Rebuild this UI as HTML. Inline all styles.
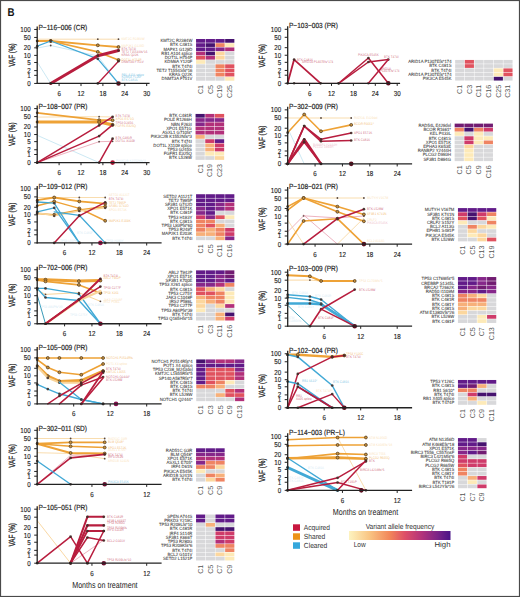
<!DOCTYPE html><html><head><meta charset="utf-8"><style>html,body{margin:0;padding:0;background:#fff;width:520px;height:597px;overflow:hidden}</style></head><body><svg width="520" height="597" viewBox="0 0 520 597" style="display:block;font-family:'Liberation Sans', sans-serif" text-rendering="geometricPrecision">
<rect x="0" y="0" width="520" height="597" fill="#fff"/>
<text x="7.60" y="16.30" font-size="11.3" fill="#111" text-anchor="start" textLength="7.02" lengthAdjust="spacingAndGlyphs" font-weight="bold">B</text>
<text x="38.50" y="29.95" font-size="7.4" fill="#222" text-anchor="start" stroke="#222" stroke-width="0.18" textLength="48.75" lengthAdjust="spacingAndGlyphs">P−116−006 (CR)</text>
<text transform="translate(14.50,55.05) rotate(-90)" font-size="9" fill="#222" stroke="#222" stroke-width="0.25" text-anchor="middle" textLength="23.5" lengthAdjust="spacingAndGlyphs">VAF (%)</text>
<polyline points="37.20,39.20 50.70,39.20 97.80,39.20 118.50,39.20" fill="none" stroke="#f8d49a" stroke-width="0.8" stroke-linejoin="round" stroke-linecap="round"/>
<circle cx="97.80" cy="39.20" r="0.9" fill="#3b2a24" fill-opacity="0.85"/>
<circle cx="118.50" cy="39.20" r="0.9" fill="#3b2a24" fill-opacity="0.85"/>
<polyline points="37.20,48.00 50.70,45.50 97.80,56.00 118.50,83.45" fill="none" stroke="#bfe2f0" stroke-width="0.8" stroke-linejoin="round" stroke-linecap="round"/>
<circle cx="37.20" cy="48.00" r="0.9" fill="#3b2a24" fill-opacity="0.85"/>
<circle cx="50.70" cy="45.50" r="0.9" fill="#3b2a24" fill-opacity="0.85"/>
<circle cx="97.80" cy="56.00" r="0.9" fill="#3b2a24" fill-opacity="0.85"/>
<circle cx="118.50" cy="83.45" r="0.9" fill="#3b2a24" fill-opacity="0.85"/>
<polyline points="37.20,62.00 50.70,83.45" fill="none" stroke="#bfe2f0" stroke-width="0.8" stroke-linejoin="round" stroke-linecap="round"/>
<polyline points="37.20,41.00 50.70,41.00 97.80,45.30 118.50,47.00" fill="none" stroke="#eea236" stroke-width="1.8" stroke-linejoin="round" stroke-linecap="round"/>
<circle cx="37.20" cy="41.00" r="1.35" fill="#3b2a24" fill-opacity="0.85"/>
<circle cx="50.70" cy="41.00" r="1.4500000000000002" fill="#c8923a" stroke="#4a3520" stroke-width="0.8" stroke-opacity="0.9"/>
<circle cx="97.80" cy="45.30" r="1.4500000000000002" fill="#c8923a" stroke="#4a3520" stroke-width="0.8" stroke-opacity="0.9"/>
<circle cx="118.50" cy="47.00" r="1.4500000000000002" fill="#c8923a" stroke="#4a3520" stroke-width="0.8" stroke-opacity="0.9"/>
<polyline points="37.20,41.00 50.70,41.00 97.80,51.90 118.50,60.00" fill="none" stroke="#eea236" stroke-width="1.6" stroke-linejoin="round" stroke-linecap="round"/>
<circle cx="37.20" cy="41.00" r="1.35" fill="#3b2a24" fill-opacity="0.85"/>
<circle cx="50.70" cy="41.00" r="1.4500000000000002" fill="#c8923a" stroke="#4a3520" stroke-width="0.8" stroke-opacity="0.9"/>
<circle cx="97.80" cy="51.90" r="1.4500000000000002" fill="#c8923a" stroke="#4a3520" stroke-width="0.8" stroke-opacity="0.9"/>
<circle cx="118.50" cy="60.00" r="1.4500000000000002" fill="#c8923a" stroke="#4a3520" stroke-width="0.8" stroke-opacity="0.9"/>
<polyline points="37.20,46.20 50.70,41.00 97.80,58.80 118.50,83.45" fill="none" stroke="#42a9d6" stroke-width="1.3" stroke-linejoin="round" stroke-linecap="round"/>
<circle cx="37.20" cy="46.20" r="1.35" fill="#3b2a24" fill-opacity="0.85"/>
<circle cx="50.70" cy="41.00" r="1.35" fill="#3b2a24" fill-opacity="0.85"/>
<circle cx="97.80" cy="58.80" r="1.35" fill="#3b2a24" fill-opacity="0.85"/>
<circle cx="118.50" cy="83.45" r="1.35" fill="#3b2a24" fill-opacity="0.85"/>
<polyline points="50.70,83.45 97.80,55.70 118.50,50.50" fill="none" stroke="#b81d3e" stroke-width="3.0" stroke-linejoin="round" stroke-linecap="round"/>
<circle cx="50.70" cy="83.45" r="1.35" fill="#3b2a24" fill-opacity="0.85"/>
<circle cx="97.80" cy="55.70" r="1.35" fill="#3b2a24" fill-opacity="0.85"/>
<circle cx="118.50" cy="50.50" r="1.35" fill="#3b2a24" fill-opacity="0.85"/>
<polyline points="97.80,83.45 118.50,61.20" fill="none" stroke="#b81d3e" stroke-width="1.3" stroke-linejoin="round" stroke-linecap="round"/>
<circle cx="97.80" cy="83.45" r="1.35" fill="#3b2a24" fill-opacity="0.85"/>
<circle cx="118.50" cy="61.20" r="1.35" fill="#3b2a24" fill-opacity="0.85"/>
<circle cx="118.50" cy="83.45" r="2.3" fill="#5a1020"/>
<text x="121.50" y="40.20" font-size="3.6" fill="#f8d49a" text-anchor="start" textLength="23.13" lengthAdjust="spacingAndGlyphs" fill-opacity="0.72">KMT2C R2384W</text>
<text x="121.50" y="46.60" font-size="3.6" fill="#f8d49a" text-anchor="start" textLength="22.62" lengthAdjust="spacingAndGlyphs" fill-opacity="0.72">MAP2K1 G129D</text>
<text x="121.50" y="49.60" font-size="3.6" fill="#b81d3e" text-anchor="start" textLength="14.57" lengthAdjust="spacingAndGlyphs" fill-opacity="0.72">BTK T474I</text>
<text x="121.50" y="52.60" font-size="3.6" fill="#b81d3e" text-anchor="start" textLength="25.97" lengthAdjust="spacingAndGlyphs" fill-opacity="0.72">TET2 T1554Sfs*16</text>
<text x="121.50" y="55.60" font-size="3.6" fill="#b81d3e" text-anchor="start" textLength="17.01" lengthAdjust="spacingAndGlyphs" fill-opacity="0.72">KRAS Q22K</text>
<text x="121.50" y="60.80" font-size="3.6" fill="#eea236" text-anchor="start" textLength="19.96" lengthAdjust="spacingAndGlyphs" fill-opacity="0.72">DOT1L H754P</text>
<text x="121.50" y="63.40" font-size="3.6" fill="#b81d3e" text-anchor="start" textLength="22.28" lengthAdjust="spacingAndGlyphs" fill-opacity="0.72">DNMT3A F751V</text>
<text x="121.50" y="75.60" font-size="3.6" fill="#42a9d6" text-anchor="start" textLength="22.45" lengthAdjust="spacingAndGlyphs" fill-opacity="0.72">RB1 A104 splice</text>
<text x="121.50" y="78.40" font-size="3.6" fill="#42a9d6" text-anchor="start" textLength="20.18" lengthAdjust="spacingAndGlyphs" fill-opacity="0.72">KDM6A Y120F</text>
<text x="121.50" y="81.40" font-size="3.6" fill="#42a9d6" text-anchor="start" textLength="16.16" lengthAdjust="spacingAndGlyphs" fill-opacity="0.72">BTK C481S</text>
<line x1="37.20" y1="26.45" x2="37.20" y2="84.05" stroke="#222" stroke-width="1.3"/>
<line x1="36.60" y1="83.45" x2="149.60" y2="83.45" stroke="#222" stroke-width="1.3"/>
<line x1="34.20" y1="29.45" x2="37.20" y2="29.45" stroke="#222" stroke-width="1"/>
<text x="30.60" y="31.95" font-size="7.2" fill="#222" text-anchor="end" stroke="#222" stroke-width="0.14" textLength="10.33" lengthAdjust="spacingAndGlyphs">100</text>
<line x1="34.20" y1="37.45" x2="37.20" y2="37.45" stroke="#222" stroke-width="1"/>
<text x="30.60" y="39.95" font-size="7.2" fill="#222" text-anchor="end" stroke="#222" stroke-width="0.14" textLength="6.89" lengthAdjust="spacingAndGlyphs">50</text>
<line x1="34.20" y1="47.83" x2="37.20" y2="47.83" stroke="#222" stroke-width="1"/>
<text x="30.60" y="50.33" font-size="7.2" fill="#222" text-anchor="end" stroke="#222" stroke-width="0.14" textLength="6.89" lengthAdjust="spacingAndGlyphs">20</text>
<line x1="34.20" y1="55.39" x2="37.20" y2="55.39" stroke="#222" stroke-width="1"/>
<text x="30.60" y="57.89" font-size="7.2" fill="#222" text-anchor="end" stroke="#222" stroke-width="0.14" textLength="6.89" lengthAdjust="spacingAndGlyphs">10</text>
<line x1="34.20" y1="62.49" x2="37.20" y2="62.49" stroke="#222" stroke-width="1"/>
<text x="30.60" y="64.99" font-size="7.2" fill="#222" text-anchor="end" stroke="#222" stroke-width="0.14" textLength="3.44" lengthAdjust="spacingAndGlyphs">5</text>
<line x1="34.20" y1="70.60" x2="37.20" y2="70.60" stroke="#222" stroke-width="1"/>
<text x="30.60" y="73.10" font-size="7.2" fill="#222" text-anchor="end" stroke="#222" stroke-width="0.14" textLength="3.44" lengthAdjust="spacingAndGlyphs">2</text>
<line x1="34.20" y1="75.34" x2="37.20" y2="75.34" stroke="#222" stroke-width="1"/>
<text x="30.60" y="77.84" font-size="7.2" fill="#222" text-anchor="end" stroke="#222" stroke-width="0.14" textLength="3.44" lengthAdjust="spacingAndGlyphs">1</text>
<line x1="34.20" y1="83.45" x2="37.20" y2="83.45" stroke="#222" stroke-width="1"/>
<text x="30.60" y="85.95" font-size="7.2" fill="#222" text-anchor="end" stroke="#222" stroke-width="0.14" textLength="3.44" lengthAdjust="spacingAndGlyphs">0</text>
<line x1="59.10" y1="83.45" x2="59.10" y2="86.05" stroke="#222" stroke-width="1"/>
<text x="59.10" y="95.85" font-size="7.2" fill="#222" text-anchor="middle" stroke="#222" stroke-width="0.14" textLength="3.44" lengthAdjust="spacingAndGlyphs">6</text>
<line x1="81.00" y1="83.45" x2="81.00" y2="86.05" stroke="#222" stroke-width="1"/>
<text x="81.00" y="95.85" font-size="7.2" fill="#222" text-anchor="middle" stroke="#222" stroke-width="0.14" textLength="6.89" lengthAdjust="spacingAndGlyphs">12</text>
<line x1="102.90" y1="83.45" x2="102.90" y2="86.05" stroke="#222" stroke-width="1"/>
<text x="102.90" y="95.85" font-size="7.2" fill="#222" text-anchor="middle" stroke="#222" stroke-width="0.14" textLength="6.89" lengthAdjust="spacingAndGlyphs">18</text>
<line x1="124.80" y1="83.45" x2="124.80" y2="86.05" stroke="#222" stroke-width="1"/>
<text x="124.80" y="95.85" font-size="7.2" fill="#222" text-anchor="middle" stroke="#222" stroke-width="0.14" textLength="6.89" lengthAdjust="spacingAndGlyphs">24</text>
<line x1="146.70" y1="83.45" x2="146.70" y2="86.05" stroke="#222" stroke-width="1"/>
<text x="146.70" y="95.85" font-size="7.2" fill="#222" text-anchor="middle" stroke="#222" stroke-width="0.14" textLength="6.89" lengthAdjust="spacingAndGlyphs">30</text>
<rect x="196.05" y="39.00" width="9.20" height="3.72" fill="#621b89"/>
<rect x="205.75" y="39.00" width="9.20" height="3.72" fill="#621b89"/>
<rect x="215.45" y="39.00" width="9.20" height="3.72" fill="#621b89"/>
<rect x="225.15" y="39.00" width="9.20" height="3.72" fill="#46136f"/>
<text x="192.40" y="42.27" font-size="4.7" fill="#333" text-anchor="end" stroke="#333" stroke-width="0.06" textLength="31.97" lengthAdjust="spacingAndGlyphs">KMT2C R2384W</text>
<rect x="196.05" y="43.22" width="9.20" height="3.72" fill="#621b89"/>
<rect x="205.75" y="43.22" width="9.20" height="3.72" fill="#46136f"/>
<rect x="215.45" y="43.22" width="9.20" height="3.72" fill="#ef8462"/>
<rect x="225.15" y="43.22" width="9.20" height="3.72" fill="#fdeab8"/>
<text x="192.40" y="46.49" font-size="4.7" fill="#333" text-anchor="end" stroke="#333" stroke-width="0.06" textLength="22.34" lengthAdjust="spacingAndGlyphs">BTK C481S</text>
<rect x="196.05" y="47.44" width="9.20" height="3.72" fill="#621b89"/>
<rect x="205.75" y="47.44" width="9.20" height="3.72" fill="#621b89"/>
<rect x="215.45" y="47.44" width="9.20" height="3.72" fill="#86278a"/>
<rect x="225.15" y="47.44" width="9.20" height="3.72" fill="#b2307a"/>
<text x="192.40" y="50.71" font-size="4.7" fill="#333" text-anchor="end" stroke="#333" stroke-width="0.06" textLength="28.92" lengthAdjust="spacingAndGlyphs">MAPK1 G129D</text>
<rect x="196.05" y="51.66" width="9.20" height="3.72" fill="#b2307a"/>
<rect x="205.75" y="51.66" width="9.20" height="3.72" fill="#46136f"/>
<rect x="215.45" y="51.66" width="9.20" height="3.72" fill="#fcd79e"/>
<rect x="225.15" y="51.66" width="9.20" height="3.72" fill="#d8d8da"/>
<text x="192.40" y="54.93" font-size="4.7" fill="#333" text-anchor="end" stroke="#333" stroke-width="0.06" textLength="31.04" lengthAdjust="spacingAndGlyphs">RB1 A104 splice</text>
<rect x="196.05" y="55.88" width="9.20" height="3.72" fill="#e0525f"/>
<rect x="205.75" y="55.88" width="9.20" height="3.72" fill="#b2307a"/>
<rect x="215.45" y="55.88" width="9.20" height="3.72" fill="#fcd79e"/>
<rect x="225.15" y="55.88" width="9.20" height="3.72" fill="#d8d8da"/>
<text x="192.40" y="59.15" font-size="4.7" fill="#333" text-anchor="end" stroke="#333" stroke-width="0.06" textLength="27.58" lengthAdjust="spacingAndGlyphs">DOT1L H754P</text>
<rect x="196.05" y="60.10" width="9.20" height="3.72" fill="#fdeab8"/>
<rect x="205.75" y="60.10" width="9.20" height="3.72" fill="#d8d8da"/>
<rect x="215.45" y="60.10" width="9.20" height="3.72" fill="#d8d8da"/>
<rect x="225.15" y="60.10" width="9.20" height="3.72" fill="#d8d8da"/>
<text x="192.40" y="63.37" font-size="4.7" fill="#333" text-anchor="end" stroke="#333" stroke-width="0.06" textLength="27.90" lengthAdjust="spacingAndGlyphs">KDM6A Y120F</text>
<rect x="196.05" y="64.32" width="9.20" height="3.72" fill="#d8d8da"/>
<rect x="205.75" y="64.32" width="9.20" height="3.72" fill="#d8d8da"/>
<rect x="215.45" y="64.32" width="9.20" height="3.72" fill="#ef8462"/>
<rect x="225.15" y="64.32" width="9.20" height="3.72" fill="#e0525f"/>
<text x="192.40" y="67.59" font-size="4.7" fill="#333" text-anchor="end" stroke="#333" stroke-width="0.06" textLength="20.14" lengthAdjust="spacingAndGlyphs">BTK T474I</text>
<rect x="196.05" y="68.54" width="9.20" height="3.72" fill="#d8d8da"/>
<rect x="205.75" y="68.54" width="9.20" height="3.72" fill="#d8d8da"/>
<rect x="215.45" y="68.54" width="9.20" height="3.72" fill="#ef8462"/>
<rect x="225.15" y="68.54" width="9.20" height="3.72" fill="#e0525f"/>
<text x="192.40" y="71.81" font-size="4.7" fill="#333" text-anchor="end" stroke="#333" stroke-width="0.06" textLength="35.89" lengthAdjust="spacingAndGlyphs">TET2 T1554Sfs*16</text>
<rect x="196.05" y="72.76" width="9.20" height="3.72" fill="#d8d8da"/>
<rect x="205.75" y="72.76" width="9.20" height="3.72" fill="#d8d8da"/>
<rect x="215.45" y="72.76" width="9.20" height="3.72" fill="#ef8462"/>
<rect x="225.15" y="72.76" width="9.20" height="3.72" fill="#e0525f"/>
<text x="192.40" y="76.03" font-size="4.7" fill="#333" text-anchor="end" stroke="#333" stroke-width="0.06" textLength="23.51" lengthAdjust="spacingAndGlyphs">KRAS Q22K</text>
<rect x="196.05" y="76.98" width="9.20" height="3.72" fill="#d8d8da"/>
<rect x="205.75" y="76.98" width="9.20" height="3.72" fill="#d8d8da"/>
<rect x="215.45" y="76.98" width="9.20" height="3.72" fill="#d8d8da"/>
<rect x="225.15" y="76.98" width="9.20" height="3.72" fill="#fdeab8"/>
<text x="192.40" y="80.25" font-size="4.7" fill="#333" text-anchor="end" stroke="#333" stroke-width="0.06" textLength="30.79" lengthAdjust="spacingAndGlyphs">DNMT3A F751V</text>
<text transform="translate(203.05,84.95) rotate(-90)" font-size="7.1" fill="#555" text-anchor="end">C1</text>
<text transform="translate(212.75,84.95) rotate(-90)" font-size="7.1" fill="#555" text-anchor="end">C5</text>
<text transform="translate(222.45,84.95) rotate(-90)" font-size="7.1" fill="#555" text-anchor="end">C19</text>
<text transform="translate(232.15,84.95) rotate(-90)" font-size="7.1" fill="#555" text-anchor="end">C25</text>
<text x="38.50" y="109.10" font-size="7.4" fill="#222" text-anchor="start" stroke="#222" stroke-width="0.18" textLength="48.87" lengthAdjust="spacingAndGlyphs">P−108−007 (PR)</text>
<text transform="translate(14.50,134.20) rotate(-90)" font-size="9" fill="#222" stroke="#222" stroke-width="0.25" text-anchor="middle" textLength="23.5" lengthAdjust="spacingAndGlyphs">VAF (%)</text>
<polyline points="37.20,117.10 99.10,116.70 112.60,117.00" fill="none" stroke="#f8d49a" stroke-width="0.8" stroke-linejoin="round" stroke-linecap="round"/>
<circle cx="99.10" cy="116.70" r="0.9" fill="#3b2a24" fill-opacity="0.85"/>
<circle cx="112.60" cy="117.00" r="0.9" fill="#3b2a24" fill-opacity="0.85"/>
<polyline points="37.20,135.30 99.10,162.60" fill="none" stroke="#bfe2f0" stroke-width="0.8" stroke-linejoin="round" stroke-linecap="round"/>
<polyline points="37.20,162.60 99.10,141.70 112.60,141.30" fill="none" stroke="#e8a0b0" stroke-width="0.8" stroke-linejoin="round" stroke-linecap="round"/>
<circle cx="37.20" cy="162.60" r="0.9" fill="#3b2a24" fill-opacity="0.85"/>
<circle cx="99.10" cy="141.70" r="0.9" fill="#3b2a24" fill-opacity="0.85"/>
<circle cx="112.60" cy="141.30" r="0.9" fill="#3b2a24" fill-opacity="0.85"/>
<polyline points="37.20,112.80 99.10,120.20 112.60,120.20" fill="none" stroke="#eea236" stroke-width="1.8" stroke-linejoin="round" stroke-linecap="round"/>
<circle cx="37.20" cy="112.80" r="1.35" fill="#3b2a24" fill-opacity="0.85"/>
<circle cx="99.10" cy="120.20" r="1.4500000000000002" fill="#c8923a" stroke="#4a3520" stroke-width="0.8" stroke-opacity="0.9"/>
<circle cx="112.60" cy="120.20" r="1.4500000000000002" fill="#c8923a" stroke="#4a3520" stroke-width="0.8" stroke-opacity="0.9"/>
<polyline points="37.20,122.00 99.10,122.00 112.60,124.90" fill="none" stroke="#eea236" stroke-width="3.2" stroke-linejoin="round" stroke-linecap="round"/>
<circle cx="37.20" cy="122.00" r="1.35" fill="#3b2a24" fill-opacity="0.85"/>
<circle cx="99.10" cy="122.00" r="1.4500000000000002" fill="#c8923a" stroke="#4a3520" stroke-width="0.8" stroke-opacity="0.9"/>
<circle cx="112.60" cy="124.90" r="1.4500000000000002" fill="#c8923a" stroke="#4a3520" stroke-width="0.8" stroke-opacity="0.9"/>
<polyline points="37.20,162.60 99.10,125.40 112.60,116.80" fill="none" stroke="#b81d3e" stroke-width="1.5" stroke-linejoin="round" stroke-linecap="round"/>
<circle cx="37.20" cy="162.60" r="1.35" fill="#3b2a24" fill-opacity="0.85"/>
<circle cx="99.10" cy="125.40" r="1.35" fill="#3b2a24" fill-opacity="0.85"/>
<circle cx="112.60" cy="116.80" r="1.35" fill="#3b2a24" fill-opacity="0.85"/>
<polyline points="37.20,162.60 99.10,136.10 112.60,124.90" fill="none" stroke="#b81d3e" stroke-width="1.5" stroke-linejoin="round" stroke-linecap="round"/>
<circle cx="37.20" cy="162.60" r="1.35" fill="#3b2a24" fill-opacity="0.85"/>
<circle cx="99.10" cy="136.10" r="1.35" fill="#3b2a24" fill-opacity="0.85"/>
<circle cx="112.60" cy="124.90" r="1.35" fill="#3b2a24" fill-opacity="0.85"/>
<polyline points="99.10,162.60 112.60,138.70" fill="none" stroke="#b81d3e" stroke-width="1.5" stroke-linejoin="round" stroke-linecap="round"/>
<circle cx="99.10" cy="162.60" r="1.35" fill="#3b2a24" fill-opacity="0.85"/>
<circle cx="112.60" cy="138.70" r="1.35" fill="#3b2a24" fill-opacity="0.85"/>
<circle cx="112.60" cy="162.60" r="2.3" fill="#b01030"/>
<text x="115.60" y="117.30" font-size="3.6" fill="#b81d3e" text-anchor="start" textLength="14.57" lengthAdjust="spacingAndGlyphs" fill-opacity="0.72">BTK T474I</text>
<text x="115.60" y="120.00" font-size="3.6" fill="#eea236" text-anchor="start" textLength="18.54" lengthAdjust="spacingAndGlyphs" fill-opacity="0.72">XPO1 E571G</text>
<text x="115.60" y="124.20" font-size="3.6" fill="#b81d3e" text-anchor="start" textLength="17.69" lengthAdjust="spacingAndGlyphs" fill-opacity="0.72">TP53 G245S</text>
<text x="115.60" y="126.60" font-size="3.6" fill="#eea236" text-anchor="start" textLength="20.41" lengthAdjust="spacingAndGlyphs" fill-opacity="0.72">FGFR1 E325Q</text>
<text x="115.60" y="139.30" font-size="3.6" fill="#b81d3e" text-anchor="start" textLength="16.33" lengthAdjust="spacingAndGlyphs" fill-opacity="0.72">BTK C481R</text>
<text x="115.60" y="141.70" font-size="3.6" fill="#b81d3e" text-anchor="start" textLength="19.22" lengthAdjust="spacingAndGlyphs" fill-opacity="0.72">DOT1L X1109</text>
<text x="116.00" y="161.80" font-size="3.6" fill="#bfe2f0" text-anchor="start" textLength="29.77" lengthAdjust="spacingAndGlyphs" fill-opacity="0.72">PIK3C2B K1552Nfs*3</text>
<line x1="37.20" y1="105.60" x2="37.20" y2="163.20" stroke="#222" stroke-width="1.3"/>
<line x1="36.60" y1="162.60" x2="149.60" y2="162.60" stroke="#222" stroke-width="1.3"/>
<line x1="34.20" y1="108.60" x2="37.20" y2="108.60" stroke="#222" stroke-width="1"/>
<text x="30.60" y="111.10" font-size="7.2" fill="#222" text-anchor="end" stroke="#222" stroke-width="0.14" textLength="10.33" lengthAdjust="spacingAndGlyphs">100</text>
<line x1="34.20" y1="116.60" x2="37.20" y2="116.60" stroke="#222" stroke-width="1"/>
<text x="30.60" y="119.10" font-size="7.2" fill="#222" text-anchor="end" stroke="#222" stroke-width="0.14" textLength="6.89" lengthAdjust="spacingAndGlyphs">50</text>
<line x1="34.20" y1="126.98" x2="37.20" y2="126.98" stroke="#222" stroke-width="1"/>
<text x="30.60" y="129.48" font-size="7.2" fill="#222" text-anchor="end" stroke="#222" stroke-width="0.14" textLength="6.89" lengthAdjust="spacingAndGlyphs">20</text>
<line x1="34.20" y1="134.54" x2="37.20" y2="134.54" stroke="#222" stroke-width="1"/>
<text x="30.60" y="137.04" font-size="7.2" fill="#222" text-anchor="end" stroke="#222" stroke-width="0.14" textLength="6.89" lengthAdjust="spacingAndGlyphs">10</text>
<line x1="34.20" y1="141.64" x2="37.20" y2="141.64" stroke="#222" stroke-width="1"/>
<text x="30.60" y="144.14" font-size="7.2" fill="#222" text-anchor="end" stroke="#222" stroke-width="0.14" textLength="3.44" lengthAdjust="spacingAndGlyphs">5</text>
<line x1="34.20" y1="149.75" x2="37.20" y2="149.75" stroke="#222" stroke-width="1"/>
<text x="30.60" y="152.25" font-size="7.2" fill="#222" text-anchor="end" stroke="#222" stroke-width="0.14" textLength="3.44" lengthAdjust="spacingAndGlyphs">2</text>
<line x1="34.20" y1="154.49" x2="37.20" y2="154.49" stroke="#222" stroke-width="1"/>
<text x="30.60" y="156.99" font-size="7.2" fill="#222" text-anchor="end" stroke="#222" stroke-width="0.14" textLength="3.44" lengthAdjust="spacingAndGlyphs">1</text>
<line x1="34.20" y1="162.60" x2="37.20" y2="162.60" stroke="#222" stroke-width="1"/>
<text x="30.60" y="165.10" font-size="7.2" fill="#222" text-anchor="end" stroke="#222" stroke-width="0.14" textLength="3.44" lengthAdjust="spacingAndGlyphs">0</text>
<line x1="59.10" y1="162.60" x2="59.10" y2="165.20" stroke="#222" stroke-width="1"/>
<text x="59.10" y="175.00" font-size="7.2" fill="#222" text-anchor="middle" stroke="#222" stroke-width="0.14" textLength="3.44" lengthAdjust="spacingAndGlyphs">6</text>
<line x1="81.00" y1="162.60" x2="81.00" y2="165.20" stroke="#222" stroke-width="1"/>
<text x="81.00" y="175.00" font-size="7.2" fill="#222" text-anchor="middle" stroke="#222" stroke-width="0.14" textLength="6.89" lengthAdjust="spacingAndGlyphs">12</text>
<line x1="102.90" y1="162.60" x2="102.90" y2="165.20" stroke="#222" stroke-width="1"/>
<text x="102.90" y="175.00" font-size="7.2" fill="#222" text-anchor="middle" stroke="#222" stroke-width="0.14" textLength="6.89" lengthAdjust="spacingAndGlyphs">18</text>
<line x1="124.80" y1="162.60" x2="124.80" y2="165.20" stroke="#222" stroke-width="1"/>
<text x="124.80" y="175.00" font-size="7.2" fill="#222" text-anchor="middle" stroke="#222" stroke-width="0.14" textLength="6.89" lengthAdjust="spacingAndGlyphs">24</text>
<line x1="146.70" y1="162.60" x2="146.70" y2="165.20" stroke="#222" stroke-width="1"/>
<text x="146.70" y="175.00" font-size="7.2" fill="#222" text-anchor="middle" stroke="#222" stroke-width="0.14" textLength="6.89" lengthAdjust="spacingAndGlyphs">30</text>
<rect x="195.55" y="113.93" width="9.20" height="3.72" fill="#46136f"/>
<rect x="205.25" y="113.93" width="9.20" height="3.72" fill="#b2307a"/>
<rect x="214.95" y="113.93" width="9.20" height="3.72" fill="#e0525f"/>
<text x="191.90" y="117.20" font-size="4.7" fill="#333" text-anchor="end" stroke="#333" stroke-width="0.06" textLength="22.57" lengthAdjust="spacingAndGlyphs">BTK C481R</text>
<rect x="195.55" y="118.15" width="9.20" height="3.72" fill="#86278a"/>
<rect x="205.25" y="118.15" width="9.20" height="3.72" fill="#86278a"/>
<rect x="214.95" y="118.15" width="9.20" height="3.72" fill="#86278a"/>
<text x="191.90" y="121.42" font-size="4.7" fill="#333" text-anchor="end" stroke="#333" stroke-width="0.06" textLength="27.98" lengthAdjust="spacingAndGlyphs">POLE R1266H</text>
<rect x="195.55" y="122.37" width="9.20" height="3.72" fill="#86278a"/>
<rect x="205.25" y="122.37" width="9.20" height="3.72" fill="#b2307a"/>
<rect x="214.95" y="122.37" width="9.20" height="3.72" fill="#b2307a"/>
<text x="191.90" y="125.64" font-size="4.7" fill="#333" text-anchor="end" stroke="#333" stroke-width="0.06" textLength="20.92" lengthAdjust="spacingAndGlyphs">NBN F263I</text>
<rect x="195.55" y="126.59" width="9.20" height="3.72" fill="#b2307a"/>
<rect x="205.25" y="126.59" width="9.20" height="3.72" fill="#b2307a"/>
<rect x="214.95" y="126.59" width="9.20" height="3.72" fill="#b2307a"/>
<text x="191.90" y="129.86" font-size="4.7" fill="#333" text-anchor="end" stroke="#333" stroke-width="0.06" textLength="25.63" lengthAdjust="spacingAndGlyphs">XPO1 E571G</text>
<rect x="195.55" y="130.81" width="9.20" height="3.72" fill="#b2307a"/>
<rect x="205.25" y="130.81" width="9.20" height="3.72" fill="#b2307a"/>
<rect x="214.95" y="130.81" width="9.20" height="3.72" fill="#b2307a"/>
<text x="191.90" y="134.08" font-size="4.7" fill="#333" text-anchor="end" stroke="#333" stroke-width="0.06" textLength="29.63" lengthAdjust="spacingAndGlyphs">ASXL1 G710fs*</text>
<rect x="195.55" y="135.03" width="9.20" height="3.72" fill="#f7b07a"/>
<rect x="205.25" y="135.03" width="9.20" height="3.72" fill="#d8d8da"/>
<rect x="214.95" y="135.03" width="9.20" height="3.72" fill="#d8d8da"/>
<text x="191.90" y="138.30" font-size="4.7" fill="#333" text-anchor="end" stroke="#333" stroke-width="0.06" textLength="41.15" lengthAdjust="spacingAndGlyphs">PIK3C2B K1552Nfs*3</text>
<rect x="195.55" y="139.25" width="9.20" height="3.72" fill="#d8d8da"/>
<rect x="205.25" y="139.25" width="9.20" height="3.72" fill="#cf3b6a"/>
<rect x="214.95" y="139.25" width="9.20" height="3.72" fill="#621b89"/>
<text x="191.90" y="142.52" font-size="4.7" fill="#333" text-anchor="end" stroke="#333" stroke-width="0.06" textLength="20.14" lengthAdjust="spacingAndGlyphs">BTK T474I</text>
<rect x="195.55" y="143.47" width="9.20" height="3.72" fill="#d8d8da"/>
<rect x="205.25" y="143.47" width="9.20" height="3.72" fill="#f7b07a"/>
<rect x="214.95" y="143.47" width="9.20" height="3.72" fill="#cf3b6a"/>
<text x="191.90" y="146.74" font-size="4.7" fill="#333" text-anchor="end" stroke="#333" stroke-width="0.06" textLength="38.56" lengthAdjust="spacingAndGlyphs">DOT1L X1109 splice</text>
<rect x="195.55" y="147.69" width="9.20" height="3.72" fill="#d8d8da"/>
<rect x="205.25" y="147.69" width="9.20" height="3.72" fill="#f7b07a"/>
<rect x="214.95" y="147.69" width="9.20" height="3.72" fill="#cf3b6a"/>
<text x="191.90" y="150.96" font-size="4.7" fill="#333" text-anchor="end" stroke="#333" stroke-width="0.06" textLength="24.45" lengthAdjust="spacingAndGlyphs">TP53 G245S</text>
<rect x="195.55" y="151.91" width="9.20" height="3.72" fill="#d8d8da"/>
<rect x="205.25" y="151.91" width="9.20" height="3.72" fill="#fdeab8"/>
<rect x="214.95" y="151.91" width="9.20" height="3.72" fill="#fdeab8"/>
<text x="191.90" y="155.18" font-size="4.7" fill="#333" text-anchor="end" stroke="#333" stroke-width="0.06" textLength="28.21" lengthAdjust="spacingAndGlyphs">FGFR1 E325Q</text>
<rect x="195.55" y="156.13" width="9.20" height="3.72" fill="#d8d8da"/>
<rect x="205.25" y="156.13" width="9.20" height="3.72" fill="#d8d8da"/>
<rect x="214.95" y="156.13" width="9.20" height="3.72" fill="#fcd79e"/>
<text x="191.90" y="159.40" font-size="4.7" fill="#333" text-anchor="end" stroke="#333" stroke-width="0.06" textLength="22.80" lengthAdjust="spacingAndGlyphs">BTK L528W</text>
<text transform="translate(202.55,164.10) rotate(-90)" font-size="7.1" fill="#555" text-anchor="end">C1</text>
<text transform="translate(212.25,164.10) rotate(-90)" font-size="7.1" fill="#555" text-anchor="end">C19</text>
<text transform="translate(221.95,164.10) rotate(-90)" font-size="7.1" fill="#555" text-anchor="end">C23</text>
<text x="38.50" y="189.40" font-size="7.4" fill="#222" text-anchor="start" stroke="#222" stroke-width="0.18" textLength="48.87" lengthAdjust="spacingAndGlyphs">P−109−012 (PR)</text>
<text transform="translate(14.50,214.50) rotate(-90)" font-size="9" fill="#222" stroke="#222" stroke-width="0.25" text-anchor="middle" textLength="23.5" lengthAdjust="spacingAndGlyphs">VAF (%)</text>
<polyline points="37.20,197.50 54.20,197.50 79.30,197.50 105.20,197.50" fill="none" stroke="#f8d49a" stroke-width="0.8" stroke-linejoin="round" stroke-linecap="round"/>
<circle cx="79.30" cy="197.50" r="0.9" fill="#3b2a24" fill-opacity="0.85"/>
<circle cx="105.20" cy="197.50" r="0.9" fill="#3b2a24" fill-opacity="0.85"/>
<polyline points="37.20,200.20 54.20,197.50 79.30,201.40 105.20,203.70" fill="none" stroke="#eea236" stroke-width="1.8" stroke-linejoin="round" stroke-linecap="round"/>
<circle cx="37.20" cy="200.20" r="1.35" fill="#3b2a24" fill-opacity="0.85"/>
<circle cx="54.20" cy="197.50" r="1.4500000000000002" fill="#c8923a" stroke="#4a3520" stroke-width="0.8" stroke-opacity="0.9"/>
<circle cx="79.30" cy="201.40" r="1.4500000000000002" fill="#c8923a" stroke="#4a3520" stroke-width="0.8" stroke-opacity="0.9"/>
<circle cx="105.20" cy="203.70" r="1.4500000000000002" fill="#c8923a" stroke="#4a3520" stroke-width="0.8" stroke-opacity="0.9"/>
<polyline points="37.20,205.80 54.20,201.40 79.30,208.40 105.20,220.80" fill="none" stroke="#eea236" stroke-width="1.5" stroke-linejoin="round" stroke-linecap="round"/>
<circle cx="37.20" cy="205.80" r="1.35" fill="#3b2a24" fill-opacity="0.85"/>
<circle cx="54.20" cy="201.40" r="1.4500000000000002" fill="#c8923a" stroke="#4a3520" stroke-width="0.8" stroke-opacity="0.9"/>
<circle cx="79.30" cy="208.40" r="1.4500000000000002" fill="#c8923a" stroke="#4a3520" stroke-width="0.8" stroke-opacity="0.9"/>
<circle cx="105.20" cy="220.80" r="1.4500000000000002" fill="#c8923a" stroke="#4a3520" stroke-width="0.8" stroke-opacity="0.9"/>
<polyline points="37.20,213.50 54.20,214.80 79.30,210.10 105.20,206.60" fill="none" stroke="#eea236" stroke-width="1.5" stroke-linejoin="round" stroke-linecap="round"/>
<circle cx="37.20" cy="213.50" r="1.35" fill="#3b2a24" fill-opacity="0.85"/>
<circle cx="54.20" cy="214.80" r="1.4500000000000002" fill="#c8923a" stroke="#4a3520" stroke-width="0.8" stroke-opacity="0.9"/>
<circle cx="79.30" cy="210.10" r="1.4500000000000002" fill="#c8923a" stroke="#4a3520" stroke-width="0.8" stroke-opacity="0.9"/>
<circle cx="105.20" cy="206.60" r="1.4500000000000002" fill="#c8923a" stroke="#4a3520" stroke-width="0.8" stroke-opacity="0.9"/>
<polyline points="37.20,212.70 54.20,215.80 79.30,211.00 105.20,207.80" fill="none" stroke="#f8d49a" stroke-width="1.5" stroke-linejoin="round" stroke-linecap="round"/>
<circle cx="37.20" cy="212.70" r="1.35" fill="#3b2a24" fill-opacity="0.85"/>
<circle cx="54.20" cy="215.80" r="1.35" fill="#3b2a24" fill-opacity="0.85"/>
<circle cx="79.30" cy="211.00" r="1.35" fill="#3b2a24" fill-opacity="0.85"/>
<circle cx="105.20" cy="207.80" r="1.35" fill="#3b2a24" fill-opacity="0.85"/>
<polyline points="37.20,202.00 54.20,203.20 79.30,242.90" fill="none" stroke="#42a9d6" stroke-width="1.3" stroke-linejoin="round" stroke-linecap="round"/>
<circle cx="37.20" cy="202.00" r="1.35" fill="#3b2a24" fill-opacity="0.85"/>
<circle cx="54.20" cy="203.20" r="1.35" fill="#3b2a24" fill-opacity="0.85"/>
<circle cx="79.30" cy="242.90" r="1.35" fill="#3b2a24" fill-opacity="0.85"/>
<polyline points="37.20,211.80 54.20,207.80 79.30,242.90" fill="none" stroke="#42a9d6" stroke-width="1.3" stroke-linejoin="round" stroke-linecap="round"/>
<circle cx="37.20" cy="211.80" r="1.35" fill="#3b2a24" fill-opacity="0.85"/>
<circle cx="54.20" cy="207.80" r="1.35" fill="#3b2a24" fill-opacity="0.85"/>
<circle cx="79.30" cy="242.90" r="1.35" fill="#3b2a24" fill-opacity="0.85"/>
<polyline points="54.20,211.80 79.30,215.30 105.20,242.90" fill="none" stroke="#42a9d6" stroke-width="1.3" stroke-linejoin="round" stroke-linecap="round"/>
<circle cx="79.30" cy="215.30" r="1.35" fill="#3b2a24" fill-opacity="0.85"/>
<circle cx="105.20" cy="242.90" r="1.35" fill="#3b2a24" fill-opacity="0.85"/>
<polyline points="54.20,242.90 79.30,215.80 105.20,202.30" fill="none" stroke="#b81d3e" stroke-width="1.5" stroke-linejoin="round" stroke-linecap="round"/>
<circle cx="54.20" cy="242.90" r="1.35" fill="#3b2a24" fill-opacity="0.85"/>
<circle cx="79.30" cy="215.80" r="1.35" fill="#3b2a24" fill-opacity="0.85"/>
<circle cx="105.20" cy="202.30" r="1.35" fill="#3b2a24" fill-opacity="0.85"/>
<circle cx="100.40" cy="242.90" r="2.3" fill="#a0104a"/>
<text x="108.70" y="195.60" font-size="3.6" fill="#f8d49a" text-anchor="start" textLength="21.03" lengthAdjust="spacingAndGlyphs" fill-opacity="0.72">SETD2 A1121T</text>
<text x="108.70" y="200.00" font-size="3.6" fill="#b81d3e" text-anchor="start" textLength="14.57" lengthAdjust="spacingAndGlyphs" fill-opacity="0.72">BTK T474I</text>
<text x="108.70" y="203.80" font-size="3.6" fill="#eea236" text-anchor="start" textLength="17.29" lengthAdjust="spacingAndGlyphs" fill-opacity="0.72">TET2 T995P</text>
<text x="108.70" y="207.40" font-size="3.6" fill="#eea236" text-anchor="start" textLength="19.90" lengthAdjust="spacingAndGlyphs" fill-opacity="0.72">SF3B1 G742D</text>
<text x="108.70" y="211.20" font-size="3.6" fill="#f8d49a" text-anchor="start" textLength="18.20" lengthAdjust="spacingAndGlyphs" fill-opacity="0.72">XPO1 E571K</text>
<text x="108.70" y="221.60" font-size="3.6" fill="#eea236" text-anchor="start" textLength="22.11" lengthAdjust="spacingAndGlyphs" fill-opacity="0.72">MAP2K1 E203K</text>
<text x="77.00" y="234.40" font-size="3.6" fill="#bfe2f0" text-anchor="start" textLength="15.99" lengthAdjust="spacingAndGlyphs" fill-opacity="0.72">BTK C481F</text>
<text x="60.00" y="242.00" font-size="3.6" fill="#bfe2f0" text-anchor="start" textLength="17.69" lengthAdjust="spacingAndGlyphs" fill-opacity="0.72">TP53 L93Pfs</text>
<text x="106.00" y="242.00" font-size="3.6" fill="#bfe2f0" text-anchor="start" textLength="17.52" lengthAdjust="spacingAndGlyphs" fill-opacity="0.72">TP53 H193Y</text>
<line x1="37.20" y1="185.90" x2="37.20" y2="243.50" stroke="#222" stroke-width="1.3"/>
<line x1="36.60" y1="242.90" x2="161.60" y2="242.90" stroke="#222" stroke-width="1.3"/>
<line x1="34.20" y1="188.90" x2="37.20" y2="188.90" stroke="#222" stroke-width="1"/>
<text x="30.60" y="191.40" font-size="7.2" fill="#222" text-anchor="end" stroke="#222" stroke-width="0.14" textLength="10.33" lengthAdjust="spacingAndGlyphs">100</text>
<line x1="34.20" y1="196.90" x2="37.20" y2="196.90" stroke="#222" stroke-width="1"/>
<text x="30.60" y="199.40" font-size="7.2" fill="#222" text-anchor="end" stroke="#222" stroke-width="0.14" textLength="6.89" lengthAdjust="spacingAndGlyphs">50</text>
<line x1="34.20" y1="207.28" x2="37.20" y2="207.28" stroke="#222" stroke-width="1"/>
<text x="30.60" y="209.78" font-size="7.2" fill="#222" text-anchor="end" stroke="#222" stroke-width="0.14" textLength="6.89" lengthAdjust="spacingAndGlyphs">20</text>
<line x1="34.20" y1="214.84" x2="37.20" y2="214.84" stroke="#222" stroke-width="1"/>
<text x="30.60" y="217.34" font-size="7.2" fill="#222" text-anchor="end" stroke="#222" stroke-width="0.14" textLength="6.89" lengthAdjust="spacingAndGlyphs">10</text>
<line x1="34.20" y1="221.94" x2="37.20" y2="221.94" stroke="#222" stroke-width="1"/>
<text x="30.60" y="224.44" font-size="7.2" fill="#222" text-anchor="end" stroke="#222" stroke-width="0.14" textLength="3.44" lengthAdjust="spacingAndGlyphs">5</text>
<line x1="34.20" y1="230.05" x2="37.20" y2="230.05" stroke="#222" stroke-width="1"/>
<text x="30.60" y="232.55" font-size="7.2" fill="#222" text-anchor="end" stroke="#222" stroke-width="0.14" textLength="3.44" lengthAdjust="spacingAndGlyphs">2</text>
<line x1="34.20" y1="234.79" x2="37.20" y2="234.79" stroke="#222" stroke-width="1"/>
<text x="30.60" y="237.29" font-size="7.2" fill="#222" text-anchor="end" stroke="#222" stroke-width="0.14" textLength="3.44" lengthAdjust="spacingAndGlyphs">1</text>
<line x1="34.20" y1="242.90" x2="37.20" y2="242.90" stroke="#222" stroke-width="1"/>
<text x="30.60" y="245.40" font-size="7.2" fill="#222" text-anchor="end" stroke="#222" stroke-width="0.14" textLength="3.44" lengthAdjust="spacingAndGlyphs">0</text>
<line x1="64.58" y1="242.90" x2="64.58" y2="245.50" stroke="#222" stroke-width="1"/>
<text x="64.58" y="255.30" font-size="7.2" fill="#222" text-anchor="middle" stroke="#222" stroke-width="0.14" textLength="3.44" lengthAdjust="spacingAndGlyphs">6</text>
<line x1="91.95" y1="242.90" x2="91.95" y2="245.50" stroke="#222" stroke-width="1"/>
<text x="91.95" y="255.30" font-size="7.2" fill="#222" text-anchor="middle" stroke="#222" stroke-width="0.14" textLength="6.89" lengthAdjust="spacingAndGlyphs">12</text>
<line x1="119.33" y1="242.90" x2="119.33" y2="245.50" stroke="#222" stroke-width="1"/>
<text x="119.33" y="255.30" font-size="7.2" fill="#222" text-anchor="middle" stroke="#222" stroke-width="0.14" textLength="6.89" lengthAdjust="spacingAndGlyphs">18</text>
<line x1="146.70" y1="242.90" x2="146.70" y2="245.50" stroke="#222" stroke-width="1"/>
<text x="146.70" y="255.30" font-size="7.2" fill="#222" text-anchor="middle" stroke="#222" stroke-width="0.14" textLength="6.89" lengthAdjust="spacingAndGlyphs">24</text>
<rect x="196.05" y="194.23" width="9.20" height="3.72" fill="#621b89"/>
<rect x="205.75" y="194.23" width="9.20" height="3.72" fill="#621b89"/>
<rect x="215.45" y="194.23" width="9.20" height="3.72" fill="#621b89"/>
<rect x="225.15" y="194.23" width="9.20" height="3.72" fill="#621b89"/>
<text x="192.40" y="197.50" font-size="4.7" fill="#333" text-anchor="end" stroke="#333" stroke-width="0.06" textLength="29.08" lengthAdjust="spacingAndGlyphs">SETD2 A1121T</text>
<rect x="196.05" y="198.45" width="9.20" height="3.72" fill="#621b89"/>
<rect x="205.75" y="198.45" width="9.20" height="3.72" fill="#621b89"/>
<rect x="215.45" y="198.45" width="9.20" height="3.72" fill="#621b89"/>
<rect x="225.15" y="198.45" width="9.20" height="3.72" fill="#621b89"/>
<text x="192.40" y="201.72" font-size="4.7" fill="#333" text-anchor="end" stroke="#333" stroke-width="0.06" textLength="23.90" lengthAdjust="spacingAndGlyphs">TET2 T995P</text>
<rect x="196.05" y="202.67" width="9.20" height="3.72" fill="#621b89"/>
<rect x="205.75" y="202.67" width="9.20" height="3.72" fill="#621b89"/>
<rect x="215.45" y="202.67" width="9.20" height="3.72" fill="#86278a"/>
<rect x="225.15" y="202.67" width="9.20" height="3.72" fill="#b2307a"/>
<text x="192.40" y="205.94" font-size="4.7" fill="#333" text-anchor="end" stroke="#333" stroke-width="0.06" textLength="27.51" lengthAdjust="spacingAndGlyphs">SF3B1 G742D</text>
<rect x="196.05" y="206.89" width="9.20" height="3.72" fill="#86278a"/>
<rect x="205.75" y="206.89" width="9.20" height="3.72" fill="#621b89"/>
<rect x="215.45" y="206.89" width="9.20" height="3.72" fill="#86278a"/>
<rect x="225.15" y="206.89" width="9.20" height="3.72" fill="#b2307a"/>
<text x="192.40" y="210.16" font-size="4.7" fill="#333" text-anchor="end" stroke="#333" stroke-width="0.06" textLength="25.16" lengthAdjust="spacingAndGlyphs">XPO1 E571K</text>
<rect x="196.05" y="211.11" width="9.20" height="3.72" fill="#86278a"/>
<rect x="205.75" y="211.11" width="9.20" height="3.72" fill="#621b89"/>
<rect x="215.45" y="211.11" width="9.20" height="3.72" fill="#d8d8da"/>
<rect x="225.15" y="211.11" width="9.20" height="3.72" fill="#d8d8da"/>
<text x="192.40" y="214.38" font-size="4.7" fill="#333" text-anchor="end" stroke="#333" stroke-width="0.06" textLength="22.10" lengthAdjust="spacingAndGlyphs">BTK C481F</text>
<rect x="196.05" y="215.33" width="9.20" height="3.72" fill="#cf3b6a"/>
<rect x="205.75" y="215.33" width="9.20" height="3.72" fill="#86278a"/>
<rect x="215.45" y="215.33" width="9.20" height="3.72" fill="#e0525f"/>
<rect x="225.15" y="215.33" width="9.20" height="3.72" fill="#fdeab8"/>
<text x="192.40" y="218.60" font-size="4.7" fill="#333" text-anchor="end" stroke="#333" stroke-width="0.06" textLength="24.22" lengthAdjust="spacingAndGlyphs">TP53 H193Y</text>
<rect x="196.05" y="219.55" width="9.20" height="3.72" fill="#ef8462"/>
<rect x="205.75" y="219.55" width="9.20" height="3.72" fill="#ef8462"/>
<rect x="215.45" y="219.55" width="9.20" height="3.72" fill="#d8d8da"/>
<rect x="225.15" y="219.55" width="9.20" height="3.72" fill="#d8d8da"/>
<text x="192.40" y="222.82" font-size="4.7" fill="#333" text-anchor="end" stroke="#333" stroke-width="0.06" textLength="22.34" lengthAdjust="spacingAndGlyphs">BTK C481S</text>
<rect x="196.05" y="223.77" width="9.20" height="3.72" fill="#ef8462"/>
<rect x="205.75" y="223.77" width="9.20" height="3.72" fill="#e0525f"/>
<rect x="215.45" y="223.77" width="9.20" height="3.72" fill="#f7b07a"/>
<rect x="225.15" y="223.77" width="9.20" height="3.72" fill="#d8d8da"/>
<text x="192.40" y="227.04" font-size="4.7" fill="#333" text-anchor="end" stroke="#333" stroke-width="0.06" textLength="30.80" lengthAdjust="spacingAndGlyphs">TP53 L93Pfs*60</text>
<rect x="196.05" y="227.99" width="9.20" height="3.72" fill="#ef8462"/>
<rect x="205.75" y="227.99" width="9.20" height="3.72" fill="#f7b07a"/>
<rect x="215.45" y="227.99" width="9.20" height="3.72" fill="#ef8462"/>
<rect x="225.15" y="227.99" width="9.20" height="3.72" fill="#cf3b6a"/>
<text x="192.40" y="231.26" font-size="4.7" fill="#333" text-anchor="end" stroke="#333" stroke-width="0.06" textLength="23.98" lengthAdjust="spacingAndGlyphs">TP53 R249T</text>
<rect x="196.05" y="232.21" width="9.20" height="3.72" fill="#f7b07a"/>
<rect x="205.75" y="232.21" width="9.20" height="3.72" fill="#f7b07a"/>
<rect x="215.45" y="232.21" width="9.20" height="3.72" fill="#ef8462"/>
<rect x="225.15" y="232.21" width="9.20" height="3.72" fill="#cf3b6a"/>
<text x="192.40" y="235.48" font-size="4.7" fill="#333" text-anchor="end" stroke="#333" stroke-width="0.06" textLength="30.57" lengthAdjust="spacingAndGlyphs">MAP2K1 E203K</text>
<rect x="196.05" y="236.43" width="9.20" height="3.72" fill="#d8d8da"/>
<rect x="205.75" y="236.43" width="9.20" height="3.72" fill="#d8d8da"/>
<rect x="215.45" y="236.43" width="9.20" height="3.72" fill="#f7b07a"/>
<rect x="225.15" y="236.43" width="9.20" height="3.72" fill="#86278a"/>
<text x="192.40" y="239.70" font-size="4.7" fill="#333" text-anchor="end" stroke="#333" stroke-width="0.06" textLength="20.14" lengthAdjust="spacingAndGlyphs">BTK T474I</text>
<text transform="translate(203.05,244.40) rotate(-90)" font-size="7.1" fill="#555" text-anchor="end">C1</text>
<text transform="translate(212.75,244.40) rotate(-90)" font-size="7.1" fill="#555" text-anchor="end">C5</text>
<text transform="translate(222.45,244.40) rotate(-90)" font-size="7.1" fill="#555" text-anchor="end">C11</text>
<text transform="translate(232.15,244.40) rotate(-90)" font-size="7.1" fill="#555" text-anchor="end">C16</text>
<text x="38.50" y="270.25" font-size="7.4" fill="#222" text-anchor="start" stroke="#222" stroke-width="0.18" textLength="48.87" lengthAdjust="spacingAndGlyphs">P−702−006 (PR)</text>
<text transform="translate(14.50,295.35) rotate(-90)" font-size="9" fill="#222" stroke="#222" stroke-width="0.25" text-anchor="middle" textLength="23.5" lengthAdjust="spacingAndGlyphs">VAF (%)</text>
<polyline points="37.20,290.00 45.50,294.40 78.90,292.70 100.40,301.30" fill="none" stroke="#f8d49a" stroke-width="1.0" stroke-linejoin="round" stroke-linecap="round"/>
<circle cx="37.20" cy="290.00" r="0.9" fill="#3b2a24" fill-opacity="0.85"/>
<circle cx="45.50" cy="294.40" r="0.9" fill="#3b2a24" fill-opacity="0.85"/>
<circle cx="78.90" cy="292.70" r="0.9" fill="#3b2a24" fill-opacity="0.85"/>
<circle cx="100.40" cy="301.30" r="0.9" fill="#3b2a24" fill-opacity="0.85"/>
<polyline points="37.20,279.70 45.50,279.70 78.90,281.10 100.40,280.60" fill="none" stroke="#eea236" stroke-width="3.0" stroke-linejoin="round" stroke-linecap="round"/>
<circle cx="37.20" cy="279.70" r="1.35" fill="#3b2a24" fill-opacity="0.85"/>
<circle cx="45.50" cy="279.70" r="1.4500000000000002" fill="#c8923a" stroke="#4a3520" stroke-width="0.8" stroke-opacity="0.9"/>
<circle cx="78.90" cy="281.10" r="1.4500000000000002" fill="#c8923a" stroke="#4a3520" stroke-width="0.8" stroke-opacity="0.9"/>
<circle cx="100.40" cy="280.60" r="1.4500000000000002" fill="#c8923a" stroke="#4a3520" stroke-width="0.8" stroke-opacity="0.9"/>
<polyline points="37.20,279.70 45.50,281.40 78.90,284.90 100.40,293.00" fill="none" stroke="#eea236" stroke-width="1.6" stroke-linejoin="round" stroke-linecap="round"/>
<circle cx="37.20" cy="279.70" r="1.35" fill="#3b2a24" fill-opacity="0.85"/>
<circle cx="45.50" cy="281.40" r="1.4500000000000002" fill="#c8923a" stroke="#4a3520" stroke-width="0.8" stroke-opacity="0.9"/>
<circle cx="78.90" cy="284.90" r="1.4500000000000002" fill="#c8923a" stroke="#4a3520" stroke-width="0.8" stroke-opacity="0.9"/>
<circle cx="100.40" cy="293.00" r="1.4500000000000002" fill="#c8923a" stroke="#4a3520" stroke-width="0.8" stroke-opacity="0.9"/>
<polyline points="37.20,288.40 45.50,288.40 78.90,293.90 100.40,323.75" fill="none" stroke="#42a9d6" stroke-width="1.4" stroke-linejoin="round" stroke-linecap="round"/>
<circle cx="37.20" cy="288.40" r="1.35" fill="#3b2a24" fill-opacity="0.85"/>
<circle cx="45.50" cy="288.40" r="1.35" fill="#3b2a24" fill-opacity="0.85"/>
<circle cx="78.90" cy="293.90" r="1.35" fill="#3b2a24" fill-opacity="0.85"/>
<circle cx="100.40" cy="323.75" r="1.35" fill="#3b2a24" fill-opacity="0.85"/>
<polyline points="37.20,288.40 45.50,297.50 78.90,300.50 100.40,323.75" fill="none" stroke="#42a9d6" stroke-width="1.4" stroke-linejoin="round" stroke-linecap="round"/>
<circle cx="37.20" cy="288.40" r="1.35" fill="#3b2a24" fill-opacity="0.85"/>
<circle cx="45.50" cy="297.50" r="1.35" fill="#3b2a24" fill-opacity="0.85"/>
<circle cx="78.90" cy="300.50" r="1.35" fill="#3b2a24" fill-opacity="0.85"/>
<circle cx="100.40" cy="323.75" r="1.35" fill="#3b2a24" fill-opacity="0.85"/>
<polyline points="37.20,295.00 45.50,323.75" fill="none" stroke="#3a9ab8" stroke-width="1.0" stroke-linejoin="round" stroke-linecap="round"/>
<polyline points="45.50,323.75 78.90,300.50 100.40,291.00" fill="none" stroke="#f8d49a" stroke-width="2.2" stroke-linejoin="round" stroke-linecap="round"/>
<polyline points="45.50,323.75 78.90,299.60 100.40,286.60" fill="none" stroke="#b81d3e" stroke-width="1.6" stroke-linejoin="round" stroke-linecap="round"/>
<circle cx="45.50" cy="323.75" r="1.35" fill="#3b2a24" fill-opacity="0.85"/>
<circle cx="78.90" cy="299.60" r="1.35" fill="#3b2a24" fill-opacity="0.85"/>
<circle cx="100.40" cy="286.60" r="1.35" fill="#3b2a24" fill-opacity="0.85"/>
<polyline points="45.50,323.75 78.90,299.60 100.40,278.80" fill="none" stroke="#b81d3e" stroke-width="2.0" stroke-linejoin="round" stroke-linecap="round"/>
<circle cx="45.50" cy="323.75" r="1.35" fill="#3b2a24" fill-opacity="0.85"/>
<circle cx="78.90" cy="299.60" r="1.35" fill="#3b2a24" fill-opacity="0.85"/>
<circle cx="100.40" cy="278.80" r="1.35" fill="#3b2a24" fill-opacity="0.85"/>
<circle cx="100.40" cy="323.75" r="2.3" fill="#7a1030"/>
<text x="103.50" y="276.80" font-size="3.6" fill="#b81d3e" text-anchor="start" textLength="14.57" lengthAdjust="spacingAndGlyphs" fill-opacity="0.72">BTK T474I</text>
<text x="103.50" y="279.20" font-size="3.6" fill="#eea236" text-anchor="start" textLength="17.30" lengthAdjust="spacingAndGlyphs" fill-opacity="0.72">ABL2 T942P</text>
<text x="103.50" y="288.50" font-size="3.6" fill="#b81d3e" text-anchor="start" textLength="17.35" lengthAdjust="spacingAndGlyphs" fill-opacity="0.72">TP53 C277F</text>
<text x="103.50" y="294.00" font-size="3.6" fill="#eea236" text-anchor="start" textLength="15.31" lengthAdjust="spacingAndGlyphs" fill-opacity="0.72">TP53 X261</text>
<text x="103.50" y="300.60" font-size="3.6" fill="#f8d49a" text-anchor="start" textLength="19.05" lengthAdjust="spacingAndGlyphs" fill-opacity="0.72">JAK3 C1048F</text>
<text x="103.50" y="303.00" font-size="3.6" fill="#f8d49a" text-anchor="start" textLength="16.50" lengthAdjust="spacingAndGlyphs" fill-opacity="0.72">IRS2 P586L</text>
<text x="40.00" y="308.40" font-size="3.6" fill="#bfe2f0" text-anchor="start" textLength="22.45" lengthAdjust="spacingAndGlyphs" fill-opacity="0.72">TP53 A84Pfs*39</text>
<text x="70.00" y="316.40" font-size="3.6" fill="#bfe2f0" text-anchor="start" textLength="17.52" lengthAdjust="spacingAndGlyphs" fill-opacity="0.72">TP53 C275Y</text>
<text x="88.00" y="306.00" font-size="3.6" fill="#bfe2f0" text-anchor="start" textLength="16.16" lengthAdjust="spacingAndGlyphs" fill-opacity="0.72">BTK C481S</text>
<line x1="37.20" y1="266.75" x2="37.20" y2="324.35" stroke="#222" stroke-width="1.3"/>
<line x1="36.60" y1="323.75" x2="161.60" y2="323.75" stroke="#222" stroke-width="1.3"/>
<line x1="34.20" y1="269.75" x2="37.20" y2="269.75" stroke="#222" stroke-width="1"/>
<text x="30.60" y="272.25" font-size="7.2" fill="#222" text-anchor="end" stroke="#222" stroke-width="0.14" textLength="10.33" lengthAdjust="spacingAndGlyphs">100</text>
<line x1="34.20" y1="277.75" x2="37.20" y2="277.75" stroke="#222" stroke-width="1"/>
<text x="30.60" y="280.25" font-size="7.2" fill="#222" text-anchor="end" stroke="#222" stroke-width="0.14" textLength="6.89" lengthAdjust="spacingAndGlyphs">50</text>
<line x1="34.20" y1="288.13" x2="37.20" y2="288.13" stroke="#222" stroke-width="1"/>
<text x="30.60" y="290.63" font-size="7.2" fill="#222" text-anchor="end" stroke="#222" stroke-width="0.14" textLength="6.89" lengthAdjust="spacingAndGlyphs">20</text>
<line x1="34.20" y1="295.69" x2="37.20" y2="295.69" stroke="#222" stroke-width="1"/>
<text x="30.60" y="298.19" font-size="7.2" fill="#222" text-anchor="end" stroke="#222" stroke-width="0.14" textLength="6.89" lengthAdjust="spacingAndGlyphs">10</text>
<line x1="34.20" y1="302.79" x2="37.20" y2="302.79" stroke="#222" stroke-width="1"/>
<text x="30.60" y="305.29" font-size="7.2" fill="#222" text-anchor="end" stroke="#222" stroke-width="0.14" textLength="3.44" lengthAdjust="spacingAndGlyphs">5</text>
<line x1="34.20" y1="310.90" x2="37.20" y2="310.90" stroke="#222" stroke-width="1"/>
<text x="30.60" y="313.40" font-size="7.2" fill="#222" text-anchor="end" stroke="#222" stroke-width="0.14" textLength="3.44" lengthAdjust="spacingAndGlyphs">2</text>
<line x1="34.20" y1="315.64" x2="37.20" y2="315.64" stroke="#222" stroke-width="1"/>
<text x="30.60" y="318.14" font-size="7.2" fill="#222" text-anchor="end" stroke="#222" stroke-width="0.14" textLength="3.44" lengthAdjust="spacingAndGlyphs">1</text>
<line x1="34.20" y1="323.75" x2="37.20" y2="323.75" stroke="#222" stroke-width="1"/>
<text x="30.60" y="326.25" font-size="7.2" fill="#222" text-anchor="end" stroke="#222" stroke-width="0.14" textLength="3.44" lengthAdjust="spacingAndGlyphs">0</text>
<line x1="64.58" y1="323.75" x2="64.58" y2="326.35" stroke="#222" stroke-width="1"/>
<text x="64.58" y="336.15" font-size="7.2" fill="#222" text-anchor="middle" stroke="#222" stroke-width="0.14" textLength="3.44" lengthAdjust="spacingAndGlyphs">6</text>
<line x1="91.95" y1="323.75" x2="91.95" y2="326.35" stroke="#222" stroke-width="1"/>
<text x="91.95" y="336.15" font-size="7.2" fill="#222" text-anchor="middle" stroke="#222" stroke-width="0.14" textLength="6.89" lengthAdjust="spacingAndGlyphs">12</text>
<line x1="119.33" y1="323.75" x2="119.33" y2="326.35" stroke="#222" stroke-width="1"/>
<text x="119.33" y="336.15" font-size="7.2" fill="#222" text-anchor="middle" stroke="#222" stroke-width="0.14" textLength="6.89" lengthAdjust="spacingAndGlyphs">18</text>
<line x1="146.70" y1="323.75" x2="146.70" y2="326.35" stroke="#222" stroke-width="1"/>
<text x="146.70" y="336.15" font-size="7.2" fill="#222" text-anchor="middle" stroke="#222" stroke-width="0.14" textLength="6.89" lengthAdjust="spacingAndGlyphs">24</text>
<rect x="196.05" y="270.36" width="9.20" height="3.72" fill="#621b89"/>
<rect x="205.75" y="270.36" width="9.20" height="3.72" fill="#621b89"/>
<rect x="215.45" y="270.36" width="9.20" height="3.72" fill="#621b89"/>
<rect x="225.15" y="270.36" width="9.20" height="3.72" fill="#721c72"/>
<text x="192.40" y="273.63" font-size="4.7" fill="#333" text-anchor="end" stroke="#333" stroke-width="0.06" textLength="23.91" lengthAdjust="spacingAndGlyphs">ABL2 T942P</text>
<rect x="196.05" y="274.58" width="9.20" height="3.72" fill="#621b89"/>
<rect x="205.75" y="274.58" width="9.20" height="3.72" fill="#621b89"/>
<rect x="215.45" y="274.58" width="9.20" height="3.72" fill="#86278a"/>
<rect x="225.15" y="274.58" width="9.20" height="3.72" fill="#721c72"/>
<text x="192.40" y="277.85" font-size="4.7" fill="#333" text-anchor="end" stroke="#333" stroke-width="0.06" textLength="25.16" lengthAdjust="spacingAndGlyphs">XPO1 E571K</text>
<rect x="196.05" y="278.80" width="9.20" height="3.72" fill="#621b89"/>
<rect x="205.75" y="278.80" width="9.20" height="3.72" fill="#621b89"/>
<rect x="215.45" y="278.80" width="9.20" height="3.72" fill="#86278a"/>
<rect x="225.15" y="278.80" width="9.20" height="3.72" fill="#621b89"/>
<text x="192.40" y="282.07" font-size="4.7" fill="#333" text-anchor="end" stroke="#333" stroke-width="0.06" textLength="26.81" lengthAdjust="spacingAndGlyphs">SF3B1 K700E</text>
<rect x="196.05" y="283.02" width="9.20" height="3.72" fill="#86278a"/>
<rect x="205.75" y="283.02" width="9.20" height="3.72" fill="#86278a"/>
<rect x="215.45" y="283.02" width="9.20" height="3.72" fill="#b2307a"/>
<rect x="225.15" y="283.02" width="9.20" height="3.72" fill="#ef8462"/>
<text x="192.40" y="286.29" font-size="4.7" fill="#333" text-anchor="end" stroke="#333" stroke-width="0.06" textLength="33.15" lengthAdjust="spacingAndGlyphs">TP53 X261 splice</text>
<rect x="196.05" y="287.24" width="9.20" height="3.72" fill="#e0525f"/>
<rect x="205.75" y="287.24" width="9.20" height="3.72" fill="#f7b07a"/>
<rect x="215.45" y="287.24" width="9.20" height="3.72" fill="#fcd79e"/>
<rect x="225.15" y="287.24" width="9.20" height="3.72" fill="#d8d8da"/>
<text x="192.40" y="290.51" font-size="4.7" fill="#333" text-anchor="end" stroke="#333" stroke-width="0.06" textLength="22.34" lengthAdjust="spacingAndGlyphs">BTK C481S</text>
<rect x="196.05" y="291.46" width="9.20" height="3.72" fill="#e0525f"/>
<rect x="205.75" y="291.46" width="9.20" height="3.72" fill="#e0525f"/>
<rect x="215.45" y="291.46" width="9.20" height="3.72" fill="#ef8462"/>
<rect x="225.15" y="291.46" width="9.20" height="3.72" fill="#fdeab8"/>
<text x="192.40" y="294.73" font-size="4.7" fill="#333" text-anchor="end" stroke="#333" stroke-width="0.06" textLength="24.22" lengthAdjust="spacingAndGlyphs">TP53 C275Y</text>
<rect x="196.05" y="295.68" width="9.20" height="3.72" fill="#f7b07a"/>
<rect x="205.75" y="295.68" width="9.20" height="3.72" fill="#ef8462"/>
<rect x="215.45" y="295.68" width="9.20" height="3.72" fill="#ef8462"/>
<rect x="225.15" y="295.68" width="9.20" height="3.72" fill="#fdeab8"/>
<text x="192.40" y="298.95" font-size="4.7" fill="#333" text-anchor="end" stroke="#333" stroke-width="0.06" textLength="26.33" lengthAdjust="spacingAndGlyphs">JAK3 C1048F</text>
<rect x="196.05" y="299.90" width="9.20" height="3.72" fill="#fcd79e"/>
<rect x="205.75" y="299.90" width="9.20" height="3.72" fill="#f7b07a"/>
<rect x="215.45" y="299.90" width="9.20" height="3.72" fill="#ef8462"/>
<rect x="225.15" y="299.90" width="9.20" height="3.72" fill="#fdeab8"/>
<text x="192.40" y="303.17" font-size="4.7" fill="#333" text-anchor="end" stroke="#333" stroke-width="0.06" textLength="22.81" lengthAdjust="spacingAndGlyphs">IRS2 P586L</text>
<rect x="196.05" y="304.12" width="9.20" height="3.72" fill="#fcd79e"/>
<rect x="205.75" y="304.12" width="9.20" height="3.72" fill="#d8d8da"/>
<rect x="215.45" y="304.12" width="9.20" height="3.72" fill="#fcd79e"/>
<rect x="225.15" y="304.12" width="9.20" height="3.72" fill="#b2307a"/>
<text x="192.40" y="307.39" font-size="4.7" fill="#333" text-anchor="end" stroke="#333" stroke-width="0.06" textLength="23.98" lengthAdjust="spacingAndGlyphs">TP53 C277F</text>
<rect x="196.05" y="308.34" width="9.20" height="3.72" fill="#fdeab8"/>
<rect x="205.75" y="308.34" width="9.20" height="3.72" fill="#d8d8da"/>
<rect x="215.45" y="308.34" width="9.20" height="3.72" fill="#d8d8da"/>
<rect x="225.15" y="308.34" width="9.20" height="3.72" fill="#d8d8da"/>
<text x="192.40" y="311.61" font-size="4.7" fill="#333" text-anchor="end" stroke="#333" stroke-width="0.06" textLength="31.04" lengthAdjust="spacingAndGlyphs">TP53 A84Pfs*39</text>
<rect x="196.05" y="312.56" width="9.20" height="3.72" fill="#d8d8da"/>
<rect x="205.75" y="312.56" width="9.20" height="3.72" fill="#d8d8da"/>
<rect x="215.45" y="312.56" width="9.20" height="3.72" fill="#f7b07a"/>
<rect x="225.15" y="312.56" width="9.20" height="3.72" fill="#46136f"/>
<text x="192.40" y="315.83" font-size="4.7" fill="#333" text-anchor="end" stroke="#333" stroke-width="0.06" textLength="20.14" lengthAdjust="spacingAndGlyphs">BTK T474I</text>
<rect x="196.05" y="316.78" width="9.20" height="3.72" fill="#d8d8da"/>
<rect x="205.75" y="316.78" width="9.20" height="3.72" fill="#d8d8da"/>
<rect x="215.45" y="316.78" width="9.20" height="3.72" fill="#f7b07a"/>
<rect x="225.15" y="316.78" width="9.20" height="3.72" fill="#cf3b6a"/>
<text x="192.40" y="320.05" font-size="4.7" fill="#333" text-anchor="end" stroke="#333" stroke-width="0.06" textLength="34.33" lengthAdjust="spacingAndGlyphs">TP53 Q165Hfs*15</text>
<text transform="translate(203.05,324.75) rotate(-90)" font-size="7.1" fill="#555" text-anchor="end">C1</text>
<text transform="translate(212.75,324.75) rotate(-90)" font-size="7.1" fill="#555" text-anchor="end">C3</text>
<text transform="translate(222.45,324.75) rotate(-90)" font-size="7.1" fill="#555" text-anchor="end">C11</text>
<text transform="translate(232.15,324.75) rotate(-90)" font-size="7.1" fill="#555" text-anchor="end">C16</text>
<text x="38.50" y="350.40" font-size="7.4" fill="#222" text-anchor="start" stroke="#222" stroke-width="0.18" textLength="48.87" lengthAdjust="spacingAndGlyphs">P−105−009 (PR)</text>
<text transform="translate(14.50,375.50) rotate(-90)" font-size="9" fill="#222" stroke="#222" stroke-width="0.25" text-anchor="middle" textLength="23.5" lengthAdjust="spacingAndGlyphs">VAF (%)</text>
<polyline points="37.20,358.00 47.80,358.00 59.40,358.00 81.30,358.00 103.10,358.00" fill="none" stroke="#eea236" stroke-width="1.6" stroke-linejoin="round" stroke-linecap="round"/>
<circle cx="37.20" cy="358.00" r="1.35" fill="#3b2a24" fill-opacity="0.85"/>
<circle cx="47.80" cy="358.00" r="1.4500000000000002" fill="#c8923a" stroke="#4a3520" stroke-width="0.8" stroke-opacity="0.9"/>
<circle cx="59.40" cy="358.00" r="1.4500000000000002" fill="#c8923a" stroke="#4a3520" stroke-width="0.8" stroke-opacity="0.9"/>
<circle cx="81.30" cy="358.00" r="1.4500000000000002" fill="#c8923a" stroke="#4a3520" stroke-width="0.8" stroke-opacity="0.9"/>
<circle cx="103.10" cy="358.00" r="1.4500000000000002" fill="#c8923a" stroke="#4a3520" stroke-width="0.8" stroke-opacity="0.9"/>
<polyline points="37.20,359.70 47.80,367.50 59.40,372.30 81.30,374.80 103.10,364.00" fill="none" stroke="#eea236" stroke-width="1.6" stroke-linejoin="round" stroke-linecap="round"/>
<circle cx="37.20" cy="359.70" r="1.35" fill="#3b2a24" fill-opacity="0.85"/>
<circle cx="47.80" cy="367.50" r="1.4500000000000002" fill="#c8923a" stroke="#4a3520" stroke-width="0.8" stroke-opacity="0.9"/>
<circle cx="59.40" cy="372.30" r="1.4500000000000002" fill="#c8923a" stroke="#4a3520" stroke-width="0.8" stroke-opacity="0.9"/>
<circle cx="81.30" cy="374.80" r="1.4500000000000002" fill="#c8923a" stroke="#4a3520" stroke-width="0.8" stroke-opacity="0.9"/>
<circle cx="103.10" cy="364.00" r="1.4500000000000002" fill="#c8923a" stroke="#4a3520" stroke-width="0.8" stroke-opacity="0.9"/>
<polyline points="37.20,365.80 47.80,376.10 59.40,381.30 81.30,380.50 103.10,371.00" fill="none" stroke="#eea236" stroke-width="2.8" stroke-linejoin="round" stroke-linecap="round"/>
<circle cx="37.20" cy="365.80" r="1.35" fill="#3b2a24" fill-opacity="0.85"/>
<circle cx="47.80" cy="376.10" r="1.4500000000000002" fill="#c8923a" stroke="#4a3520" stroke-width="0.8" stroke-opacity="0.9"/>
<circle cx="59.40" cy="381.30" r="1.4500000000000002" fill="#c8923a" stroke="#4a3520" stroke-width="0.8" stroke-opacity="0.9"/>
<circle cx="81.30" cy="380.50" r="1.4500000000000002" fill="#c8923a" stroke="#4a3520" stroke-width="0.8" stroke-opacity="0.9"/>
<circle cx="103.10" cy="371.00" r="1.4500000000000002" fill="#c8923a" stroke="#4a3520" stroke-width="0.8" stroke-opacity="0.9"/>
<polyline points="37.20,366.50 47.80,377.90 59.40,382.70 81.30,382.70 103.10,372.70" fill="none" stroke="#f8d49a" stroke-width="2.0" stroke-linejoin="round" stroke-linecap="round"/>
<circle cx="37.20" cy="366.50" r="1.35" fill="#3b2a24" fill-opacity="0.85"/>
<circle cx="47.80" cy="377.90" r="1.35" fill="#3b2a24" fill-opacity="0.85"/>
<circle cx="59.40" cy="382.70" r="1.35" fill="#3b2a24" fill-opacity="0.85"/>
<circle cx="81.30" cy="382.70" r="1.35" fill="#3b2a24" fill-opacity="0.85"/>
<circle cx="103.10" cy="372.70" r="1.35" fill="#3b2a24" fill-opacity="0.85"/>
<polyline points="37.20,384.40 47.80,389.10 59.40,393.80 81.30,399.50 103.10,403.90" fill="none" stroke="#42a9d6" stroke-width="1.4" stroke-linejoin="round" stroke-linecap="round"/>
<circle cx="37.20" cy="384.40" r="1.35" fill="#3b2a24" fill-opacity="0.85"/>
<circle cx="47.80" cy="389.10" r="1.35" fill="#3b2a24" fill-opacity="0.85"/>
<circle cx="59.40" cy="393.80" r="1.35" fill="#3b2a24" fill-opacity="0.85"/>
<circle cx="81.30" cy="399.50" r="1.35" fill="#3b2a24" fill-opacity="0.85"/>
<circle cx="103.10" cy="403.90" r="1.35" fill="#3b2a24" fill-opacity="0.85"/>
<polyline points="59.40,382.20 81.30,399.50 103.10,403.90" fill="none" stroke="#42a9d6" stroke-width="1.4" stroke-linejoin="round" stroke-linecap="round"/>
<circle cx="81.30" cy="399.50" r="1.35" fill="#3b2a24" fill-opacity="0.85"/>
<circle cx="103.10" cy="403.90" r="1.35" fill="#3b2a24" fill-opacity="0.85"/>
<polyline points="47.80,403.90 59.40,396.00 81.30,383.40 103.10,371.30" fill="none" stroke="#b81d3e" stroke-width="1.5" stroke-linejoin="round" stroke-linecap="round"/>
<circle cx="59.40" cy="396.00" r="1.35" fill="#3b2a24" fill-opacity="0.85"/>
<circle cx="81.30" cy="383.40" r="1.35" fill="#3b2a24" fill-opacity="0.85"/>
<circle cx="103.10" cy="371.30" r="1.35" fill="#3b2a24" fill-opacity="0.85"/>
<polyline points="59.40,403.90 81.30,385.10 103.10,377.00" fill="none" stroke="#b81d3e" stroke-width="1.5" stroke-linejoin="round" stroke-linecap="round"/>
<circle cx="81.30" cy="385.10" r="1.35" fill="#3b2a24" fill-opacity="0.85"/>
<circle cx="103.10" cy="377.00" r="1.35" fill="#3b2a24" fill-opacity="0.85"/>
<polyline points="81.30,403.90 103.10,371.80" fill="none" stroke="#b81d3e" stroke-width="1.8" stroke-linejoin="round" stroke-linecap="round"/>
<circle cx="81.30" cy="403.90" r="1.35" fill="#3b2a24" fill-opacity="0.85"/>
<circle cx="103.10" cy="371.80" r="1.35" fill="#3b2a24" fill-opacity="0.85"/>
<polyline points="81.30,403.90 103.10,377.90" fill="none" stroke="#b81d3e" stroke-width="1.5" stroke-linejoin="round" stroke-linecap="round"/>
<circle cx="116.00" cy="403.90" r="2.3" fill="#8a1050"/>
<text x="106.00" y="359.00" font-size="3.6" fill="#eea236" text-anchor="start" textLength="26.87" lengthAdjust="spacingAndGlyphs" fill-opacity="0.72">NOTCH1 P2514Rfs</text>
<text x="106.00" y="365.00" font-size="3.6" fill="#f8d49a" text-anchor="start" textLength="21.26" lengthAdjust="spacingAndGlyphs" fill-opacity="0.72">POT1 X4 splice</text>
<text x="106.00" y="370.00" font-size="3.6" fill="#b81d3e" text-anchor="start" textLength="14.57" lengthAdjust="spacingAndGlyphs" fill-opacity="0.72">BTK T474I</text>
<text x="106.00" y="373.00" font-size="3.6" fill="#eea236" text-anchor="start" textLength="19.73" lengthAdjust="spacingAndGlyphs" fill-opacity="0.72">KMT2C L1655</text>
<text x="106.00" y="378.00" font-size="3.6" fill="#b81d3e" text-anchor="start" textLength="23.81" lengthAdjust="spacingAndGlyphs" fill-opacity="0.72">NOTCH1 Q2444*</text>
<text x="106.00" y="381.00" font-size="3.6" fill="#b81d3e" text-anchor="start" textLength="16.50" lengthAdjust="spacingAndGlyphs" fill-opacity="0.72">BTK L528W</text>
<line x1="37.20" y1="346.90" x2="37.20" y2="404.50" stroke="#222" stroke-width="1.3"/>
<line x1="36.60" y1="403.90" x2="161.60" y2="403.90" stroke="#222" stroke-width="1.3"/>
<line x1="34.20" y1="349.90" x2="37.20" y2="349.90" stroke="#222" stroke-width="1"/>
<text x="30.60" y="352.40" font-size="7.2" fill="#222" text-anchor="end" stroke="#222" stroke-width="0.14" textLength="10.33" lengthAdjust="spacingAndGlyphs">100</text>
<line x1="34.20" y1="357.90" x2="37.20" y2="357.90" stroke="#222" stroke-width="1"/>
<text x="30.60" y="360.40" font-size="7.2" fill="#222" text-anchor="end" stroke="#222" stroke-width="0.14" textLength="6.89" lengthAdjust="spacingAndGlyphs">50</text>
<line x1="34.20" y1="368.28" x2="37.20" y2="368.28" stroke="#222" stroke-width="1"/>
<text x="30.60" y="370.78" font-size="7.2" fill="#222" text-anchor="end" stroke="#222" stroke-width="0.14" textLength="6.89" lengthAdjust="spacingAndGlyphs">20</text>
<line x1="34.20" y1="375.84" x2="37.20" y2="375.84" stroke="#222" stroke-width="1"/>
<text x="30.60" y="378.34" font-size="7.2" fill="#222" text-anchor="end" stroke="#222" stroke-width="0.14" textLength="6.89" lengthAdjust="spacingAndGlyphs">10</text>
<line x1="34.20" y1="382.94" x2="37.20" y2="382.94" stroke="#222" stroke-width="1"/>
<text x="30.60" y="385.44" font-size="7.2" fill="#222" text-anchor="end" stroke="#222" stroke-width="0.14" textLength="3.44" lengthAdjust="spacingAndGlyphs">5</text>
<line x1="34.20" y1="391.05" x2="37.20" y2="391.05" stroke="#222" stroke-width="1"/>
<text x="30.60" y="393.55" font-size="7.2" fill="#222" text-anchor="end" stroke="#222" stroke-width="0.14" textLength="3.44" lengthAdjust="spacingAndGlyphs">2</text>
<line x1="34.20" y1="395.79" x2="37.20" y2="395.79" stroke="#222" stroke-width="1"/>
<text x="30.60" y="398.29" font-size="7.2" fill="#222" text-anchor="end" stroke="#222" stroke-width="0.14" textLength="3.44" lengthAdjust="spacingAndGlyphs">1</text>
<line x1="34.20" y1="403.90" x2="37.20" y2="403.90" stroke="#222" stroke-width="1"/>
<text x="30.60" y="406.40" font-size="7.2" fill="#222" text-anchor="end" stroke="#222" stroke-width="0.14" textLength="3.44" lengthAdjust="spacingAndGlyphs">0</text>
<line x1="73.70" y1="403.90" x2="73.70" y2="406.50" stroke="#222" stroke-width="1"/>
<text x="73.70" y="416.30" font-size="7.2" fill="#222" text-anchor="middle" stroke="#222" stroke-width="0.14" textLength="3.44" lengthAdjust="spacingAndGlyphs">6</text>
<line x1="110.20" y1="403.90" x2="110.20" y2="406.50" stroke="#222" stroke-width="1"/>
<text x="110.20" y="416.30" font-size="7.2" fill="#222" text-anchor="middle" stroke="#222" stroke-width="0.14" textLength="6.89" lengthAdjust="spacingAndGlyphs">12</text>
<line x1="146.70" y1="403.90" x2="146.70" y2="406.50" stroke="#222" stroke-width="1"/>
<text x="146.70" y="416.30" font-size="7.2" fill="#222" text-anchor="middle" stroke="#222" stroke-width="0.14" textLength="6.89" lengthAdjust="spacingAndGlyphs">18</text>
<rect x="196.25" y="359.45" width="9.20" height="3.72" fill="#46136f"/>
<rect x="205.95" y="359.45" width="9.20" height="3.72" fill="#86278a"/>
<rect x="215.65" y="359.45" width="9.20" height="3.72" fill="#b2307a"/>
<rect x="225.35" y="359.45" width="9.20" height="3.72" fill="#b2307a"/>
<rect x="235.05" y="359.45" width="9.20" height="3.72" fill="#86278a"/>
<text x="192.60" y="362.72" font-size="4.7" fill="#333" text-anchor="end" stroke="#333" stroke-width="0.06" textLength="41.14" lengthAdjust="spacingAndGlyphs">NOTCH1 P2514Rfs*4</text>
<rect x="196.25" y="363.67" width="9.20" height="3.72" fill="#621b89"/>
<rect x="205.95" y="363.67" width="9.20" height="3.72" fill="#621b89"/>
<rect x="215.65" y="363.67" width="9.20" height="3.72" fill="#621b89"/>
<rect x="225.35" y="363.67" width="9.20" height="3.72" fill="#621b89"/>
<rect x="235.05" y="363.67" width="9.20" height="3.72" fill="#621b89"/>
<text x="192.60" y="366.94" font-size="4.7" fill="#333" text-anchor="end" stroke="#333" stroke-width="0.06" textLength="29.39" lengthAdjust="spacingAndGlyphs">POT1 X4 splice</text>
<rect x="196.25" y="367.89" width="9.20" height="3.72" fill="#621b89"/>
<rect x="205.95" y="367.89" width="9.20" height="3.72" fill="#e0525f"/>
<rect x="215.65" y="367.89" width="9.20" height="3.72" fill="#e0525f"/>
<rect x="225.35" y="367.89" width="9.20" height="3.72" fill="#e0525f"/>
<rect x="235.05" y="367.89" width="9.20" height="3.72" fill="#86278a"/>
<text x="192.60" y="371.16" font-size="4.7" fill="#333" text-anchor="end" stroke="#333" stroke-width="0.06" textLength="39.97" lengthAdjust="spacingAndGlyphs">TP53 C238_M243del</text>
<rect x="196.25" y="372.11" width="9.20" height="3.72" fill="#621b89"/>
<rect x="205.95" y="372.11" width="9.20" height="3.72" fill="#e0525f"/>
<rect x="215.65" y="372.11" width="9.20" height="3.72" fill="#e0525f"/>
<rect x="225.35" y="372.11" width="9.20" height="3.72" fill="#e0525f"/>
<rect x="235.05" y="372.11" width="9.20" height="3.72" fill="#b2307a"/>
<text x="192.60" y="375.38" font-size="4.7" fill="#333" text-anchor="end" stroke="#333" stroke-width="0.06" textLength="37.62" lengthAdjust="spacingAndGlyphs">KMT2C L1655Rfs*5</text>
<rect x="196.25" y="376.33" width="9.20" height="3.72" fill="#621b89"/>
<rect x="205.95" y="376.33" width="9.20" height="3.72" fill="#e0525f"/>
<rect x="215.65" y="376.33" width="9.20" height="3.72" fill="#e0525f"/>
<rect x="225.35" y="376.33" width="9.20" height="3.72" fill="#e0525f"/>
<rect x="235.05" y="376.33" width="9.20" height="3.72" fill="#b2307a"/>
<text x="192.60" y="379.60" font-size="4.7" fill="#333" text-anchor="end" stroke="#333" stroke-width="0.06" textLength="33.86" lengthAdjust="spacingAndGlyphs">SP140 A587Rfs*7</text>
<rect x="196.25" y="380.55" width="9.20" height="3.72" fill="#621b89"/>
<rect x="205.95" y="380.55" width="9.20" height="3.72" fill="#e0525f"/>
<rect x="215.65" y="380.55" width="9.20" height="3.72" fill="#ef8462"/>
<rect x="225.35" y="380.55" width="9.20" height="3.72" fill="#fdeab8"/>
<rect x="235.05" y="380.55" width="9.20" height="3.72" fill="#d8d8da"/>
<text x="192.60" y="383.82" font-size="4.7" fill="#333" text-anchor="end" stroke="#333" stroke-width="0.06" textLength="22.34" lengthAdjust="spacingAndGlyphs">BTK C481S</text>
<rect x="196.25" y="384.77" width="9.20" height="3.72" fill="#ef8462"/>
<rect x="205.95" y="384.77" width="9.20" height="3.72" fill="#ef8462"/>
<rect x="215.65" y="384.77" width="9.20" height="3.72" fill="#f7b07a"/>
<rect x="225.35" y="384.77" width="9.20" height="3.72" fill="#d8d8da"/>
<rect x="235.05" y="384.77" width="9.20" height="3.72" fill="#d8d8da"/>
<text x="192.60" y="388.04" font-size="4.7" fill="#333" text-anchor="end" stroke="#333" stroke-width="0.06" textLength="22.34" lengthAdjust="spacingAndGlyphs">BTK C481S</text>
<rect x="196.25" y="388.99" width="9.20" height="3.72" fill="#d8d8da"/>
<rect x="205.95" y="388.99" width="9.20" height="3.72" fill="#d8d8da"/>
<rect x="215.65" y="388.99" width="9.20" height="3.72" fill="#d8d8da"/>
<rect x="225.35" y="388.99" width="9.20" height="3.72" fill="#e0525f"/>
<rect x="235.05" y="388.99" width="9.20" height="3.72" fill="#b2307a"/>
<text x="192.60" y="392.26" font-size="4.7" fill="#333" text-anchor="end" stroke="#333" stroke-width="0.06" textLength="20.14" lengthAdjust="spacingAndGlyphs">BTK T474I</text>
<rect x="196.25" y="393.21" width="9.20" height="3.72" fill="#d8d8da"/>
<rect x="205.95" y="393.21" width="9.20" height="3.72" fill="#d8d8da"/>
<rect x="215.65" y="393.21" width="9.20" height="3.72" fill="#f7b07a"/>
<rect x="225.35" y="393.21" width="9.20" height="3.72" fill="#e0525f"/>
<rect x="235.05" y="393.21" width="9.20" height="3.72" fill="#e0525f"/>
<text x="192.60" y="396.48" font-size="4.7" fill="#333" text-anchor="end" stroke="#333" stroke-width="0.06" textLength="22.80" lengthAdjust="spacingAndGlyphs">BTK L528W</text>
<rect x="196.25" y="397.43" width="9.20" height="3.72" fill="#d8d8da"/>
<rect x="205.95" y="397.43" width="9.20" height="3.72" fill="#d8d8da"/>
<rect x="215.65" y="397.43" width="9.20" height="3.72" fill="#d8d8da"/>
<rect x="225.35" y="397.43" width="9.20" height="3.72" fill="#d8d8da"/>
<rect x="235.05" y="397.43" width="9.20" height="3.72" fill="#b2307a"/>
<text x="192.60" y="400.70" font-size="4.7" fill="#333" text-anchor="end" stroke="#333" stroke-width="0.06" textLength="32.91" lengthAdjust="spacingAndGlyphs">NOTCH1 Q2444*</text>
<text transform="translate(203.25,405.40) rotate(-90)" font-size="7.1" fill="#555" text-anchor="end">C1</text>
<text transform="translate(212.95,405.40) rotate(-90)" font-size="7.1" fill="#555" text-anchor="end">C3</text>
<text transform="translate(222.65,405.40) rotate(-90)" font-size="7.1" fill="#555" text-anchor="end">C5</text>
<text transform="translate(232.35,405.40) rotate(-90)" font-size="7.1" fill="#555" text-anchor="end">C9</text>
<text transform="translate(242.05,405.40) rotate(-90)" font-size="7.1" fill="#555" text-anchor="end">C13</text>
<text x="38.50" y="430.80" font-size="7.4" fill="#222" text-anchor="start" stroke="#222" stroke-width="0.18" textLength="48.39" lengthAdjust="spacingAndGlyphs">P−302−011 (SD)</text>
<text transform="translate(14.50,455.90) rotate(-90)" font-size="9" fill="#222" stroke="#222" stroke-width="0.25" text-anchor="middle" textLength="23.5" lengthAdjust="spacingAndGlyphs">VAF (%)</text>
<polyline points="37.20,438.50 70.60,438.50 104.70,438.50" fill="none" stroke="#f8d49a" stroke-width="0.8" stroke-linejoin="round" stroke-linecap="round"/>
<circle cx="70.60" cy="438.50" r="0.9" fill="#3b2a24" fill-opacity="0.85"/>
<circle cx="104.70" cy="438.50" r="0.9" fill="#3b2a24" fill-opacity="0.85"/>
<polyline points="37.20,452.70 70.60,453.50 104.70,458.70" fill="none" stroke="#f8d49a" stroke-width="0.8" stroke-linejoin="round" stroke-linecap="round"/>
<circle cx="70.60" cy="453.50" r="0.9" fill="#3b2a24" fill-opacity="0.85"/>
<circle cx="104.70" cy="458.70" r="0.9" fill="#3b2a24" fill-opacity="0.85"/>
<polyline points="37.20,484.30 70.60,455.30 104.70,454.40" fill="none" stroke="#e8a0b0" stroke-width="0.8" stroke-linejoin="round" stroke-linecap="round"/>
<polyline points="37.20,443.70 70.60,442.30 104.70,442.30" fill="none" stroke="#eea236" stroke-width="1.8" stroke-linejoin="round" stroke-linecap="round"/>
<circle cx="37.20" cy="443.70" r="1.35" fill="#3b2a24" fill-opacity="0.85"/>
<circle cx="70.60" cy="442.30" r="1.4500000000000002" fill="#c8923a" stroke="#4a3520" stroke-width="0.8" stroke-opacity="0.9"/>
<circle cx="104.70" cy="442.30" r="1.4500000000000002" fill="#c8923a" stroke="#4a3520" stroke-width="0.8" stroke-opacity="0.9"/>
<polyline points="37.20,443.70 70.60,446.30 104.70,447.50" fill="none" stroke="#eea236" stroke-width="1.6" stroke-linejoin="round" stroke-linecap="round"/>
<circle cx="37.20" cy="443.70" r="1.35" fill="#3b2a24" fill-opacity="0.85"/>
<circle cx="70.60" cy="446.30" r="1.4500000000000002" fill="#c8923a" stroke="#4a3520" stroke-width="0.8" stroke-opacity="0.9"/>
<circle cx="104.70" cy="447.50" r="1.4500000000000002" fill="#c8923a" stroke="#4a3520" stroke-width="0.8" stroke-opacity="0.9"/>
<polyline points="37.20,443.70 70.60,453.00 104.70,453.50" fill="none" stroke="#eea236" stroke-width="2.0" stroke-linejoin="round" stroke-linecap="round"/>
<circle cx="37.20" cy="443.70" r="1.35" fill="#3b2a24" fill-opacity="0.85"/>
<circle cx="70.60" cy="453.00" r="1.4500000000000002" fill="#c8923a" stroke="#4a3520" stroke-width="0.8" stroke-opacity="0.9"/>
<circle cx="104.70" cy="453.50" r="1.4500000000000002" fill="#c8923a" stroke="#4a3520" stroke-width="0.8" stroke-opacity="0.9"/>
<polyline points="37.20,484.30 70.60,457.90 104.70,454.40" fill="none" stroke="#b81d3e" stroke-width="1.6" stroke-linejoin="round" stroke-linecap="round"/>
<circle cx="37.20" cy="484.30" r="1.35" fill="#3b2a24" fill-opacity="0.85"/>
<circle cx="70.60" cy="457.90" r="1.35" fill="#3b2a24" fill-opacity="0.85"/>
<circle cx="104.70" cy="454.40" r="1.35" fill="#3b2a24" fill-opacity="0.85"/>
<polyline points="37.20,461.00 70.60,484.30" fill="none" stroke="#42a9d6" stroke-width="1.4" stroke-linejoin="round" stroke-linecap="round"/>
<circle cx="37.20" cy="461.00" r="1.35" fill="#3b2a24" fill-opacity="0.85"/>
<circle cx="70.60" cy="484.30" r="1.35" fill="#3b2a24" fill-opacity="0.85"/>
<circle cx="104.70" cy="484.30" r="2.3" fill="#6a1030"/>
<text x="108.00" y="439.60" font-size="3.6" fill="#f8d49a" text-anchor="start" textLength="19.22" lengthAdjust="spacingAndGlyphs" fill-opacity="0.72">RAD51C G3R</text>
<text x="108.00" y="443.40" font-size="3.6" fill="#eea236" text-anchor="start" textLength="15.82" lengthAdjust="spacingAndGlyphs" fill-opacity="0.72">BLM Q548*</text>
<text x="108.00" y="448.60" font-size="3.6" fill="#eea236" text-anchor="start" textLength="18.20" lengthAdjust="spacingAndGlyphs" fill-opacity="0.72">XPO1 E571K</text>
<text x="108.00" y="451.40" font-size="3.6" fill="#f8d49a" text-anchor="start" textLength="18.71" lengthAdjust="spacingAndGlyphs" fill-opacity="0.72">ASXL1 E705*</text>
<text x="108.00" y="455.50" font-size="3.6" fill="#b81d3e" text-anchor="start" textLength="14.57" lengthAdjust="spacingAndGlyphs" fill-opacity="0.72">BTK T474I</text>
<text x="108.00" y="458.00" font-size="3.6" fill="#b81d3e" text-anchor="start" textLength="15.30" lengthAdjust="spacingAndGlyphs" fill-opacity="0.72">IRF4 D61N</text>
<text x="108.00" y="461.60" font-size="3.6" fill="#f8d49a" text-anchor="start" textLength="21.26" lengthAdjust="spacingAndGlyphs" fill-opacity="0.72">ARID1B S241N</text>
<text x="108.00" y="483.00" font-size="3.6" fill="#42a9d6" text-anchor="start" textLength="20.75" lengthAdjust="spacingAndGlyphs" fill-opacity="0.72">PIK3CA E545K</text>
<line x1="37.20" y1="427.30" x2="37.20" y2="484.90" stroke="#222" stroke-width="1.3"/>
<line x1="36.60" y1="484.30" x2="161.60" y2="484.30" stroke="#222" stroke-width="1.3"/>
<line x1="34.20" y1="430.30" x2="37.20" y2="430.30" stroke="#222" stroke-width="1"/>
<text x="30.60" y="432.80" font-size="7.2" fill="#222" text-anchor="end" stroke="#222" stroke-width="0.14" textLength="10.33" lengthAdjust="spacingAndGlyphs">100</text>
<line x1="34.20" y1="438.30" x2="37.20" y2="438.30" stroke="#222" stroke-width="1"/>
<text x="30.60" y="440.80" font-size="7.2" fill="#222" text-anchor="end" stroke="#222" stroke-width="0.14" textLength="6.89" lengthAdjust="spacingAndGlyphs">50</text>
<line x1="34.20" y1="448.68" x2="37.20" y2="448.68" stroke="#222" stroke-width="1"/>
<text x="30.60" y="451.18" font-size="7.2" fill="#222" text-anchor="end" stroke="#222" stroke-width="0.14" textLength="6.89" lengthAdjust="spacingAndGlyphs">20</text>
<line x1="34.20" y1="456.24" x2="37.20" y2="456.24" stroke="#222" stroke-width="1"/>
<text x="30.60" y="458.74" font-size="7.2" fill="#222" text-anchor="end" stroke="#222" stroke-width="0.14" textLength="6.89" lengthAdjust="spacingAndGlyphs">10</text>
<line x1="34.20" y1="463.34" x2="37.20" y2="463.34" stroke="#222" stroke-width="1"/>
<text x="30.60" y="465.84" font-size="7.2" fill="#222" text-anchor="end" stroke="#222" stroke-width="0.14" textLength="3.44" lengthAdjust="spacingAndGlyphs">5</text>
<line x1="34.20" y1="471.45" x2="37.20" y2="471.45" stroke="#222" stroke-width="1"/>
<text x="30.60" y="473.95" font-size="7.2" fill="#222" text-anchor="end" stroke="#222" stroke-width="0.14" textLength="3.44" lengthAdjust="spacingAndGlyphs">2</text>
<line x1="34.20" y1="476.19" x2="37.20" y2="476.19" stroke="#222" stroke-width="1"/>
<text x="30.60" y="478.69" font-size="7.2" fill="#222" text-anchor="end" stroke="#222" stroke-width="0.14" textLength="3.44" lengthAdjust="spacingAndGlyphs">1</text>
<line x1="34.20" y1="484.30" x2="37.20" y2="484.30" stroke="#222" stroke-width="1"/>
<text x="30.60" y="486.80" font-size="7.2" fill="#222" text-anchor="end" stroke="#222" stroke-width="0.14" textLength="3.44" lengthAdjust="spacingAndGlyphs">0</text>
<line x1="91.95" y1="484.30" x2="91.95" y2="486.90" stroke="#222" stroke-width="1"/>
<text x="91.95" y="496.70" font-size="7.2" fill="#222" text-anchor="middle" stroke="#222" stroke-width="0.14" textLength="3.44" lengthAdjust="spacingAndGlyphs">6</text>
<line x1="146.70" y1="484.30" x2="146.70" y2="486.90" stroke="#222" stroke-width="1"/>
<text x="146.70" y="496.70" font-size="7.2" fill="#222" text-anchor="middle" stroke="#222" stroke-width="0.14" textLength="6.89" lengthAdjust="spacingAndGlyphs">12</text>
<rect x="196.05" y="448.29" width="9.20" height="3.72" fill="#621b89"/>
<rect x="205.75" y="448.29" width="9.20" height="3.72" fill="#621b89"/>
<rect x="215.45" y="448.29" width="9.20" height="3.72" fill="#621b89"/>
<text x="192.40" y="451.56" font-size="4.7" fill="#333" text-anchor="end" stroke="#333" stroke-width="0.06" textLength="26.56" lengthAdjust="spacingAndGlyphs">RAD51C G3R</text>
<rect x="196.05" y="452.51" width="9.20" height="3.72" fill="#86278a"/>
<rect x="205.75" y="452.51" width="9.20" height="3.72" fill="#86278a"/>
<rect x="215.45" y="452.51" width="9.20" height="3.72" fill="#86278a"/>
<text x="192.40" y="455.78" font-size="4.7" fill="#333" text-anchor="end" stroke="#333" stroke-width="0.06" textLength="21.87" lengthAdjust="spacingAndGlyphs">BLM Q548*</text>
<rect x="196.05" y="456.73" width="9.20" height="3.72" fill="#b2307a"/>
<rect x="205.75" y="456.73" width="9.20" height="3.72" fill="#b2307a"/>
<rect x="215.45" y="456.73" width="9.20" height="3.72" fill="#b2307a"/>
<text x="192.40" y="460.00" font-size="4.7" fill="#333" text-anchor="end" stroke="#333" stroke-width="0.06" textLength="25.16" lengthAdjust="spacingAndGlyphs">XPO1 E571K</text>
<rect x="196.05" y="460.95" width="9.20" height="3.72" fill="#86278a"/>
<rect x="205.75" y="460.95" width="9.20" height="3.72" fill="#ef8462"/>
<rect x="215.45" y="460.95" width="9.20" height="3.72" fill="#ef8462"/>
<text x="192.40" y="464.22" font-size="4.7" fill="#333" text-anchor="end" stroke="#333" stroke-width="0.06" textLength="25.87" lengthAdjust="spacingAndGlyphs">ASXL1 E705*</text>
<rect x="196.05" y="465.17" width="9.20" height="3.72" fill="#ef8462"/>
<rect x="205.75" y="465.17" width="9.20" height="3.72" fill="#ef8462"/>
<rect x="215.45" y="465.17" width="9.20" height="3.72" fill="#fcd79e"/>
<text x="192.40" y="468.44" font-size="4.7" fill="#333" text-anchor="end" stroke="#333" stroke-width="0.06" textLength="21.16" lengthAdjust="spacingAndGlyphs">IRF4 D61N</text>
<rect x="196.05" y="469.39" width="9.20" height="3.72" fill="#fdeab8"/>
<rect x="205.75" y="469.39" width="9.20" height="3.72" fill="#d8d8da"/>
<rect x="215.45" y="469.39" width="9.20" height="3.72" fill="#d8d8da"/>
<text x="192.40" y="472.66" font-size="4.7" fill="#333" text-anchor="end" stroke="#333" stroke-width="0.06" textLength="28.69" lengthAdjust="spacingAndGlyphs">PIK3CA E545K</text>
<rect x="196.05" y="473.61" width="9.20" height="3.72" fill="#d8d8da"/>
<rect x="205.75" y="473.61" width="9.20" height="3.72" fill="#ef8462"/>
<rect x="215.45" y="473.61" width="9.20" height="3.72" fill="#f7b07a"/>
<text x="192.40" y="476.88" font-size="4.7" fill="#333" text-anchor="end" stroke="#333" stroke-width="0.06" textLength="29.39" lengthAdjust="spacingAndGlyphs">ARID1B S241N</text>
<rect x="196.05" y="477.83" width="9.20" height="3.72" fill="#d8d8da"/>
<rect x="205.75" y="477.83" width="9.20" height="3.72" fill="#fcd79e"/>
<rect x="215.45" y="477.83" width="9.20" height="3.72" fill="#ef8462"/>
<text x="192.40" y="481.10" font-size="4.7" fill="#333" text-anchor="end" stroke="#333" stroke-width="0.06" textLength="20.14" lengthAdjust="spacingAndGlyphs">BTK T474I</text>
<text transform="translate(203.05,485.80) rotate(-90)" font-size="7.1" fill="#555" text-anchor="end">C1</text>
<text transform="translate(212.75,485.80) rotate(-90)" font-size="7.1" fill="#555" text-anchor="end">C5</text>
<text transform="translate(222.45,485.80) rotate(-90)" font-size="7.1" fill="#555" text-anchor="end">C9</text>
<text x="38.50" y="509.70" font-size="7.4" fill="#222" text-anchor="start" stroke="#222" stroke-width="0.18" textLength="48.87" lengthAdjust="spacingAndGlyphs">P−105−051 (PR)</text>
<text transform="translate(14.50,534.80) rotate(-90)" font-size="9" fill="#222" stroke="#222" stroke-width="0.25" text-anchor="middle" textLength="23.5" lengthAdjust="spacingAndGlyphs">VAF (%)</text>
<polyline points="37.20,520.60 70.60,563.20" fill="none" stroke="#f8d49a" stroke-width="0.9" stroke-linejoin="round" stroke-linecap="round"/>
<polyline points="70.60,563.20 103.80,540.00" fill="none" stroke="#e8a0b0" stroke-width="0.8" stroke-linejoin="round" stroke-linecap="round"/>
<polyline points="37.20,563.20 70.60,536.70 87.40,563.20" fill="none" stroke="#b81d3e" stroke-width="1.5" stroke-linejoin="round" stroke-linecap="round"/>
<circle cx="37.20" cy="563.20" r="1.35" fill="#3b2a24" fill-opacity="0.85"/>
<circle cx="70.60" cy="536.70" r="1.35" fill="#3b2a24" fill-opacity="0.85"/>
<circle cx="87.40" cy="563.20" r="1.35" fill="#3b2a24" fill-opacity="0.85"/>
<polyline points="70.60,563.20 87.40,516.80 103.80,516.80" fill="none" stroke="#b81d3e" stroke-width="2.0" stroke-linejoin="round" stroke-linecap="round"/>
<circle cx="70.60" cy="563.20" r="1.35" fill="#3b2a24" fill-opacity="0.85"/>
<circle cx="87.40" cy="516.80" r="1.35" fill="#3b2a24" fill-opacity="0.85"/>
<circle cx="103.80" cy="516.80" r="1.35" fill="#3b2a24" fill-opacity="0.85"/>
<polyline points="70.60,563.20 87.40,525.40 103.80,525.40" fill="none" stroke="#b81d3e" stroke-width="2.2" stroke-linejoin="round" stroke-linecap="round"/>
<circle cx="70.60" cy="563.20" r="1.35" fill="#3b2a24" fill-opacity="0.85"/>
<circle cx="87.40" cy="525.40" r="1.35" fill="#3b2a24" fill-opacity="0.85"/>
<circle cx="103.80" cy="525.40" r="1.35" fill="#3b2a24" fill-opacity="0.85"/>
<polyline points="70.60,563.20 87.40,531.00 103.80,531.00" fill="none" stroke="#b81d3e" stroke-width="1.8" stroke-linejoin="round" stroke-linecap="round"/>
<circle cx="70.60" cy="563.20" r="1.35" fill="#3b2a24" fill-opacity="0.85"/>
<circle cx="87.40" cy="531.00" r="1.35" fill="#3b2a24" fill-opacity="0.85"/>
<circle cx="103.80" cy="531.00" r="1.35" fill="#3b2a24" fill-opacity="0.85"/>
<polyline points="70.60,563.20 87.40,537.50 103.80,540.50" fill="none" stroke="#b81d3e" stroke-width="1.5" stroke-linejoin="round" stroke-linecap="round"/>
<circle cx="70.60" cy="563.20" r="1.35" fill="#3b2a24" fill-opacity="0.85"/>
<circle cx="87.40" cy="537.50" r="1.35" fill="#3b2a24" fill-opacity="0.85"/>
<circle cx="103.80" cy="540.50" r="1.35" fill="#3b2a24" fill-opacity="0.85"/>
<polyline points="87.40,563.20 103.80,531.00" fill="none" stroke="#b81d3e" stroke-width="1.5" stroke-linejoin="round" stroke-linecap="round"/>
<circle cx="87.40" cy="563.20" r="1.35" fill="#3b2a24" fill-opacity="0.85"/>
<circle cx="103.80" cy="531.00" r="1.35" fill="#3b2a24" fill-opacity="0.85"/>
<circle cx="103.80" cy="563.20" r="2.3" fill="#6a1030"/>
<text x="107.00" y="517.80" font-size="3.6" fill="#b81d3e" text-anchor="start" textLength="16.33" lengthAdjust="spacingAndGlyphs" fill-opacity="0.72">BTK C481R</text>
<text x="107.00" y="521.50" font-size="3.6" fill="#b81d3e" text-anchor="start" textLength="19.22" lengthAdjust="spacingAndGlyphs" fill-opacity="0.72">SF3B1 K666T</text>
<text x="107.00" y="524.20" font-size="3.6" fill="#b81d3e" text-anchor="start" textLength="17.86" lengthAdjust="spacingAndGlyphs" fill-opacity="0.72">TP53 R280G</text>
<text x="107.00" y="528.50" font-size="3.6" fill="#b81d3e" text-anchor="start" textLength="19.90" lengthAdjust="spacingAndGlyphs" fill-opacity="0.72">TP53 R209Kfs</text>
<text x="107.00" y="531.00" font-size="3.6" fill="#b81d3e" text-anchor="start" textLength="16.61" lengthAdjust="spacingAndGlyphs" fill-opacity="0.72">IRF4 S114R</text>
<text x="107.00" y="541.50" font-size="3.6" fill="#b81d3e" text-anchor="start" textLength="18.03" lengthAdjust="spacingAndGlyphs" fill-opacity="0.72">BCL2 G101V</text>
<text x="107.00" y="561.00" font-size="3.6" fill="#b81d3e" text-anchor="start" textLength="24.15" lengthAdjust="spacingAndGlyphs" fill-opacity="0.72">TP53 R209Lfs*10</text>
<line x1="37.20" y1="506.20" x2="37.20" y2="563.80" stroke="#222" stroke-width="1.3"/>
<line x1="36.60" y1="563.20" x2="161.60" y2="563.20" stroke="#222" stroke-width="1.3"/>
<line x1="34.20" y1="509.20" x2="37.20" y2="509.20" stroke="#222" stroke-width="1"/>
<text x="30.60" y="511.70" font-size="7.2" fill="#222" text-anchor="end" stroke="#222" stroke-width="0.14" textLength="10.33" lengthAdjust="spacingAndGlyphs">100</text>
<line x1="34.20" y1="517.20" x2="37.20" y2="517.20" stroke="#222" stroke-width="1"/>
<text x="30.60" y="519.70" font-size="7.2" fill="#222" text-anchor="end" stroke="#222" stroke-width="0.14" textLength="6.89" lengthAdjust="spacingAndGlyphs">50</text>
<line x1="34.20" y1="527.58" x2="37.20" y2="527.58" stroke="#222" stroke-width="1"/>
<text x="30.60" y="530.08" font-size="7.2" fill="#222" text-anchor="end" stroke="#222" stroke-width="0.14" textLength="6.89" lengthAdjust="spacingAndGlyphs">20</text>
<line x1="34.20" y1="535.14" x2="37.20" y2="535.14" stroke="#222" stroke-width="1"/>
<text x="30.60" y="537.64" font-size="7.2" fill="#222" text-anchor="end" stroke="#222" stroke-width="0.14" textLength="6.89" lengthAdjust="spacingAndGlyphs">10</text>
<line x1="34.20" y1="542.24" x2="37.20" y2="542.24" stroke="#222" stroke-width="1"/>
<text x="30.60" y="544.74" font-size="7.2" fill="#222" text-anchor="end" stroke="#222" stroke-width="0.14" textLength="3.44" lengthAdjust="spacingAndGlyphs">5</text>
<line x1="34.20" y1="550.35" x2="37.20" y2="550.35" stroke="#222" stroke-width="1"/>
<text x="30.60" y="552.85" font-size="7.2" fill="#222" text-anchor="end" stroke="#222" stroke-width="0.14" textLength="3.44" lengthAdjust="spacingAndGlyphs">2</text>
<line x1="34.20" y1="555.09" x2="37.20" y2="555.09" stroke="#222" stroke-width="1"/>
<text x="30.60" y="557.59" font-size="7.2" fill="#222" text-anchor="end" stroke="#222" stroke-width="0.14" textLength="3.44" lengthAdjust="spacingAndGlyphs">1</text>
<line x1="34.20" y1="563.20" x2="37.20" y2="563.20" stroke="#222" stroke-width="1"/>
<text x="30.60" y="565.70" font-size="7.2" fill="#222" text-anchor="end" stroke="#222" stroke-width="0.14" textLength="3.44" lengthAdjust="spacingAndGlyphs">0</text>
<line x1="91.95" y1="563.20" x2="91.95" y2="565.80" stroke="#222" stroke-width="1"/>
<text x="91.95" y="575.60" font-size="7.2" fill="#222" text-anchor="middle" stroke="#222" stroke-width="0.14" textLength="3.44" lengthAdjust="spacingAndGlyphs">6</text>
<line x1="146.70" y1="563.20" x2="146.70" y2="565.80" stroke="#222" stroke-width="1"/>
<text x="146.70" y="575.60" font-size="7.2" fill="#222" text-anchor="middle" stroke="#222" stroke-width="0.14" textLength="6.89" lengthAdjust="spacingAndGlyphs">12</text>
<rect x="196.05" y="514.53" width="9.20" height="3.72" fill="#621b89"/>
<rect x="205.75" y="514.53" width="9.20" height="3.72" fill="#d8d8da"/>
<rect x="215.45" y="514.53" width="9.20" height="3.72" fill="#621b89"/>
<rect x="225.15" y="514.53" width="9.20" height="3.72" fill="#621b89"/>
<text x="192.40" y="517.80" font-size="4.7" fill="#333" text-anchor="end" stroke="#333" stroke-width="0.06" textLength="25.16" lengthAdjust="spacingAndGlyphs">SPEN A744S</text>
<rect x="196.05" y="518.75" width="9.20" height="3.72" fill="#621b89"/>
<rect x="205.75" y="518.75" width="9.20" height="3.72" fill="#d8d8da"/>
<rect x="215.45" y="518.75" width="9.20" height="3.72" fill="#621b89"/>
<rect x="225.15" y="518.75" width="9.20" height="3.72" fill="#621b89"/>
<text x="192.40" y="522.02" font-size="4.7" fill="#333" text-anchor="end" stroke="#333" stroke-width="0.06" textLength="28.14" lengthAdjust="spacingAndGlyphs">PRKD3 Y219C</text>
<rect x="196.05" y="522.97" width="9.20" height="3.72" fill="#d8d8da"/>
<rect x="205.75" y="522.97" width="9.20" height="3.72" fill="#f7b07a"/>
<rect x="215.45" y="522.97" width="9.20" height="3.72" fill="#d8d8da"/>
<rect x="225.15" y="522.97" width="9.20" height="3.72" fill="#d8d8da"/>
<text x="192.40" y="526.24" font-size="4.7" fill="#333" text-anchor="end" stroke="#333" stroke-width="0.06" textLength="33.39" lengthAdjust="spacingAndGlyphs">TP53 R209Lfs*10</text>
<rect x="196.05" y="527.19" width="9.20" height="3.72" fill="#d8d8da"/>
<rect x="205.75" y="527.19" width="9.20" height="3.72" fill="#d8d8da"/>
<rect x="215.45" y="527.19" width="9.20" height="3.72" fill="#46136f"/>
<rect x="225.15" y="527.19" width="9.20" height="3.72" fill="#46136f"/>
<text x="192.40" y="530.46" font-size="4.7" fill="#333" text-anchor="end" stroke="#333" stroke-width="0.06" textLength="22.57" lengthAdjust="spacingAndGlyphs">BTK C481R</text>
<rect x="196.05" y="531.41" width="9.20" height="3.72" fill="#d8d8da"/>
<rect x="205.75" y="531.41" width="9.20" height="3.72" fill="#d8d8da"/>
<rect x="215.45" y="531.41" width="9.20" height="3.72" fill="#cf3b6a"/>
<rect x="225.15" y="531.41" width="9.20" height="3.72" fill="#cf3b6a"/>
<text x="192.40" y="534.68" font-size="4.7" fill="#333" text-anchor="end" stroke="#333" stroke-width="0.06" textLength="22.96" lengthAdjust="spacingAndGlyphs">IRF4 S114R</text>
<rect x="196.05" y="535.63" width="9.20" height="3.72" fill="#d8d8da"/>
<rect x="205.75" y="535.63" width="9.20" height="3.72" fill="#d8d8da"/>
<rect x="215.45" y="535.63" width="9.20" height="3.72" fill="#cf3b6a"/>
<rect x="225.15" y="535.63" width="9.20" height="3.72" fill="#cf3b6a"/>
<text x="192.40" y="538.90" font-size="4.7" fill="#333" text-anchor="end" stroke="#333" stroke-width="0.06" textLength="26.57" lengthAdjust="spacingAndGlyphs">SF3B1 K666T</text>
<rect x="196.05" y="539.85" width="9.20" height="3.72" fill="#d8d8da"/>
<rect x="205.75" y="539.85" width="9.20" height="3.72" fill="#d8d8da"/>
<rect x="215.45" y="539.85" width="9.20" height="3.72" fill="#b2307a"/>
<rect x="225.15" y="539.85" width="9.20" height="3.72" fill="#cf3b6a"/>
<text x="192.40" y="543.12" font-size="4.7" fill="#333" text-anchor="end" stroke="#333" stroke-width="0.06" textLength="24.69" lengthAdjust="spacingAndGlyphs">TP53 R280G</text>
<rect x="196.05" y="544.07" width="9.20" height="3.72" fill="#d8d8da"/>
<rect x="205.75" y="544.07" width="9.20" height="3.72" fill="#d8d8da"/>
<rect x="215.45" y="544.07" width="9.20" height="3.72" fill="#ef8462"/>
<rect x="225.15" y="544.07" width="9.20" height="3.72" fill="#ef8462"/>
<text x="192.40" y="547.34" font-size="4.7" fill="#333" text-anchor="end" stroke="#333" stroke-width="0.06" textLength="31.51" lengthAdjust="spacingAndGlyphs">TP53 R209Kfs*6</text>
<rect x="196.05" y="548.29" width="9.20" height="3.72" fill="#d8d8da"/>
<rect x="205.75" y="548.29" width="9.20" height="3.72" fill="#d8d8da"/>
<rect x="215.45" y="548.29" width="9.20" height="3.72" fill="#d8d8da"/>
<rect x="225.15" y="548.29" width="9.20" height="3.72" fill="#ef8462"/>
<text x="192.40" y="551.56" font-size="4.7" fill="#333" text-anchor="end" stroke="#333" stroke-width="0.06" textLength="20.14" lengthAdjust="spacingAndGlyphs">BTK T474I</text>
<rect x="196.05" y="552.51" width="9.20" height="3.72" fill="#d8d8da"/>
<rect x="205.75" y="552.51" width="9.20" height="3.72" fill="#d8d8da"/>
<rect x="215.45" y="552.51" width="9.20" height="3.72" fill="#fcd79e"/>
<rect x="225.15" y="552.51" width="9.20" height="3.72" fill="#fdeab8"/>
<text x="192.40" y="555.78" font-size="4.7" fill="#333" text-anchor="end" stroke="#333" stroke-width="0.06" textLength="24.92" lengthAdjust="spacingAndGlyphs">BCL2 G101V</text>
<rect x="196.05" y="556.73" width="9.20" height="3.72" fill="#d8d8da"/>
<rect x="205.75" y="556.73" width="9.20" height="3.72" fill="#d8d8da"/>
<rect x="215.45" y="556.73" width="9.20" height="3.72" fill="#d8d8da"/>
<rect x="225.15" y="556.73" width="9.20" height="3.72" fill="#fdeab8"/>
<text x="192.40" y="560.00" font-size="4.7" fill="#333" text-anchor="end" stroke="#333" stroke-width="0.06" textLength="29.39" lengthAdjust="spacingAndGlyphs">SETD2 L1521P</text>
<text transform="translate(203.05,564.70) rotate(-90)" font-size="7.1" fill="#555" text-anchor="end">C1</text>
<text transform="translate(212.75,564.70) rotate(-90)" font-size="7.1" fill="#555" text-anchor="end">C5</text>
<text transform="translate(222.45,564.70) rotate(-90)" font-size="7.1" fill="#555" text-anchor="end">C7</text>
<text transform="translate(232.15,564.70) rotate(-90)" font-size="7.1" fill="#555" text-anchor="end">C9</text>
<text x="289.00" y="28.30" font-size="7.4" fill="#222" text-anchor="start" stroke="#222" stroke-width="0.18" textLength="48.87" lengthAdjust="spacingAndGlyphs">P−103−003 (PR)</text>
<text transform="translate(265.00,55.80) rotate(-90)" font-size="9" fill="#222" stroke="#222" stroke-width="0.25" text-anchor="middle" textLength="23.5" lengthAdjust="spacingAndGlyphs">VAF (%)</text>
<polyline points="294.10,83.30 368.40,83.30" fill="none" stroke="#b81d3e" stroke-width="0.5" stroke-linejoin="round" stroke-linecap="round"/>
<circle cx="294.10" cy="83.30" r="1.2" fill="#3b2a24" fill-opacity="0.85"/>
<circle cx="368.40" cy="83.30" r="1.2" fill="#3b2a24" fill-opacity="0.85"/>
<polyline points="287.60,83.30 294.10,59.60 320.60,83.30" fill="none" stroke="#b81d3e" stroke-width="1.8" stroke-linejoin="round" stroke-linecap="round"/>
<circle cx="287.60" cy="83.30" r="1.35" fill="#3b2a24" fill-opacity="0.85"/>
<circle cx="294.10" cy="59.60" r="1.35" fill="#3b2a24" fill-opacity="0.85"/>
<circle cx="320.60" cy="83.30" r="1.35" fill="#3b2a24" fill-opacity="0.85"/>
<polyline points="338.70,83.30 368.40,58.00 388.30,83.30" fill="none" stroke="#b81d3e" stroke-width="1.5" stroke-linejoin="round" stroke-linecap="round"/>
<circle cx="338.70" cy="83.30" r="1.35" fill="#3b2a24" fill-opacity="0.85"/>
<circle cx="368.40" cy="58.00" r="1.35" fill="#3b2a24" fill-opacity="0.85"/>
<circle cx="388.30" cy="83.30" r="1.35" fill="#3b2a24" fill-opacity="0.85"/>
<polyline points="338.70,83.30 368.40,62.00 388.30,59.60" fill="none" stroke="#b81d3e" stroke-width="1.5" stroke-linejoin="round" stroke-linecap="round"/>
<circle cx="338.70" cy="83.30" r="1.35" fill="#3b2a24" fill-opacity="0.85"/>
<circle cx="368.40" cy="62.00" r="1.35" fill="#3b2a24" fill-opacity="0.85"/>
<circle cx="388.30" cy="59.60" r="1.35" fill="#3b2a24" fill-opacity="0.85"/>
<polyline points="368.40,83.30 388.30,59.60" fill="none" stroke="#b81d3e" stroke-width="1.5" stroke-linejoin="round" stroke-linecap="round"/>
<circle cx="388.30" cy="83.30" r="2.3" fill="#5a1020"/>
<text x="297.00" y="60.50" font-size="3.6" fill="#b81d3e" text-anchor="start" textLength="16.16" lengthAdjust="spacingAndGlyphs" fill-opacity="0.72">BTK C481S</text>
<text x="302.00" y="63.20" font-size="3.6" fill="#b81d3e" text-anchor="start" textLength="31.30" lengthAdjust="spacingAndGlyphs" fill-opacity="0.72">ARID1A P1307Efs*174</text>
<text x="358.00" y="55.50" font-size="3.6" fill="#b81d3e" text-anchor="start" textLength="20.75" lengthAdjust="spacingAndGlyphs" fill-opacity="0.72">PIK3CA E545K</text>
<text x="384.00" y="57.80" font-size="3.6" fill="#b81d3e" text-anchor="start" textLength="14.57" lengthAdjust="spacingAndGlyphs" fill-opacity="0.72">BTK T474I</text>
<text x="380.00" y="69.50" font-size="3.6" fill="#b81d3e" text-anchor="start" textLength="11.05" lengthAdjust="spacingAndGlyphs" fill-opacity="0.72">ARID1A</text>
<text x="380.00" y="72.00" font-size="3.6" fill="#b81d3e" text-anchor="start" textLength="19.56" lengthAdjust="spacingAndGlyphs" fill-opacity="0.72">P1307Efs*174</text>
<line x1="287.70" y1="26.30" x2="287.70" y2="83.90" stroke="#222" stroke-width="1.3"/>
<line x1="287.10" y1="83.30" x2="400.10" y2="83.30" stroke="#222" stroke-width="1.3"/>
<line x1="284.70" y1="29.30" x2="287.70" y2="29.30" stroke="#222" stroke-width="1"/>
<text x="281.10" y="31.80" font-size="7.2" fill="#222" text-anchor="end" stroke="#222" stroke-width="0.14" textLength="10.33" lengthAdjust="spacingAndGlyphs">100</text>
<line x1="284.70" y1="37.30" x2="287.70" y2="37.30" stroke="#222" stroke-width="1"/>
<text x="281.10" y="39.80" font-size="7.2" fill="#222" text-anchor="end" stroke="#222" stroke-width="0.14" textLength="6.89" lengthAdjust="spacingAndGlyphs">50</text>
<line x1="284.70" y1="47.68" x2="287.70" y2="47.68" stroke="#222" stroke-width="1"/>
<text x="281.10" y="50.18" font-size="7.2" fill="#222" text-anchor="end" stroke="#222" stroke-width="0.14" textLength="6.89" lengthAdjust="spacingAndGlyphs">20</text>
<line x1="284.70" y1="55.24" x2="287.70" y2="55.24" stroke="#222" stroke-width="1"/>
<text x="281.10" y="57.74" font-size="7.2" fill="#222" text-anchor="end" stroke="#222" stroke-width="0.14" textLength="6.89" lengthAdjust="spacingAndGlyphs">10</text>
<line x1="284.70" y1="62.34" x2="287.70" y2="62.34" stroke="#222" stroke-width="1"/>
<text x="281.10" y="64.84" font-size="7.2" fill="#222" text-anchor="end" stroke="#222" stroke-width="0.14" textLength="3.44" lengthAdjust="spacingAndGlyphs">5</text>
<line x1="284.70" y1="70.45" x2="287.70" y2="70.45" stroke="#222" stroke-width="1"/>
<text x="281.10" y="72.95" font-size="7.2" fill="#222" text-anchor="end" stroke="#222" stroke-width="0.14" textLength="3.44" lengthAdjust="spacingAndGlyphs">2</text>
<line x1="284.70" y1="75.19" x2="287.70" y2="75.19" stroke="#222" stroke-width="1"/>
<text x="281.10" y="77.69" font-size="7.2" fill="#222" text-anchor="end" stroke="#222" stroke-width="0.14" textLength="3.44" lengthAdjust="spacingAndGlyphs">1</text>
<line x1="284.70" y1="83.30" x2="287.70" y2="83.30" stroke="#222" stroke-width="1"/>
<text x="281.10" y="85.80" font-size="7.2" fill="#222" text-anchor="end" stroke="#222" stroke-width="0.14" textLength="3.44" lengthAdjust="spacingAndGlyphs">0</text>
<line x1="309.60" y1="83.30" x2="309.60" y2="85.90" stroke="#222" stroke-width="1"/>
<text x="309.60" y="95.70" font-size="7.2" fill="#222" text-anchor="middle" stroke="#222" stroke-width="0.14" textLength="3.44" lengthAdjust="spacingAndGlyphs">6</text>
<line x1="331.50" y1="83.30" x2="331.50" y2="85.90" stroke="#222" stroke-width="1"/>
<text x="331.50" y="95.70" font-size="7.2" fill="#222" text-anchor="middle" stroke="#222" stroke-width="0.14" textLength="6.89" lengthAdjust="spacingAndGlyphs">12</text>
<line x1="353.40" y1="83.30" x2="353.40" y2="85.90" stroke="#222" stroke-width="1"/>
<text x="353.40" y="95.70" font-size="7.2" fill="#222" text-anchor="middle" stroke="#222" stroke-width="0.14" textLength="6.89" lengthAdjust="spacingAndGlyphs">18</text>
<line x1="375.30" y1="83.30" x2="375.30" y2="85.90" stroke="#222" stroke-width="1"/>
<text x="375.30" y="95.70" font-size="7.2" fill="#222" text-anchor="middle" stroke="#222" stroke-width="0.14" textLength="6.89" lengthAdjust="spacingAndGlyphs">24</text>
<line x1="397.20" y1="83.30" x2="397.20" y2="85.90" stroke="#222" stroke-width="1"/>
<text x="397.20" y="95.70" font-size="7.2" fill="#222" text-anchor="middle" stroke="#222" stroke-width="0.14" textLength="6.89" lengthAdjust="spacingAndGlyphs">30</text>
<rect x="455.15" y="59.95" width="9.15" height="3.72" fill="#d8d8da"/>
<rect x="464.80" y="59.95" width="9.15" height="3.72" fill="#e0525f"/>
<rect x="474.45" y="59.95" width="9.15" height="3.72" fill="#d8d8da"/>
<rect x="484.10" y="59.95" width="9.15" height="3.72" fill="#d8d8da"/>
<rect x="493.75" y="59.95" width="9.15" height="3.72" fill="#d8d8da"/>
<rect x="503.40" y="59.95" width="9.15" height="3.72" fill="#d8d8da"/>
<text x="451.50" y="63.22" font-size="4.7" fill="#333" text-anchor="end" stroke="#333" stroke-width="0.06" textLength="43.27" lengthAdjust="spacingAndGlyphs">ARID1A P1307Efs*174</text>
<rect x="455.15" y="64.17" width="9.15" height="3.72" fill="#d8d8da"/>
<rect x="464.80" y="64.17" width="9.15" height="3.72" fill="#e0525f"/>
<rect x="474.45" y="64.17" width="9.15" height="3.72" fill="#d8d8da"/>
<rect x="484.10" y="64.17" width="9.15" height="3.72" fill="#d8d8da"/>
<rect x="493.75" y="64.17" width="9.15" height="3.72" fill="#d8d8da"/>
<rect x="503.40" y="64.17" width="9.15" height="3.72" fill="#d8d8da"/>
<text x="451.50" y="67.44" font-size="4.7" fill="#333" text-anchor="end" stroke="#333" stroke-width="0.06" textLength="22.34" lengthAdjust="spacingAndGlyphs">BTK C481S</text>
<rect x="455.15" y="68.39" width="9.15" height="3.72" fill="#d8d8da"/>
<rect x="464.80" y="68.39" width="9.15" height="3.72" fill="#d8d8da"/>
<rect x="474.45" y="68.39" width="9.15" height="3.72" fill="#d8d8da"/>
<rect x="484.10" y="68.39" width="9.15" height="3.72" fill="#d8d8da"/>
<rect x="493.75" y="68.39" width="9.15" height="3.72" fill="#fdeab8"/>
<rect x="503.40" y="68.39" width="9.15" height="3.72" fill="#e0525f"/>
<text x="451.50" y="71.66" font-size="4.7" fill="#333" text-anchor="end" stroke="#333" stroke-width="0.06" textLength="20.14" lengthAdjust="spacingAndGlyphs">BTK T474I</text>
<rect x="455.15" y="72.61" width="9.15" height="3.72" fill="#d8d8da"/>
<rect x="464.80" y="72.61" width="9.15" height="3.72" fill="#d8d8da"/>
<rect x="474.45" y="72.61" width="9.15" height="3.72" fill="#d8d8da"/>
<rect x="484.10" y="72.61" width="9.15" height="3.72" fill="#d8d8da"/>
<rect x="493.75" y="72.61" width="9.15" height="3.72" fill="#fdeab8"/>
<rect x="503.40" y="72.61" width="9.15" height="3.72" fill="#e0525f"/>
<text x="451.50" y="75.88" font-size="4.7" fill="#333" text-anchor="end" stroke="#333" stroke-width="0.06" textLength="43.27" lengthAdjust="spacingAndGlyphs">ARID1A P1307Efs*174</text>
<rect x="455.15" y="76.83" width="9.15" height="3.72" fill="#d8d8da"/>
<rect x="464.80" y="76.83" width="9.15" height="3.72" fill="#d8d8da"/>
<rect x="474.45" y="76.83" width="9.15" height="3.72" fill="#d8d8da"/>
<rect x="484.10" y="76.83" width="9.15" height="3.72" fill="#d8d8da"/>
<rect x="493.75" y="76.83" width="9.15" height="3.72" fill="#46136f"/>
<rect x="503.40" y="76.83" width="9.15" height="3.72" fill="#d8d8da"/>
<text x="451.50" y="80.10" font-size="4.7" fill="#333" text-anchor="end" stroke="#333" stroke-width="0.06" textLength="28.69" lengthAdjust="spacingAndGlyphs">PIK3CA E545K</text>
<text transform="translate(462.12,84.80) rotate(-90)" font-size="7.1" fill="#555" text-anchor="end">C1</text>
<text transform="translate(471.77,84.80) rotate(-90)" font-size="7.1" fill="#555" text-anchor="end">C3</text>
<text transform="translate(481.42,84.80) rotate(-90)" font-size="7.1" fill="#555" text-anchor="end">C11</text>
<text transform="translate(491.07,84.80) rotate(-90)" font-size="7.1" fill="#555" text-anchor="end">C16</text>
<text transform="translate(500.72,84.80) rotate(-90)" font-size="7.1" fill="#555" text-anchor="end">C25</text>
<text transform="translate(510.37,84.80) rotate(-90)" font-size="7.1" fill="#555" text-anchor="end">C31</text>
<text x="289.00" y="108.85" font-size="7.4" fill="#222" text-anchor="start" stroke="#222" stroke-width="0.18" textLength="48.87" lengthAdjust="spacingAndGlyphs">P−302−009 (PR)</text>
<text transform="translate(265.00,137.35) rotate(-90)" font-size="9" fill="#222" stroke="#222" stroke-width="0.25" text-anchor="middle" textLength="23.5" lengthAdjust="spacingAndGlyphs">VAF (%)</text>
<polyline points="287.60,118.00 304.20,118.00 321.00,118.00 351.20,118.00" fill="none" stroke="#f8d49a" stroke-width="0.8" stroke-linejoin="round" stroke-linecap="round"/>
<circle cx="321.00" cy="118.00" r="0.9" fill="#3b2a24" fill-opacity="0.85"/>
<circle cx="351.20" cy="118.00" r="0.9" fill="#3b2a24" fill-opacity="0.85"/>
<polyline points="287.60,128.00 304.20,163.85 351.20,163.85" fill="none" stroke="#bfe2f0" stroke-width="0.8" stroke-linejoin="round" stroke-linecap="round"/>
<polyline points="287.60,132.70 304.20,114.50 321.00,131.30 351.20,124.90" fill="none" stroke="#eea236" stroke-width="1.6" stroke-linejoin="round" stroke-linecap="round"/>
<circle cx="287.60" cy="132.70" r="1.35" fill="#3b2a24" fill-opacity="0.85"/>
<circle cx="304.20" cy="114.50" r="1.4500000000000002" fill="#c8923a" stroke="#4a3520" stroke-width="0.8" stroke-opacity="0.9"/>
<circle cx="321.00" cy="131.30" r="1.4500000000000002" fill="#c8923a" stroke="#4a3520" stroke-width="0.8" stroke-opacity="0.9"/>
<circle cx="351.20" cy="124.90" r="1.4500000000000002" fill="#c8923a" stroke="#4a3520" stroke-width="0.8" stroke-opacity="0.9"/>
<polyline points="287.60,163.85 304.20,126.10 321.00,139.30 351.20,133.00" fill="none" stroke="#b81d3e" stroke-width="1.6" stroke-linejoin="round" stroke-linecap="round"/>
<circle cx="287.60" cy="163.85" r="1.35" fill="#3b2a24" fill-opacity="0.85"/>
<circle cx="304.20" cy="126.10" r="1.35" fill="#3b2a24" fill-opacity="0.85"/>
<circle cx="321.00" cy="139.30" r="1.35" fill="#3b2a24" fill-opacity="0.85"/>
<circle cx="351.20" cy="133.00" r="1.35" fill="#3b2a24" fill-opacity="0.85"/>
<polyline points="287.60,163.85 304.20,126.10 321.00,141.30 351.20,140.50" fill="none" stroke="#b81d3e" stroke-width="1.6" stroke-linejoin="round" stroke-linecap="round"/>
<circle cx="287.60" cy="163.85" r="1.35" fill="#3b2a24" fill-opacity="0.85"/>
<circle cx="304.20" cy="126.10" r="1.35" fill="#3b2a24" fill-opacity="0.85"/>
<circle cx="321.00" cy="141.30" r="1.35" fill="#3b2a24" fill-opacity="0.85"/>
<circle cx="351.20" cy="140.50" r="1.35" fill="#3b2a24" fill-opacity="0.85"/>
<polyline points="287.60,163.85 304.20,139.30 321.00,163.85" fill="none" stroke="#b81d3e" stroke-width="2.4" stroke-linejoin="round" stroke-linecap="round"/>
<circle cx="287.60" cy="163.85" r="1.35" fill="#3b2a24" fill-opacity="0.85"/>
<circle cx="304.20" cy="139.30" r="1.35" fill="#3b2a24" fill-opacity="0.85"/>
<circle cx="321.00" cy="163.85" r="1.35" fill="#3b2a24" fill-opacity="0.85"/>
<polyline points="287.60,163.85 304.20,142.20 321.00,163.85" fill="none" stroke="#b81d3e" stroke-width="1.4" stroke-linejoin="round" stroke-linecap="round"/>
<circle cx="287.60" cy="163.85" r="1.35" fill="#3b2a24" fill-opacity="0.85"/>
<circle cx="304.20" cy="142.20" r="1.35" fill="#3b2a24" fill-opacity="0.85"/>
<circle cx="321.00" cy="163.85" r="1.35" fill="#3b2a24" fill-opacity="0.85"/>
<circle cx="351.20" cy="163.85" r="2.3" fill="#5a1020"/>
<text x="354.00" y="119.00" font-size="3.6" fill="#f8d49a" text-anchor="start" textLength="23.53" lengthAdjust="spacingAndGlyphs" fill-opacity="0.72">RAD54L E429del</text>
<text x="354.00" y="125.20" font-size="3.6" fill="#eea236" text-anchor="start" textLength="19.90" lengthAdjust="spacingAndGlyphs" fill-opacity="0.72">BCOR R1661*</text>
<text x="354.00" y="133.50" font-size="3.6" fill="#b81d3e" text-anchor="start" textLength="18.20" lengthAdjust="spacingAndGlyphs" fill-opacity="0.72">XPO1 E571K</text>
<text x="354.00" y="141.30" font-size="3.6" fill="#b81d3e" text-anchor="start" textLength="16.16" lengthAdjust="spacingAndGlyphs" fill-opacity="0.72">BTK C481S</text>
<text x="313.00" y="145.50" font-size="3.6" fill="#e8a0b0" text-anchor="start" textLength="24.10" lengthAdjust="spacingAndGlyphs" fill-opacity="0.72">RANBP2 Y2444H</text>
<text x="313.00" y="148.20" font-size="3.6" fill="#e8a0b0" text-anchor="start" textLength="20.41" lengthAdjust="spacingAndGlyphs" fill-opacity="0.72">PLCG2 D993H</text>
<line x1="287.70" y1="106.85" x2="287.70" y2="164.45" stroke="#222" stroke-width="1.3"/>
<line x1="287.10" y1="163.85" x2="412.10" y2="163.85" stroke="#222" stroke-width="1.3"/>
<line x1="284.70" y1="109.85" x2="287.70" y2="109.85" stroke="#222" stroke-width="1"/>
<text x="281.10" y="112.35" font-size="7.2" fill="#222" text-anchor="end" stroke="#222" stroke-width="0.14" textLength="10.33" lengthAdjust="spacingAndGlyphs">100</text>
<line x1="284.70" y1="117.85" x2="287.70" y2="117.85" stroke="#222" stroke-width="1"/>
<text x="281.10" y="120.35" font-size="7.2" fill="#222" text-anchor="end" stroke="#222" stroke-width="0.14" textLength="6.89" lengthAdjust="spacingAndGlyphs">50</text>
<line x1="284.70" y1="128.23" x2="287.70" y2="128.23" stroke="#222" stroke-width="1"/>
<text x="281.10" y="130.73" font-size="7.2" fill="#222" text-anchor="end" stroke="#222" stroke-width="0.14" textLength="6.89" lengthAdjust="spacingAndGlyphs">20</text>
<line x1="284.70" y1="135.79" x2="287.70" y2="135.79" stroke="#222" stroke-width="1"/>
<text x="281.10" y="138.29" font-size="7.2" fill="#222" text-anchor="end" stroke="#222" stroke-width="0.14" textLength="6.89" lengthAdjust="spacingAndGlyphs">10</text>
<line x1="284.70" y1="142.89" x2="287.70" y2="142.89" stroke="#222" stroke-width="1"/>
<text x="281.10" y="145.39" font-size="7.2" fill="#222" text-anchor="end" stroke="#222" stroke-width="0.14" textLength="3.44" lengthAdjust="spacingAndGlyphs">5</text>
<line x1="284.70" y1="151.00" x2="287.70" y2="151.00" stroke="#222" stroke-width="1"/>
<text x="281.10" y="153.50" font-size="7.2" fill="#222" text-anchor="end" stroke="#222" stroke-width="0.14" textLength="3.44" lengthAdjust="spacingAndGlyphs">2</text>
<line x1="284.70" y1="155.74" x2="287.70" y2="155.74" stroke="#222" stroke-width="1"/>
<text x="281.10" y="158.24" font-size="7.2" fill="#222" text-anchor="end" stroke="#222" stroke-width="0.14" textLength="3.44" lengthAdjust="spacingAndGlyphs">1</text>
<line x1="284.70" y1="163.85" x2="287.70" y2="163.85" stroke="#222" stroke-width="1"/>
<text x="281.10" y="166.35" font-size="7.2" fill="#222" text-anchor="end" stroke="#222" stroke-width="0.14" textLength="3.44" lengthAdjust="spacingAndGlyphs">0</text>
<line x1="315.07" y1="163.85" x2="315.07" y2="166.45" stroke="#222" stroke-width="1"/>
<text x="315.07" y="176.25" font-size="7.2" fill="#222" text-anchor="middle" stroke="#222" stroke-width="0.14" textLength="3.44" lengthAdjust="spacingAndGlyphs">6</text>
<line x1="342.45" y1="163.85" x2="342.45" y2="166.45" stroke="#222" stroke-width="1"/>
<text x="342.45" y="176.25" font-size="7.2" fill="#222" text-anchor="middle" stroke="#222" stroke-width="0.14" textLength="6.89" lengthAdjust="spacingAndGlyphs">12</text>
<line x1="369.82" y1="163.85" x2="369.82" y2="166.45" stroke="#222" stroke-width="1"/>
<text x="369.82" y="176.25" font-size="7.2" fill="#222" text-anchor="middle" stroke="#222" stroke-width="0.14" textLength="6.89" lengthAdjust="spacingAndGlyphs">18</text>
<line x1="397.20" y1="163.85" x2="397.20" y2="166.45" stroke="#222" stroke-width="1"/>
<text x="397.20" y="176.25" font-size="7.2" fill="#222" text-anchor="middle" stroke="#222" stroke-width="0.14" textLength="6.89" lengthAdjust="spacingAndGlyphs">24</text>
<rect x="454.65" y="123.62" width="9.20" height="3.72" fill="#721c72"/>
<rect x="464.35" y="123.62" width="9.20" height="3.72" fill="#721c72"/>
<rect x="474.05" y="123.62" width="9.20" height="3.72" fill="#721c72"/>
<rect x="483.75" y="123.62" width="9.20" height="3.72" fill="#721c72"/>
<text x="451.00" y="126.89" font-size="4.7" fill="#333" text-anchor="end" stroke="#333" stroke-width="0.06" textLength="32.53" lengthAdjust="spacingAndGlyphs">RAD54L E429del</text>
<rect x="454.65" y="127.84" width="9.20" height="3.72" fill="#ef8462"/>
<rect x="464.35" y="127.84" width="9.20" height="3.72" fill="#46136f"/>
<rect x="474.05" y="127.84" width="9.20" height="3.72" fill="#ef8462"/>
<rect x="483.75" y="127.84" width="9.20" height="3.72" fill="#cf3b6a"/>
<text x="451.00" y="131.11" font-size="4.7" fill="#333" text-anchor="end" stroke="#333" stroke-width="0.06" textLength="27.51" lengthAdjust="spacingAndGlyphs">BCOR R1661*</text>
<rect x="454.65" y="132.06" width="9.20" height="3.72" fill="#fdeab8"/>
<rect x="464.35" y="132.06" width="9.20" height="3.72" fill="#d8d8da"/>
<rect x="474.05" y="132.06" width="9.20" height="3.72" fill="#fdeab8"/>
<rect x="483.75" y="132.06" width="9.20" height="3.72" fill="#d8d8da"/>
<text x="451.00" y="135.33" font-size="4.7" fill="#333" text-anchor="end" stroke="#333" stroke-width="0.06" textLength="21.24" lengthAdjust="spacingAndGlyphs">KEL P433L</text>
<rect x="454.65" y="136.28" width="9.20" height="3.72" fill="#d8d8da"/>
<rect x="464.35" y="136.28" width="9.20" height="3.72" fill="#cf3b6a"/>
<rect x="474.05" y="136.28" width="9.20" height="3.72" fill="#fdeab8"/>
<rect x="483.75" y="136.28" width="9.20" height="3.72" fill="#fdeab8"/>
<text x="451.00" y="139.55" font-size="4.7" fill="#333" text-anchor="end" stroke="#333" stroke-width="0.06" textLength="22.34" lengthAdjust="spacingAndGlyphs">BTK C481S</text>
<rect x="454.65" y="140.50" width="9.20" height="3.72" fill="#d8d8da"/>
<rect x="464.35" y="140.50" width="9.20" height="3.72" fill="#cf3b6a"/>
<rect x="474.05" y="140.50" width="9.20" height="3.72" fill="#fdeab8"/>
<rect x="483.75" y="140.50" width="9.20" height="3.72" fill="#ef8462"/>
<text x="451.00" y="143.77" font-size="4.7" fill="#333" text-anchor="end" stroke="#333" stroke-width="0.06" textLength="25.16" lengthAdjust="spacingAndGlyphs">XPO1 E571K</text>
<rect x="454.65" y="144.72" width="9.20" height="3.72" fill="#d8d8da"/>
<rect x="464.35" y="144.72" width="9.20" height="3.72" fill="#fcd79e"/>
<rect x="474.05" y="144.72" width="9.20" height="3.72" fill="#d8d8da"/>
<rect x="483.75" y="144.72" width="9.20" height="3.72" fill="#d8d8da"/>
<text x="451.00" y="147.99" font-size="4.7" fill="#333" text-anchor="end" stroke="#333" stroke-width="0.06" textLength="27.75" lengthAdjust="spacingAndGlyphs">EPHA3 K653E</text>
<rect x="454.65" y="148.94" width="9.20" height="3.72" fill="#d8d8da"/>
<rect x="464.35" y="148.94" width="9.20" height="3.72" fill="#fdeab8"/>
<rect x="474.05" y="148.94" width="9.20" height="3.72" fill="#d8d8da"/>
<rect x="483.75" y="148.94" width="9.20" height="3.72" fill="#d8d8da"/>
<text x="451.00" y="152.21" font-size="4.7" fill="#333" text-anchor="end" stroke="#333" stroke-width="0.06" textLength="33.31" lengthAdjust="spacingAndGlyphs">RANBP2 Y2444H</text>
<rect x="454.65" y="153.16" width="9.20" height="3.72" fill="#d8d8da"/>
<rect x="464.35" y="153.16" width="9.20" height="3.72" fill="#fdeab8"/>
<rect x="474.05" y="153.16" width="9.20" height="3.72" fill="#d8d8da"/>
<rect x="483.75" y="153.16" width="9.20" height="3.72" fill="#d8d8da"/>
<text x="451.00" y="156.43" font-size="4.7" fill="#333" text-anchor="end" stroke="#333" stroke-width="0.06" textLength="28.21" lengthAdjust="spacingAndGlyphs">PLCG2 D993H</text>
<rect x="454.65" y="157.38" width="9.20" height="3.72" fill="#d8d8da"/>
<rect x="464.35" y="157.38" width="9.20" height="3.72" fill="#fdeab8"/>
<rect x="474.05" y="157.38" width="9.20" height="3.72" fill="#d8d8da"/>
<rect x="483.75" y="157.38" width="9.20" height="3.72" fill="#d8d8da"/>
<text x="451.00" y="160.65" font-size="4.7" fill="#333" text-anchor="end" stroke="#333" stroke-width="0.06" textLength="27.51" lengthAdjust="spacingAndGlyphs">SF3B1 D894G</text>
<text transform="translate(461.65,165.35) rotate(-90)" font-size="7.1" fill="#555" text-anchor="end">C1</text>
<text transform="translate(471.35,165.35) rotate(-90)" font-size="7.1" fill="#555" text-anchor="end">C5</text>
<text transform="translate(481.05,165.35) rotate(-90)" font-size="7.1" fill="#555" text-anchor="end">C9</text>
<text transform="translate(490.75,165.35) rotate(-90)" font-size="7.1" fill="#555" text-anchor="end">C16</text>
<text x="289.00" y="189.10" font-size="7.4" fill="#222" text-anchor="start" stroke="#222" stroke-width="0.18" textLength="48.87" lengthAdjust="spacingAndGlyphs">P−108−021 (PR)</text>
<text transform="translate(265.00,219.10) rotate(-90)" font-size="9" fill="#222" stroke="#222" stroke-width="0.25" text-anchor="middle" textLength="23.5" lengthAdjust="spacingAndGlyphs">VAF (%)</text>
<polyline points="287.60,198.00 303.60,198.00 337.40,198.00 363.90,198.00" fill="none" stroke="#f8d49a" stroke-width="0.8" stroke-linejoin="round" stroke-linecap="round"/>
<circle cx="337.40" cy="198.00" r="0.9" fill="#3b2a24" fill-opacity="0.85"/>
<circle cx="363.90" cy="198.00" r="0.9" fill="#3b2a24" fill-opacity="0.85"/>
<polyline points="287.60,232.00 303.60,215.80 337.40,217.90 363.90,216.00" fill="none" stroke="#e8a0b0" stroke-width="0.8" stroke-linejoin="round" stroke-linecap="round"/>
<circle cx="303.60" cy="215.80" r="0.9" fill="#3b2a24" fill-opacity="0.85"/>
<circle cx="337.40" cy="217.90" r="0.9" fill="#3b2a24" fill-opacity="0.85"/>
<circle cx="363.90" cy="216.00" r="0.9" fill="#3b2a24" fill-opacity="0.85"/>
<polyline points="303.60,215.00 337.40,244.10" fill="none" stroke="#e8a0b0" stroke-width="0.8" stroke-linejoin="round" stroke-linecap="round"/>
<polyline points="287.60,220.00 303.60,244.10" fill="none" stroke="#f8d49a" stroke-width="0.8" stroke-linejoin="round" stroke-linecap="round"/>
<polyline points="337.40,244.10 363.90,218.00" fill="none" stroke="#f8d49a" stroke-width="0.8" stroke-linejoin="round" stroke-linecap="round"/>
<polyline points="287.60,206.60 303.60,198.00 337.40,206.60 363.90,214.40" fill="none" stroke="#eea236" stroke-width="1.6" stroke-linejoin="round" stroke-linecap="round"/>
<circle cx="287.60" cy="206.60" r="1.35" fill="#3b2a24" fill-opacity="0.85"/>
<circle cx="303.60" cy="198.00" r="1.4500000000000002" fill="#c8923a" stroke="#4a3520" stroke-width="0.8" stroke-opacity="0.9"/>
<circle cx="337.40" cy="206.60" r="1.4500000000000002" fill="#c8923a" stroke="#4a3520" stroke-width="0.8" stroke-opacity="0.9"/>
<circle cx="363.90" cy="214.40" r="1.4500000000000002" fill="#c8923a" stroke="#4a3520" stroke-width="0.8" stroke-opacity="0.9"/>
<polyline points="287.60,210.10 303.60,198.00 337.40,211.80 363.90,221.30" fill="none" stroke="#eea236" stroke-width="1.6" stroke-linejoin="round" stroke-linecap="round"/>
<circle cx="287.60" cy="210.10" r="1.35" fill="#3b2a24" fill-opacity="0.85"/>
<circle cx="303.60" cy="198.00" r="1.4500000000000002" fill="#c8923a" stroke="#4a3520" stroke-width="0.8" stroke-opacity="0.9"/>
<circle cx="337.40" cy="211.80" r="1.4500000000000002" fill="#c8923a" stroke="#4a3520" stroke-width="0.8" stroke-opacity="0.9"/>
<circle cx="363.90" cy="221.30" r="1.4500000000000002" fill="#c8923a" stroke="#4a3520" stroke-width="0.8" stroke-opacity="0.9"/>
<polyline points="287.60,244.10 303.60,221.00 337.40,218.70 363.90,244.10" fill="none" stroke="#eea236" stroke-width="1.6" stroke-linejoin="round" stroke-linecap="round"/>
<circle cx="287.60" cy="244.10" r="1.35" fill="#3b2a24" fill-opacity="0.85"/>
<circle cx="303.60" cy="221.00" r="1.4500000000000002" fill="#c8923a" stroke="#4a3520" stroke-width="0.8" stroke-opacity="0.9"/>
<circle cx="337.40" cy="218.70" r="1.4500000000000002" fill="#c8923a" stroke="#4a3520" stroke-width="0.8" stroke-opacity="0.9"/>
<circle cx="363.90" cy="244.10" r="1.4500000000000002" fill="#c8923a" stroke="#4a3520" stroke-width="0.8" stroke-opacity="0.9"/>
<polyline points="303.60,244.10 337.40,218.70 363.90,209.20" fill="none" stroke="#b81d3e" stroke-width="1.6" stroke-linejoin="round" stroke-linecap="round"/>
<circle cx="303.60" cy="244.10" r="1.35" fill="#3b2a24" fill-opacity="0.85"/>
<circle cx="337.40" cy="218.70" r="1.35" fill="#3b2a24" fill-opacity="0.85"/>
<circle cx="363.90" cy="209.20" r="1.35" fill="#3b2a24" fill-opacity="0.85"/>
<circle cx="363.90" cy="244.10" r="2.3" fill="#5a1020"/>
<text x="367.00" y="199.00" font-size="3.6" fill="#f8d49a" text-anchor="start" textLength="21.42" lengthAdjust="spacingAndGlyphs" fill-opacity="0.72">MUTYH V167M</text>
<text x="367.00" y="210.00" font-size="3.6" fill="#b81d3e" text-anchor="start" textLength="16.50" lengthAdjust="spacingAndGlyphs" fill-opacity="0.72">BTK L528W</text>
<text x="367.00" y="215.40" font-size="3.6" fill="#eea236" text-anchor="start" textLength="19.56" lengthAdjust="spacingAndGlyphs" fill-opacity="0.72">SF3B1 K741N</text>
<text x="367.00" y="221.00" font-size="3.6" fill="#f8d49a" text-anchor="start" textLength="9.69" lengthAdjust="spacingAndGlyphs" fill-opacity="0.72">CRLF2</text>
<text x="367.00" y="223.60" font-size="3.6" fill="#e8a0b0" text-anchor="start" textLength="20.75" lengthAdjust="spacingAndGlyphs" fill-opacity="0.72">PIK3CA E545K</text>
<text x="367.00" y="242.00" font-size="3.6" fill="#f8d49a" text-anchor="start" textLength="17.63" lengthAdjust="spacingAndGlyphs" fill-opacity="0.72">BCL2 A113G</text>
<line x1="287.70" y1="187.10" x2="287.70" y2="244.70" stroke="#222" stroke-width="1.3"/>
<line x1="287.10" y1="244.10" x2="412.10" y2="244.10" stroke="#222" stroke-width="1.3"/>
<line x1="284.70" y1="190.10" x2="287.70" y2="190.10" stroke="#222" stroke-width="1"/>
<text x="281.10" y="192.60" font-size="7.2" fill="#222" text-anchor="end" stroke="#222" stroke-width="0.14" textLength="10.33" lengthAdjust="spacingAndGlyphs">100</text>
<line x1="284.70" y1="198.10" x2="287.70" y2="198.10" stroke="#222" stroke-width="1"/>
<text x="281.10" y="200.60" font-size="7.2" fill="#222" text-anchor="end" stroke="#222" stroke-width="0.14" textLength="6.89" lengthAdjust="spacingAndGlyphs">50</text>
<line x1="284.70" y1="208.48" x2="287.70" y2="208.48" stroke="#222" stroke-width="1"/>
<text x="281.10" y="210.98" font-size="7.2" fill="#222" text-anchor="end" stroke="#222" stroke-width="0.14" textLength="6.89" lengthAdjust="spacingAndGlyphs">20</text>
<line x1="284.70" y1="216.04" x2="287.70" y2="216.04" stroke="#222" stroke-width="1"/>
<text x="281.10" y="218.54" font-size="7.2" fill="#222" text-anchor="end" stroke="#222" stroke-width="0.14" textLength="6.89" lengthAdjust="spacingAndGlyphs">10</text>
<line x1="284.70" y1="223.14" x2="287.70" y2="223.14" stroke="#222" stroke-width="1"/>
<text x="281.10" y="225.64" font-size="7.2" fill="#222" text-anchor="end" stroke="#222" stroke-width="0.14" textLength="3.44" lengthAdjust="spacingAndGlyphs">5</text>
<line x1="284.70" y1="231.25" x2="287.70" y2="231.25" stroke="#222" stroke-width="1"/>
<text x="281.10" y="233.75" font-size="7.2" fill="#222" text-anchor="end" stroke="#222" stroke-width="0.14" textLength="3.44" lengthAdjust="spacingAndGlyphs">2</text>
<line x1="284.70" y1="235.99" x2="287.70" y2="235.99" stroke="#222" stroke-width="1"/>
<text x="281.10" y="238.49" font-size="7.2" fill="#222" text-anchor="end" stroke="#222" stroke-width="0.14" textLength="3.44" lengthAdjust="spacingAndGlyphs">1</text>
<line x1="284.70" y1="244.10" x2="287.70" y2="244.10" stroke="#222" stroke-width="1"/>
<text x="281.10" y="246.60" font-size="7.2" fill="#222" text-anchor="end" stroke="#222" stroke-width="0.14" textLength="3.44" lengthAdjust="spacingAndGlyphs">0</text>
<line x1="315.07" y1="244.10" x2="315.07" y2="246.70" stroke="#222" stroke-width="1"/>
<text x="315.07" y="256.50" font-size="7.2" fill="#222" text-anchor="middle" stroke="#222" stroke-width="0.14" textLength="3.44" lengthAdjust="spacingAndGlyphs">6</text>
<line x1="342.45" y1="244.10" x2="342.45" y2="246.70" stroke="#222" stroke-width="1"/>
<text x="342.45" y="256.50" font-size="7.2" fill="#222" text-anchor="middle" stroke="#222" stroke-width="0.14" textLength="6.89" lengthAdjust="spacingAndGlyphs">12</text>
<line x1="369.82" y1="244.10" x2="369.82" y2="246.70" stroke="#222" stroke-width="1"/>
<text x="369.82" y="256.50" font-size="7.2" fill="#222" text-anchor="middle" stroke="#222" stroke-width="0.14" textLength="6.89" lengthAdjust="spacingAndGlyphs">18</text>
<line x1="397.20" y1="244.10" x2="397.20" y2="246.70" stroke="#222" stroke-width="1"/>
<text x="397.20" y="256.50" font-size="7.2" fill="#222" text-anchor="middle" stroke="#222" stroke-width="0.14" textLength="6.89" lengthAdjust="spacingAndGlyphs">24</text>
<rect x="457.95" y="208.09" width="9.20" height="3.72" fill="#621b89"/>
<rect x="467.65" y="208.09" width="9.20" height="3.72" fill="#621b89"/>
<rect x="477.35" y="208.09" width="9.20" height="3.72" fill="#621b89"/>
<rect x="487.05" y="208.09" width="9.20" height="3.72" fill="#621b89"/>
<text x="454.30" y="211.36" font-size="4.7" fill="#333" text-anchor="end" stroke="#333" stroke-width="0.06" textLength="29.62" lengthAdjust="spacingAndGlyphs">MUTYH V167M</text>
<rect x="457.95" y="212.31" width="9.20" height="3.72" fill="#cf3b6a"/>
<rect x="467.65" y="212.31" width="9.20" height="3.72" fill="#46136f"/>
<rect x="477.35" y="212.31" width="9.20" height="3.72" fill="#cf3b6a"/>
<rect x="487.05" y="212.31" width="9.20" height="3.72" fill="#ef8462"/>
<text x="454.30" y="215.58" font-size="4.7" fill="#333" text-anchor="end" stroke="#333" stroke-width="0.06" textLength="27.04" lengthAdjust="spacingAndGlyphs">SF3B1 K741N</text>
<rect x="457.95" y="216.53" width="9.20" height="3.72" fill="#e0525f"/>
<rect x="467.65" y="216.53" width="9.20" height="3.72" fill="#46136f"/>
<rect x="477.35" y="216.53" width="9.20" height="3.72" fill="#e0525f"/>
<rect x="487.05" y="216.53" width="9.20" height="3.72" fill="#fdeab8"/>
<text x="454.30" y="219.80" font-size="4.7" fill="#333" text-anchor="end" stroke="#333" stroke-width="0.06" textLength="22.34" lengthAdjust="spacingAndGlyphs">BTK C481S</text>
<rect x="457.95" y="220.75" width="9.20" height="3.72" fill="#fdeab8"/>
<rect x="467.65" y="220.75" width="9.20" height="3.72" fill="#d8d8da"/>
<rect x="477.35" y="220.75" width="9.20" height="3.72" fill="#d8d8da"/>
<rect x="487.05" y="220.75" width="9.20" height="3.72" fill="#ef8462"/>
<text x="454.30" y="224.02" font-size="4.7" fill="#333" text-anchor="end" stroke="#333" stroke-width="0.06" textLength="27.27" lengthAdjust="spacingAndGlyphs">CRLF2 S152Y</text>
<rect x="457.95" y="224.97" width="9.20" height="3.72" fill="#d8d8da"/>
<rect x="467.65" y="224.97" width="9.20" height="3.72" fill="#ef8462"/>
<rect x="477.35" y="224.97" width="9.20" height="3.72" fill="#fcd79e"/>
<rect x="487.05" y="224.97" width="9.20" height="3.72" fill="#fdeab8"/>
<text x="454.30" y="228.24" font-size="4.7" fill="#333" text-anchor="end" stroke="#333" stroke-width="0.06" textLength="24.38" lengthAdjust="spacingAndGlyphs">BCL2 A113G</text>
<rect x="457.95" y="229.19" width="9.20" height="3.72" fill="#d8d8da"/>
<rect x="467.65" y="229.19" width="9.20" height="3.72" fill="#fcd79e"/>
<rect x="477.35" y="229.19" width="9.20" height="3.72" fill="#d8d8da"/>
<rect x="487.05" y="229.19" width="9.20" height="3.72" fill="#d8d8da"/>
<text x="454.30" y="232.46" font-size="4.7" fill="#333" text-anchor="end" stroke="#333" stroke-width="0.06" textLength="27.75" lengthAdjust="spacingAndGlyphs">EPHB1 S491P</text>
<rect x="457.95" y="233.41" width="9.20" height="3.72" fill="#d8d8da"/>
<rect x="467.65" y="233.41" width="9.20" height="3.72" fill="#fdeab8"/>
<rect x="477.35" y="233.41" width="9.20" height="3.72" fill="#fcd79e"/>
<rect x="487.05" y="233.41" width="9.20" height="3.72" fill="#d8d8da"/>
<text x="454.30" y="236.68" font-size="4.7" fill="#333" text-anchor="end" stroke="#333" stroke-width="0.06" textLength="28.69" lengthAdjust="spacingAndGlyphs">PIK3CA E545K</text>
<rect x="457.95" y="237.63" width="9.20" height="3.72" fill="#d8d8da"/>
<rect x="467.65" y="237.63" width="9.20" height="3.72" fill="#d8d8da"/>
<rect x="477.35" y="237.63" width="9.20" height="3.72" fill="#fcd79e"/>
<rect x="487.05" y="237.63" width="9.20" height="3.72" fill="#e0525f"/>
<text x="454.30" y="240.90" font-size="4.7" fill="#333" text-anchor="end" stroke="#333" stroke-width="0.06" textLength="22.80" lengthAdjust="spacingAndGlyphs">BTK L528W</text>
<text transform="translate(464.95,245.60) rotate(-90)" font-size="7.1" fill="#555" text-anchor="end">C1</text>
<text transform="translate(474.65,245.60) rotate(-90)" font-size="7.1" fill="#555" text-anchor="end">C5</text>
<text transform="translate(484.35,245.60) rotate(-90)" font-size="7.1" fill="#555" text-anchor="end">C13</text>
<text transform="translate(494.05,245.60) rotate(-90)" font-size="7.1" fill="#555" text-anchor="end">C19</text>
<text x="289.00" y="271.20" font-size="7.4" fill="#222" text-anchor="start" stroke="#222" stroke-width="0.18" textLength="48.87" lengthAdjust="spacingAndGlyphs">P−103−009 (PR)</text>
<text transform="translate(265.00,302.70) rotate(-90)" font-size="9" fill="#222" stroke="#222" stroke-width="0.25" text-anchor="middle" textLength="23.5" lengthAdjust="spacingAndGlyphs">VAF (%)</text>
<polyline points="287.60,280.10 309.90,280.10 321.10,281.00" fill="none" stroke="#f8d49a" stroke-width="0.9" stroke-linejoin="round" stroke-linecap="round"/>
<circle cx="309.90" cy="280.10" r="0.9" fill="#3b2a24" fill-opacity="0.85"/>
<circle cx="321.10" cy="281.00" r="0.9" fill="#3b2a24" fill-opacity="0.85"/>
<polyline points="287.60,275.30 309.90,276.30 321.10,281.00 354.70,281.00" fill="none" stroke="#eea236" stroke-width="2.0" stroke-linejoin="round" stroke-linecap="round"/>
<circle cx="287.60" cy="275.30" r="1.35" fill="#3b2a24" fill-opacity="0.85"/>
<circle cx="309.90" cy="276.30" r="1.4500000000000002" fill="#c8923a" stroke="#4a3520" stroke-width="0.8" stroke-opacity="0.9"/>
<circle cx="321.10" cy="281.00" r="1.4500000000000002" fill="#c8923a" stroke="#4a3520" stroke-width="0.8" stroke-opacity="0.9"/>
<circle cx="354.70" cy="281.00" r="1.4500000000000002" fill="#c8923a" stroke="#4a3520" stroke-width="0.8" stroke-opacity="0.9"/>
<polyline points="287.60,294.80 309.90,296.50 321.10,299.50 354.70,326.20" fill="none" stroke="#42a9d6" stroke-width="1.4" stroke-linejoin="round" stroke-linecap="round"/>
<circle cx="287.60" cy="294.80" r="1.35" fill="#3b2a24" fill-opacity="0.85"/>
<circle cx="309.90" cy="296.50" r="1.35" fill="#3b2a24" fill-opacity="0.85"/>
<circle cx="321.10" cy="299.50" r="1.35" fill="#3b2a24" fill-opacity="0.85"/>
<circle cx="354.70" cy="326.20" r="1.35" fill="#3b2a24" fill-opacity="0.85"/>
<polyline points="287.60,297.40 309.90,300.00 321.10,303.50 354.70,326.20" fill="none" stroke="#42a9d6" stroke-width="1.4" stroke-linejoin="round" stroke-linecap="round"/>
<circle cx="287.60" cy="297.40" r="1.35" fill="#3b2a24" fill-opacity="0.85"/>
<circle cx="309.90" cy="300.00" r="1.35" fill="#3b2a24" fill-opacity="0.85"/>
<circle cx="321.10" cy="303.50" r="1.35" fill="#3b2a24" fill-opacity="0.85"/>
<circle cx="354.70" cy="326.20" r="1.35" fill="#3b2a24" fill-opacity="0.85"/>
<polyline points="287.60,303.50 309.90,303.50 321.10,304.30 354.70,326.20" fill="none" stroke="#42a9d6" stroke-width="2.6" stroke-linejoin="round" stroke-linecap="round"/>
<circle cx="287.60" cy="303.50" r="1.35" fill="#3b2a24" fill-opacity="0.85"/>
<circle cx="309.90" cy="303.50" r="1.35" fill="#3b2a24" fill-opacity="0.85"/>
<circle cx="321.10" cy="304.30" r="1.35" fill="#3b2a24" fill-opacity="0.85"/>
<circle cx="354.70" cy="326.20" r="1.35" fill="#3b2a24" fill-opacity="0.85"/>
<polyline points="287.60,305.20 309.90,326.20" fill="none" stroke="#3a9ab8" stroke-width="1.0" stroke-linejoin="round" stroke-linecap="round"/>
<polyline points="309.90,326.20 321.10,309.20 354.70,289.60" fill="none" stroke="#b81d3e" stroke-width="1.6" stroke-linejoin="round" stroke-linecap="round"/>
<circle cx="309.90" cy="326.20" r="1.35" fill="#3b2a24" fill-opacity="0.85"/>
<circle cx="321.10" cy="309.20" r="1.35" fill="#3b2a24" fill-opacity="0.85"/>
<circle cx="354.70" cy="289.60" r="1.35" fill="#3b2a24" fill-opacity="0.85"/>
<polyline points="321.10,309.20 354.70,326.20" fill="none" stroke="#b81d3e" stroke-width="1.4" stroke-linejoin="round" stroke-linecap="round"/>
<circle cx="354.70" cy="326.20" r="2.3" fill="#5a1020"/>
<text x="292.00" y="294.00" font-size="3.6" fill="#bfe2f0" text-anchor="start" textLength="16.16" lengthAdjust="spacingAndGlyphs" fill-opacity="0.72">BTK C481S</text>
<text x="315.00" y="297.00" font-size="3.6" fill="#bfe2f0" text-anchor="start" textLength="16.33" lengthAdjust="spacingAndGlyphs" fill-opacity="0.72">BTK C481R</text>
<text x="298.00" y="308.00" font-size="3.6" fill="#bfe2f0" text-anchor="start" textLength="16.16" lengthAdjust="spacingAndGlyphs" fill-opacity="0.72">BTK C481Y</text>
<text x="288.00" y="319.00" font-size="3.6" fill="#bfe2f0" text-anchor="start" textLength="6.23" lengthAdjust="spacingAndGlyphs" fill-opacity="0.72">ATM</text>
<text x="288.00" y="321.50" font-size="3.6" fill="#bfe2f0" text-anchor="start" textLength="13.27" lengthAdjust="spacingAndGlyphs" fill-opacity="0.72">E1380Vfs</text>
<text x="318.00" y="319.00" font-size="3.6" fill="#b81d3e" text-anchor="start" textLength="15.99" lengthAdjust="spacingAndGlyphs" fill-opacity="0.72">BTK C481F</text>
<text x="359.00" y="282.00" font-size="3.6" fill="#f8d49a" text-anchor="start" textLength="23.64" lengthAdjust="spacingAndGlyphs" fill-opacity="0.72">TP53 C176Wfs*5</text>
<text x="359.00" y="291.00" font-size="3.6" fill="#b81d3e" text-anchor="start" textLength="16.50" lengthAdjust="spacingAndGlyphs" fill-opacity="0.72">BTK L528W</text>
<line x1="287.70" y1="269.20" x2="287.70" y2="326.80" stroke="#222" stroke-width="1.3"/>
<line x1="287.10" y1="326.20" x2="412.10" y2="326.20" stroke="#222" stroke-width="1.3"/>
<line x1="284.70" y1="272.20" x2="287.70" y2="272.20" stroke="#222" stroke-width="1"/>
<text x="281.10" y="274.70" font-size="7.2" fill="#222" text-anchor="end" stroke="#222" stroke-width="0.14" textLength="10.33" lengthAdjust="spacingAndGlyphs">100</text>
<line x1="284.70" y1="280.20" x2="287.70" y2="280.20" stroke="#222" stroke-width="1"/>
<text x="281.10" y="282.70" font-size="7.2" fill="#222" text-anchor="end" stroke="#222" stroke-width="0.14" textLength="6.89" lengthAdjust="spacingAndGlyphs">50</text>
<line x1="284.70" y1="290.58" x2="287.70" y2="290.58" stroke="#222" stroke-width="1"/>
<text x="281.10" y="293.08" font-size="7.2" fill="#222" text-anchor="end" stroke="#222" stroke-width="0.14" textLength="6.89" lengthAdjust="spacingAndGlyphs">20</text>
<line x1="284.70" y1="298.14" x2="287.70" y2="298.14" stroke="#222" stroke-width="1"/>
<text x="281.10" y="300.64" font-size="7.2" fill="#222" text-anchor="end" stroke="#222" stroke-width="0.14" textLength="6.89" lengthAdjust="spacingAndGlyphs">10</text>
<line x1="284.70" y1="305.24" x2="287.70" y2="305.24" stroke="#222" stroke-width="1"/>
<text x="281.10" y="307.74" font-size="7.2" fill="#222" text-anchor="end" stroke="#222" stroke-width="0.14" textLength="3.44" lengthAdjust="spacingAndGlyphs">5</text>
<line x1="284.70" y1="313.35" x2="287.70" y2="313.35" stroke="#222" stroke-width="1"/>
<text x="281.10" y="315.85" font-size="7.2" fill="#222" text-anchor="end" stroke="#222" stroke-width="0.14" textLength="3.44" lengthAdjust="spacingAndGlyphs">2</text>
<line x1="284.70" y1="318.09" x2="287.70" y2="318.09" stroke="#222" stroke-width="1"/>
<text x="281.10" y="320.59" font-size="7.2" fill="#222" text-anchor="end" stroke="#222" stroke-width="0.14" textLength="3.44" lengthAdjust="spacingAndGlyphs">1</text>
<line x1="284.70" y1="326.20" x2="287.70" y2="326.20" stroke="#222" stroke-width="1"/>
<text x="281.10" y="328.70" font-size="7.2" fill="#222" text-anchor="end" stroke="#222" stroke-width="0.14" textLength="3.44" lengthAdjust="spacingAndGlyphs">0</text>
<line x1="324.20" y1="326.20" x2="324.20" y2="328.80" stroke="#222" stroke-width="1"/>
<text x="324.20" y="338.60" font-size="7.2" fill="#222" text-anchor="middle" stroke="#222" stroke-width="0.14" textLength="3.44" lengthAdjust="spacingAndGlyphs">6</text>
<line x1="360.70" y1="326.20" x2="360.70" y2="328.80" stroke="#222" stroke-width="1"/>
<text x="360.70" y="338.60" font-size="7.2" fill="#222" text-anchor="middle" stroke="#222" stroke-width="0.14" textLength="6.89" lengthAdjust="spacingAndGlyphs">12</text>
<line x1="397.20" y1="326.20" x2="397.20" y2="328.80" stroke="#222" stroke-width="1"/>
<text x="397.20" y="338.60" font-size="7.2" fill="#222" text-anchor="middle" stroke="#222" stroke-width="0.14" textLength="6.89" lengthAdjust="spacingAndGlyphs">18</text>
<rect x="457.95" y="277.03" width="9.20" height="3.72" fill="#621b89"/>
<rect x="467.65" y="277.03" width="9.20" height="3.72" fill="#621b89"/>
<rect x="477.35" y="277.03" width="9.20" height="3.72" fill="#86278a"/>
<rect x="487.05" y="277.03" width="9.20" height="3.72" fill="#721c72"/>
<text x="454.30" y="280.30" font-size="4.7" fill="#333" text-anchor="end" stroke="#333" stroke-width="0.06" textLength="32.68" lengthAdjust="spacingAndGlyphs">TP53 C176Wfs*5</text>
<rect x="457.95" y="281.25" width="9.20" height="3.72" fill="#621b89"/>
<rect x="467.65" y="281.25" width="9.20" height="3.72" fill="#621b89"/>
<rect x="477.35" y="281.25" width="9.20" height="3.72" fill="#86278a"/>
<rect x="487.05" y="281.25" width="9.20" height="3.72" fill="#721c72"/>
<text x="454.30" y="284.52" font-size="4.7" fill="#333" text-anchor="end" stroke="#333" stroke-width="0.06" textLength="33.08" lengthAdjust="spacingAndGlyphs">CREBBP S1345L</text>
<rect x="457.95" y="285.47" width="9.20" height="3.72" fill="#621b89"/>
<rect x="467.65" y="285.47" width="9.20" height="3.72" fill="#86278a"/>
<rect x="477.35" y="285.47" width="9.20" height="3.72" fill="#721c72"/>
<rect x="487.05" y="285.47" width="9.20" height="3.72" fill="#86278a"/>
<text x="454.30" y="288.74" font-size="4.7" fill="#333" text-anchor="end" stroke="#333" stroke-width="0.06" textLength="30.02" lengthAdjust="spacingAndGlyphs">BRCA2 T2662K</text>
<rect x="457.95" y="289.69" width="9.20" height="3.72" fill="#86278a"/>
<rect x="467.65" y="289.69" width="9.20" height="3.72" fill="#86278a"/>
<rect x="477.35" y="289.69" width="9.20" height="3.72" fill="#621b89"/>
<rect x="487.05" y="289.69" width="9.20" height="3.72" fill="#86278a"/>
<text x="454.30" y="292.96" font-size="4.7" fill="#333" text-anchor="end" stroke="#333" stroke-width="0.06" textLength="28.60" lengthAdjust="spacingAndGlyphs">RAD50 I1109M</text>
<rect x="457.95" y="293.91" width="9.20" height="3.72" fill="#ef8462"/>
<rect x="467.65" y="293.91" width="9.20" height="3.72" fill="#f7b07a"/>
<rect x="477.35" y="293.91" width="9.20" height="3.72" fill="#fcd79e"/>
<rect x="487.05" y="293.91" width="9.20" height="3.72" fill="#d8d8da"/>
<text x="454.30" y="297.18" font-size="4.7" fill="#333" text-anchor="end" stroke="#333" stroke-width="0.06" textLength="22.34" lengthAdjust="spacingAndGlyphs">BTK C481S</text>
<rect x="457.95" y="298.13" width="9.20" height="3.72" fill="#ef8462"/>
<rect x="467.65" y="298.13" width="9.20" height="3.72" fill="#ef8462"/>
<rect x="477.35" y="298.13" width="9.20" height="3.72" fill="#ef8462"/>
<rect x="487.05" y="298.13" width="9.20" height="3.72" fill="#d8d8da"/>
<text x="454.30" y="301.40" font-size="4.7" fill="#333" text-anchor="end" stroke="#333" stroke-width="0.06" textLength="22.57" lengthAdjust="spacingAndGlyphs">BTK C481R</text>
<rect x="457.95" y="302.35" width="9.20" height="3.72" fill="#f7b07a"/>
<rect x="467.65" y="302.35" width="9.20" height="3.72" fill="#f7b07a"/>
<rect x="477.35" y="302.35" width="9.20" height="3.72" fill="#f7b07a"/>
<rect x="487.05" y="302.35" width="9.20" height="3.72" fill="#d8d8da"/>
<text x="454.30" y="305.62" font-size="4.7" fill="#333" text-anchor="end" stroke="#333" stroke-width="0.06" textLength="22.34" lengthAdjust="spacingAndGlyphs">BTK C481Y</text>
<rect x="457.95" y="306.57" width="9.20" height="3.72" fill="#f7b07a"/>
<rect x="467.65" y="306.57" width="9.20" height="3.72" fill="#fcd79e"/>
<rect x="477.35" y="306.57" width="9.20" height="3.72" fill="#fcd79e"/>
<rect x="487.05" y="306.57" width="9.20" height="3.72" fill="#d8d8da"/>
<text x="454.30" y="309.84" font-size="4.7" fill="#333" text-anchor="end" stroke="#333" stroke-width="0.06" textLength="22.34" lengthAdjust="spacingAndGlyphs">BTK C481S</text>
<rect x="457.95" y="310.79" width="9.20" height="3.72" fill="#fcd79e"/>
<rect x="467.65" y="310.79" width="9.20" height="3.72" fill="#d8d8da"/>
<rect x="477.35" y="310.79" width="9.20" height="3.72" fill="#d8d8da"/>
<rect x="487.05" y="310.79" width="9.20" height="3.72" fill="#d8d8da"/>
<text x="454.30" y="314.06" font-size="4.7" fill="#333" text-anchor="end" stroke="#333" stroke-width="0.06" textLength="34.48" lengthAdjust="spacingAndGlyphs">ATM E1380Vfs*26</text>
<rect x="457.95" y="315.01" width="9.20" height="3.72" fill="#d8d8da"/>
<rect x="467.65" y="315.01" width="9.20" height="3.72" fill="#d8d8da"/>
<rect x="477.35" y="315.01" width="9.20" height="3.72" fill="#fdeab8"/>
<rect x="487.05" y="315.01" width="9.20" height="3.72" fill="#cf3b6a"/>
<text x="454.30" y="318.28" font-size="4.7" fill="#333" text-anchor="end" stroke="#333" stroke-width="0.06" textLength="22.80" lengthAdjust="spacingAndGlyphs">BTK L528W</text>
<rect x="457.95" y="319.23" width="9.20" height="3.72" fill="#d8d8da"/>
<rect x="467.65" y="319.23" width="9.20" height="3.72" fill="#d8d8da"/>
<rect x="477.35" y="319.23" width="9.20" height="3.72" fill="#fdeab8"/>
<rect x="487.05" y="319.23" width="9.20" height="3.72" fill="#d8d8da"/>
<text x="454.30" y="322.50" font-size="4.7" fill="#333" text-anchor="end" stroke="#333" stroke-width="0.06" textLength="22.10" lengthAdjust="spacingAndGlyphs">BTK C481F</text>
<text transform="translate(464.95,327.20) rotate(-90)" font-size="7.1" fill="#555" text-anchor="end">C1</text>
<text transform="translate(474.65,327.20) rotate(-90)" font-size="7.1" fill="#555" text-anchor="end">C5</text>
<text transform="translate(484.35,327.20) rotate(-90)" font-size="7.1" fill="#555" text-anchor="end">C7</text>
<text transform="translate(494.05,327.20) rotate(-90)" font-size="7.1" fill="#555" text-anchor="end">C13</text>
<text x="289.00" y="352.75" font-size="7.4" fill="#222" text-anchor="start" stroke="#222" stroke-width="0.18" textLength="48.87" lengthAdjust="spacingAndGlyphs">P−102−004 (PR)</text>
<text transform="translate(265.00,385.85) rotate(-90)" font-size="9" fill="#222" stroke="#222" stroke-width="0.25" text-anchor="middle" textLength="23.5" lengthAdjust="spacingAndGlyphs">VAF (%)</text>
<polyline points="287.60,354.80 297.80,354.80 332.20,356.90 344.30,355.50" fill="none" stroke="#eea236" stroke-width="2.4" stroke-linejoin="round" stroke-linecap="round"/>
<circle cx="287.60" cy="354.80" r="1.35" fill="#3b2a24" fill-opacity="0.85"/>
<circle cx="297.80" cy="354.80" r="1.4500000000000002" fill="#c8923a" stroke="#4a3520" stroke-width="0.8" stroke-opacity="0.9"/>
<circle cx="332.20" cy="356.90" r="1.4500000000000002" fill="#c8923a" stroke="#4a3520" stroke-width="0.8" stroke-opacity="0.9"/>
<circle cx="344.30" cy="355.50" r="1.4500000000000002" fill="#c8923a" stroke="#4a3520" stroke-width="0.8" stroke-opacity="0.9"/>
<polyline points="287.60,354.80 297.80,356.90 332.20,385.50 344.30,407.75" fill="none" stroke="#42a9d6" stroke-width="1.5" stroke-linejoin="round" stroke-linecap="round"/>
<circle cx="287.60" cy="354.80" r="1.35" fill="#3b2a24" fill-opacity="0.85"/>
<circle cx="297.80" cy="356.90" r="1.35" fill="#3b2a24" fill-opacity="0.85"/>
<circle cx="332.20" cy="385.50" r="1.35" fill="#3b2a24" fill-opacity="0.85"/>
<circle cx="344.30" cy="407.75" r="1.35" fill="#3b2a24" fill-opacity="0.85"/>
<polyline points="287.60,407.75 297.80,373.90 332.20,356.90 344.30,355.50" fill="none" stroke="#b81d3e" stroke-width="1.5" stroke-linejoin="round" stroke-linecap="round"/>
<circle cx="287.60" cy="407.75" r="1.35" fill="#3b2a24" fill-opacity="0.85"/>
<circle cx="297.80" cy="373.90" r="1.35" fill="#3b2a24" fill-opacity="0.85"/>
<circle cx="332.20" cy="356.90" r="1.35" fill="#3b2a24" fill-opacity="0.85"/>
<circle cx="344.30" cy="355.50" r="1.35" fill="#3b2a24" fill-opacity="0.85"/>
<polyline points="287.60,381.50 297.80,383.70 332.20,407.75" fill="none" stroke="#42a9d6" stroke-width="1.5" stroke-linejoin="round" stroke-linecap="round"/>
<circle cx="287.60" cy="381.50" r="1.35" fill="#3b2a24" fill-opacity="0.85"/>
<circle cx="297.80" cy="383.70" r="1.35" fill="#3b2a24" fill-opacity="0.85"/>
<circle cx="332.20" cy="407.75" r="1.35" fill="#3b2a24" fill-opacity="0.85"/>
<polyline points="297.80,386.70 332.20,407.75" fill="none" stroke="#6a5a8a" stroke-width="1.6" stroke-linejoin="round" stroke-linecap="round"/>
<polyline points="287.60,407.75 297.80,386.70 332.20,407.75" fill="none" stroke="#b81d3e" stroke-width="1.5" stroke-linejoin="round" stroke-linecap="round"/>
<circle cx="287.60" cy="407.75" r="1.35" fill="#3b2a24" fill-opacity="0.85"/>
<circle cx="297.80" cy="386.70" r="1.35" fill="#3b2a24" fill-opacity="0.85"/>
<circle cx="332.20" cy="407.75" r="1.35" fill="#3b2a24" fill-opacity="0.85"/>
<polyline points="297.80,407.75 332.20,394.10 344.30,407.75" fill="none" stroke="#b81d3e" stroke-width="1.4" stroke-linejoin="round" stroke-linecap="round"/>
<circle cx="297.80" cy="407.75" r="1.35" fill="#3b2a24" fill-opacity="0.85"/>
<circle cx="332.20" cy="394.10" r="1.35" fill="#3b2a24" fill-opacity="0.85"/>
<circle cx="344.30" cy="407.75" r="1.35" fill="#3b2a24" fill-opacity="0.85"/>
<circle cx="344.30" cy="407.75" r="2.3" fill="#5a1020"/>
<text x="302.00" y="382.00" font-size="3.6" fill="#42a9d6" text-anchor="start" textLength="15.14" lengthAdjust="spacingAndGlyphs" fill-opacity="0.72">RB1 S610*</text>
<text x="333.00" y="382.50" font-size="3.6" fill="#42a9d6" text-anchor="start" textLength="16.16" lengthAdjust="spacingAndGlyphs" fill-opacity="0.72">BTK C481S</text>
<text x="316.00" y="392.00" font-size="3.6" fill="#f8d49a" text-anchor="start" textLength="15.76" lengthAdjust="spacingAndGlyphs" fill-opacity="0.72">BTK T474P</text>
<text x="296.00" y="397.00" font-size="3.6" fill="#b81d3e" text-anchor="start" textLength="5.95" lengthAdjust="spacingAndGlyphs" fill-opacity="0.72">RB1</text>
<text x="296.00" y="400.00" font-size="3.6" fill="#b81d3e" text-anchor="start" textLength="15.82" lengthAdjust="spacingAndGlyphs" fill-opacity="0.72">X405 splice</text>
<text x="346.00" y="355.00" font-size="3.6" fill="#eea236" text-anchor="start" textLength="17.46" lengthAdjust="spacingAndGlyphs" fill-opacity="0.72">TP53 Y126C</text>
<text x="346.00" y="358.00" font-size="3.6" fill="#b81d3e" text-anchor="start" textLength="14.57" lengthAdjust="spacingAndGlyphs" fill-opacity="0.72">BTK T474I</text>
<line x1="287.70" y1="350.75" x2="287.70" y2="408.35" stroke="#222" stroke-width="1.3"/>
<line x1="287.10" y1="407.75" x2="412.10" y2="407.75" stroke="#222" stroke-width="1.3"/>
<line x1="284.70" y1="353.75" x2="287.70" y2="353.75" stroke="#222" stroke-width="1"/>
<text x="281.10" y="356.25" font-size="7.2" fill="#222" text-anchor="end" stroke="#222" stroke-width="0.14" textLength="10.33" lengthAdjust="spacingAndGlyphs">100</text>
<line x1="284.70" y1="361.75" x2="287.70" y2="361.75" stroke="#222" stroke-width="1"/>
<text x="281.10" y="364.25" font-size="7.2" fill="#222" text-anchor="end" stroke="#222" stroke-width="0.14" textLength="6.89" lengthAdjust="spacingAndGlyphs">50</text>
<line x1="284.70" y1="372.13" x2="287.70" y2="372.13" stroke="#222" stroke-width="1"/>
<text x="281.10" y="374.63" font-size="7.2" fill="#222" text-anchor="end" stroke="#222" stroke-width="0.14" textLength="6.89" lengthAdjust="spacingAndGlyphs">20</text>
<line x1="284.70" y1="379.69" x2="287.70" y2="379.69" stroke="#222" stroke-width="1"/>
<text x="281.10" y="382.19" font-size="7.2" fill="#222" text-anchor="end" stroke="#222" stroke-width="0.14" textLength="6.89" lengthAdjust="spacingAndGlyphs">10</text>
<line x1="284.70" y1="386.79" x2="287.70" y2="386.79" stroke="#222" stroke-width="1"/>
<text x="281.10" y="389.29" font-size="7.2" fill="#222" text-anchor="end" stroke="#222" stroke-width="0.14" textLength="3.44" lengthAdjust="spacingAndGlyphs">5</text>
<line x1="284.70" y1="394.90" x2="287.70" y2="394.90" stroke="#222" stroke-width="1"/>
<text x="281.10" y="397.40" font-size="7.2" fill="#222" text-anchor="end" stroke="#222" stroke-width="0.14" textLength="3.44" lengthAdjust="spacingAndGlyphs">2</text>
<line x1="284.70" y1="399.64" x2="287.70" y2="399.64" stroke="#222" stroke-width="1"/>
<text x="281.10" y="402.14" font-size="7.2" fill="#222" text-anchor="end" stroke="#222" stroke-width="0.14" textLength="3.44" lengthAdjust="spacingAndGlyphs">1</text>
<line x1="284.70" y1="407.75" x2="287.70" y2="407.75" stroke="#222" stroke-width="1"/>
<text x="281.10" y="410.25" font-size="7.2" fill="#222" text-anchor="end" stroke="#222" stroke-width="0.14" textLength="3.44" lengthAdjust="spacingAndGlyphs">0</text>
<line x1="324.20" y1="407.75" x2="324.20" y2="410.35" stroke="#222" stroke-width="1"/>
<text x="324.20" y="420.15" font-size="7.2" fill="#222" text-anchor="middle" stroke="#222" stroke-width="0.14" textLength="3.44" lengthAdjust="spacingAndGlyphs">6</text>
<line x1="360.70" y1="407.75" x2="360.70" y2="410.35" stroke="#222" stroke-width="1"/>
<text x="360.70" y="420.15" font-size="7.2" fill="#222" text-anchor="middle" stroke="#222" stroke-width="0.14" textLength="6.89" lengthAdjust="spacingAndGlyphs">12</text>
<line x1="397.20" y1="407.75" x2="397.20" y2="410.35" stroke="#222" stroke-width="1"/>
<text x="397.20" y="420.15" font-size="7.2" fill="#222" text-anchor="middle" stroke="#222" stroke-width="0.14" textLength="6.89" lengthAdjust="spacingAndGlyphs">18</text>
<rect x="457.95" y="379.98" width="9.20" height="3.72" fill="#621b89"/>
<rect x="467.65" y="379.98" width="9.20" height="3.72" fill="#621b89"/>
<rect x="477.35" y="379.98" width="9.20" height="3.72" fill="#621b89"/>
<rect x="487.05" y="379.98" width="9.20" height="3.72" fill="#621b89"/>
<text x="454.30" y="383.25" font-size="4.7" fill="#333" text-anchor="end" stroke="#333" stroke-width="0.06" textLength="24.14" lengthAdjust="spacingAndGlyphs">TP53 Y126C</text>
<rect x="457.95" y="384.20" width="9.20" height="3.72" fill="#621b89"/>
<rect x="467.65" y="384.20" width="9.20" height="3.72" fill="#721c72"/>
<rect x="477.35" y="384.20" width="9.20" height="3.72" fill="#f7b07a"/>
<rect x="487.05" y="384.20" width="9.20" height="3.72" fill="#d8d8da"/>
<text x="454.30" y="387.47" font-size="4.7" fill="#333" text-anchor="end" stroke="#333" stroke-width="0.06" textLength="22.34" lengthAdjust="spacingAndGlyphs">BTK C481S</text>
<rect x="457.95" y="388.42" width="9.20" height="3.72" fill="#ef8462"/>
<rect x="467.65" y="388.42" width="9.20" height="3.72" fill="#ef8462"/>
<rect x="477.35" y="388.42" width="9.20" height="3.72" fill="#d8d8da"/>
<rect x="487.05" y="388.42" width="9.20" height="3.72" fill="#d8d8da"/>
<text x="454.30" y="391.69" font-size="4.7" fill="#333" text-anchor="end" stroke="#333" stroke-width="0.06" textLength="20.93" lengthAdjust="spacingAndGlyphs">RB1 S610*</text>
<rect x="457.95" y="392.64" width="9.20" height="3.72" fill="#d8d8da"/>
<rect x="467.65" y="392.64" width="9.20" height="3.72" fill="#cf3b6a"/>
<rect x="477.35" y="392.64" width="9.20" height="3.72" fill="#46136f"/>
<rect x="487.05" y="392.64" width="9.20" height="3.72" fill="#46136f"/>
<text x="454.30" y="395.91" font-size="4.7" fill="#333" text-anchor="end" stroke="#333" stroke-width="0.06" textLength="20.14" lengthAdjust="spacingAndGlyphs">BTK T474I</text>
<rect x="457.95" y="396.86" width="9.20" height="3.72" fill="#d8d8da"/>
<rect x="467.65" y="396.86" width="9.20" height="3.72" fill="#f7b07a"/>
<rect x="477.35" y="396.86" width="9.20" height="3.72" fill="#d8d8da"/>
<rect x="487.05" y="396.86" width="9.20" height="3.72" fill="#d8d8da"/>
<text x="454.30" y="400.13" font-size="4.7" fill="#333" text-anchor="end" stroke="#333" stroke-width="0.06" textLength="31.27" lengthAdjust="spacingAndGlyphs">RB1 X405 splice</text>
<rect x="457.95" y="401.08" width="9.20" height="3.72" fill="#d8d8da"/>
<rect x="467.65" y="401.08" width="9.20" height="3.72" fill="#d8d8da"/>
<rect x="477.35" y="401.08" width="9.20" height="3.72" fill="#fdeab8"/>
<rect x="487.05" y="401.08" width="9.20" height="3.72" fill="#d8d8da"/>
<text x="454.30" y="404.35" font-size="4.7" fill="#333" text-anchor="end" stroke="#333" stroke-width="0.06" textLength="21.79" lengthAdjust="spacingAndGlyphs">BTK T474P</text>
<text transform="translate(464.95,409.05) rotate(-90)" font-size="7.1" fill="#555" text-anchor="end">C1</text>
<text transform="translate(474.65,409.05) rotate(-90)" font-size="7.1" fill="#555" text-anchor="end">C3</text>
<text transform="translate(484.35,409.05) rotate(-90)" font-size="7.1" fill="#555" text-anchor="end">C9</text>
<text transform="translate(494.05,409.05) rotate(-90)" font-size="7.1" fill="#555" text-anchor="end">C11</text>
<text x="289.00" y="435.35" font-size="7.4" fill="#222" text-anchor="start" stroke="#222" stroke-width="0.18" textLength="55.81" lengthAdjust="spacingAndGlyphs">P−114−003 (PR−L)</text>
<text transform="translate(265.00,470.15) rotate(-90)" font-size="9" fill="#222" stroke="#222" stroke-width="0.25" text-anchor="middle" textLength="23.5" lengthAdjust="spacingAndGlyphs">VAF (%)</text>
<polyline points="337.60,437.50 365.90,490.35" fill="none" stroke="#f8d49a" stroke-width="0.8" stroke-linejoin="round" stroke-linecap="round"/>
<polyline points="287.60,439.80 337.60,437.50 365.90,437.50" fill="none" stroke="#eea236" stroke-width="1.6" stroke-linejoin="round" stroke-linecap="round"/>
<circle cx="287.60" cy="439.80" r="1.35" fill="#3b2a24" fill-opacity="0.85"/>
<circle cx="337.60" cy="437.50" r="1.4500000000000002" fill="#c8923a" stroke="#4a3520" stroke-width="0.8" stroke-opacity="0.9"/>
<circle cx="365.90" cy="437.50" r="1.4500000000000002" fill="#c8923a" stroke="#4a3520" stroke-width="0.8" stroke-opacity="0.9"/>
<polyline points="287.60,445.80 337.60,445.00 365.90,445.00" fill="none" stroke="#eea236" stroke-width="1.6" stroke-linejoin="round" stroke-linecap="round"/>
<circle cx="287.60" cy="445.80" r="1.35" fill="#3b2a24" fill-opacity="0.85"/>
<circle cx="337.60" cy="445.00" r="1.4500000000000002" fill="#c8923a" stroke="#4a3520" stroke-width="0.8" stroke-opacity="0.9"/>
<circle cx="365.90" cy="445.00" r="1.4500000000000002" fill="#c8923a" stroke="#4a3520" stroke-width="0.8" stroke-opacity="0.9"/>
<polyline points="287.60,458.80 337.60,453.60 365.90,454.50" fill="none" stroke="#eea236" stroke-width="1.6" stroke-linejoin="round" stroke-linecap="round"/>
<circle cx="287.60" cy="458.80" r="1.35" fill="#3b2a24" fill-opacity="0.85"/>
<circle cx="337.60" cy="453.60" r="1.4500000000000002" fill="#c8923a" stroke="#4a3520" stroke-width="0.8" stroke-opacity="0.9"/>
<circle cx="365.90" cy="454.50" r="1.4500000000000002" fill="#c8923a" stroke="#4a3520" stroke-width="0.8" stroke-opacity="0.9"/>
<polyline points="287.60,458.30 337.60,457.60 365.90,458.80" fill="none" stroke="#eea236" stroke-width="2.6" stroke-linejoin="round" stroke-linecap="round"/>
<circle cx="287.60" cy="458.30" r="1.35" fill="#3b2a24" fill-opacity="0.85"/>
<circle cx="337.60" cy="457.60" r="1.4500000000000002" fill="#c8923a" stroke="#4a3520" stroke-width="0.8" stroke-opacity="0.9"/>
<circle cx="365.90" cy="458.80" r="1.4500000000000002" fill="#c8923a" stroke="#4a3520" stroke-width="0.8" stroke-opacity="0.9"/>
<polyline points="287.60,467.50 337.60,490.35" fill="none" stroke="#42a9d6" stroke-width="3.0" stroke-linejoin="round" stroke-linecap="round"/>
<circle cx="287.60" cy="467.50" r="1.35" fill="#3b2a24" fill-opacity="0.85"/>
<polyline points="287.60,458.00 337.60,490.35" fill="none" stroke="#42a9d6" stroke-width="1.4" stroke-linejoin="round" stroke-linecap="round"/>
<circle cx="287.60" cy="458.00" r="1.35" fill="#3b2a24" fill-opacity="0.85"/>
<circle cx="337.60" cy="490.35" r="1.35" fill="#3b2a24" fill-opacity="0.85"/>
<polyline points="287.60,490.35 337.60,477.80 365.90,461.40" fill="none" stroke="#b81d3e" stroke-width="1.5" stroke-linejoin="round" stroke-linecap="round"/>
<circle cx="287.60" cy="490.35" r="1.35" fill="#3b2a24" fill-opacity="0.85"/>
<circle cx="337.60" cy="477.80" r="1.35" fill="#3b2a24" fill-opacity="0.85"/>
<circle cx="365.90" cy="461.40" r="1.35" fill="#3b2a24" fill-opacity="0.85"/>
<polyline points="287.60,490.35 337.60,482.50 365.90,490.35" fill="none" stroke="#b81d3e" stroke-width="1.5" stroke-linejoin="round" stroke-linecap="round"/>
<circle cx="287.60" cy="490.35" r="1.35" fill="#3b2a24" fill-opacity="0.85"/>
<circle cx="337.60" cy="482.50" r="1.35" fill="#3b2a24" fill-opacity="0.85"/>
<circle cx="365.90" cy="490.35" r="1.35" fill="#3b2a24" fill-opacity="0.85"/>
<polyline points="337.60,490.35 365.90,460.50" fill="none" stroke="#b81d3e" stroke-width="1.5" stroke-linejoin="round" stroke-linecap="round"/>
<circle cx="337.60" cy="490.35" r="1.35" fill="#3b2a24" fill-opacity="0.85"/>
<circle cx="365.90" cy="460.50" r="1.35" fill="#3b2a24" fill-opacity="0.85"/>
<circle cx="361.30" cy="490.35" r="2.3" fill="#5a1020"/>
<text x="369.00" y="438.50" font-size="3.6" fill="#f8d49a" text-anchor="start" textLength="18.31" lengthAdjust="spacingAndGlyphs" fill-opacity="0.72">ATM N1356D</text>
<text x="369.00" y="446.00" font-size="3.6" fill="#f8d49a" text-anchor="start" textLength="23.24" lengthAdjust="spacingAndGlyphs" fill-opacity="0.72">ATM K468Efs*18</text>
<text x="369.00" y="454.60" font-size="3.6" fill="#f8d49a" text-anchor="start" textLength="16.78" lengthAdjust="spacingAndGlyphs" fill-opacity="0.72">BIRC3 T556</text>
<text x="369.00" y="458.60" font-size="3.6" fill="#eea236" text-anchor="start" textLength="20.58" lengthAdjust="spacingAndGlyphs" fill-opacity="0.72">PLCG2 R665Q</text>
<text x="369.00" y="462.00" font-size="3.6" fill="#b81d3e" text-anchor="start" textLength="5.95" lengthAdjust="spacingAndGlyphs" fill-opacity="0.72">BTK</text>
<text x="360.00" y="471.00" font-size="3.6" fill="#b81d3e" text-anchor="start" textLength="24.49" lengthAdjust="spacingAndGlyphs" fill-opacity="0.72">BIRC3 L421Mfs*6</text>
<text x="287.50" y="479.00" font-size="3.6" fill="#bfe2f0" text-anchor="start" textLength="16.16" lengthAdjust="spacingAndGlyphs" fill-opacity="0.72">BTK C481Y</text>
<text x="287.50" y="481.50" font-size="3.6" fill="#bfe2f0" text-anchor="start" textLength="16.16" lengthAdjust="spacingAndGlyphs" fill-opacity="0.72">BTK C481S</text>
<text x="308.00" y="469.00" font-size="3.6" fill="#bfe2f0" text-anchor="start" textLength="16.16" lengthAdjust="spacingAndGlyphs" fill-opacity="0.72">BTK C481S</text>
<text x="341.00" y="483.00" font-size="3.6" fill="#b81d3e" text-anchor="start" textLength="15.76" lengthAdjust="spacingAndGlyphs" fill-opacity="0.72">BTK T191P</text>
<line x1="287.70" y1="433.35" x2="287.70" y2="490.95" stroke="#222" stroke-width="1.3"/>
<line x1="287.10" y1="490.35" x2="412.10" y2="490.35" stroke="#222" stroke-width="1.3"/>
<line x1="284.70" y1="436.35" x2="287.70" y2="436.35" stroke="#222" stroke-width="1"/>
<text x="281.10" y="438.85" font-size="7.2" fill="#222" text-anchor="end" stroke="#222" stroke-width="0.14" textLength="10.33" lengthAdjust="spacingAndGlyphs">100</text>
<line x1="284.70" y1="444.35" x2="287.70" y2="444.35" stroke="#222" stroke-width="1"/>
<text x="281.10" y="446.85" font-size="7.2" fill="#222" text-anchor="end" stroke="#222" stroke-width="0.14" textLength="6.89" lengthAdjust="spacingAndGlyphs">50</text>
<line x1="284.70" y1="454.73" x2="287.70" y2="454.73" stroke="#222" stroke-width="1"/>
<text x="281.10" y="457.23" font-size="7.2" fill="#222" text-anchor="end" stroke="#222" stroke-width="0.14" textLength="6.89" lengthAdjust="spacingAndGlyphs">20</text>
<line x1="284.70" y1="462.29" x2="287.70" y2="462.29" stroke="#222" stroke-width="1"/>
<text x="281.10" y="464.79" font-size="7.2" fill="#222" text-anchor="end" stroke="#222" stroke-width="0.14" textLength="6.89" lengthAdjust="spacingAndGlyphs">10</text>
<line x1="284.70" y1="469.39" x2="287.70" y2="469.39" stroke="#222" stroke-width="1"/>
<text x="281.10" y="471.89" font-size="7.2" fill="#222" text-anchor="end" stroke="#222" stroke-width="0.14" textLength="3.44" lengthAdjust="spacingAndGlyphs">5</text>
<line x1="284.70" y1="477.50" x2="287.70" y2="477.50" stroke="#222" stroke-width="1"/>
<text x="281.10" y="480.00" font-size="7.2" fill="#222" text-anchor="end" stroke="#222" stroke-width="0.14" textLength="3.44" lengthAdjust="spacingAndGlyphs">2</text>
<line x1="284.70" y1="482.24" x2="287.70" y2="482.24" stroke="#222" stroke-width="1"/>
<text x="281.10" y="484.74" font-size="7.2" fill="#222" text-anchor="end" stroke="#222" stroke-width="0.14" textLength="3.44" lengthAdjust="spacingAndGlyphs">1</text>
<line x1="284.70" y1="490.35" x2="287.70" y2="490.35" stroke="#222" stroke-width="1"/>
<text x="281.10" y="492.85" font-size="7.2" fill="#222" text-anchor="end" stroke="#222" stroke-width="0.14" textLength="3.44" lengthAdjust="spacingAndGlyphs">0</text>
<line x1="342.45" y1="490.35" x2="342.45" y2="492.95" stroke="#222" stroke-width="1"/>
<text x="342.45" y="502.75" font-size="7.2" fill="#222" text-anchor="middle" stroke="#222" stroke-width="0.14" textLength="3.44" lengthAdjust="spacingAndGlyphs">6</text>
<line x1="397.20" y1="490.35" x2="397.20" y2="492.95" stroke="#222" stroke-width="1"/>
<text x="397.20" y="502.75" font-size="7.2" fill="#222" text-anchor="middle" stroke="#222" stroke-width="0.14" textLength="6.89" lengthAdjust="spacingAndGlyphs">12</text>
<rect x="457.95" y="438.06" width="9.20" height="3.72" fill="#621b89"/>
<rect x="467.65" y="438.06" width="9.20" height="3.72" fill="#621b89"/>
<rect x="477.35" y="438.06" width="9.20" height="3.72" fill="#d8d8da"/>
<text x="454.30" y="441.33" font-size="4.7" fill="#333" text-anchor="end" stroke="#333" stroke-width="0.06" textLength="25.31" lengthAdjust="spacingAndGlyphs">ATM N1356D</text>
<rect x="457.95" y="442.28" width="9.20" height="3.72" fill="#621b89"/>
<rect x="467.65" y="442.28" width="9.20" height="3.72" fill="#621b89"/>
<rect x="477.35" y="442.28" width="9.20" height="3.72" fill="#46136f"/>
<text x="454.30" y="445.55" font-size="4.7" fill="#333" text-anchor="end" stroke="#333" stroke-width="0.06" textLength="32.13" lengthAdjust="spacingAndGlyphs">ATM K468Efs*18</text>
<rect x="457.95" y="446.50" width="9.20" height="3.72" fill="#86278a"/>
<rect x="467.65" y="446.50" width="9.20" height="3.72" fill="#86278a"/>
<rect x="477.35" y="446.50" width="9.20" height="3.72" fill="#86278a"/>
<text x="454.30" y="449.77" font-size="4.7" fill="#333" text-anchor="end" stroke="#333" stroke-width="0.06" textLength="25.16" lengthAdjust="spacingAndGlyphs">XPO1 E571K</text>
<rect x="457.95" y="450.72" width="9.20" height="3.72" fill="#86278a"/>
<rect x="467.65" y="450.72" width="9.20" height="3.72" fill="#621b89"/>
<rect x="477.35" y="450.72" width="9.20" height="3.72" fill="#721c72"/>
<text x="454.30" y="453.99" font-size="4.7" fill="#333" text-anchor="end" stroke="#333" stroke-width="0.06" textLength="43.65" lengthAdjust="spacingAndGlyphs">BIRC3 T556_C557insF</text>
<rect x="457.95" y="454.94" width="9.20" height="3.72" fill="#cf3b6a"/>
<rect x="467.65" y="454.94" width="9.20" height="3.72" fill="#d8d8da"/>
<rect x="477.35" y="454.94" width="9.20" height="3.72" fill="#d8d8da"/>
<text x="454.30" y="458.21" font-size="4.7" fill="#333" text-anchor="end" stroke="#333" stroke-width="0.06" textLength="33.86" lengthAdjust="spacingAndGlyphs">BIRC3 L421Mfs*6</text>
<rect x="457.95" y="459.16" width="9.20" height="3.72" fill="#cf3b6a"/>
<rect x="467.65" y="459.16" width="9.20" height="3.72" fill="#cf3b6a"/>
<rect x="477.35" y="459.16" width="9.20" height="3.72" fill="#cf3b6a"/>
<text x="454.30" y="462.43" font-size="4.7" fill="#333" text-anchor="end" stroke="#333" stroke-width="0.06" textLength="28.45" lengthAdjust="spacingAndGlyphs">PLCG2 R665Q</text>
<rect x="457.95" y="463.38" width="9.20" height="3.72" fill="#e0525f"/>
<rect x="467.65" y="463.38" width="9.20" height="3.72" fill="#cf3b6a"/>
<rect x="477.35" y="463.38" width="9.20" height="3.72" fill="#cf3b6a"/>
<text x="454.30" y="466.65" font-size="4.7" fill="#333" text-anchor="end" stroke="#333" stroke-width="0.06" textLength="29.15" lengthAdjust="spacingAndGlyphs">PLCG2 R665W</text>
<rect x="457.95" y="467.60" width="9.20" height="3.72" fill="#ef8462"/>
<rect x="467.65" y="467.60" width="9.20" height="3.72" fill="#d8d8da"/>
<rect x="477.35" y="467.60" width="9.20" height="3.72" fill="#d8d8da"/>
<text x="454.30" y="470.87" font-size="4.7" fill="#333" text-anchor="end" stroke="#333" stroke-width="0.06" textLength="22.34" lengthAdjust="spacingAndGlyphs">BTK C481S</text>
<rect x="457.95" y="471.82" width="9.20" height="3.72" fill="#ef8462"/>
<rect x="467.65" y="471.82" width="9.20" height="3.72" fill="#d8d8da"/>
<rect x="477.35" y="471.82" width="9.20" height="3.72" fill="#d8d8da"/>
<text x="454.30" y="475.09" font-size="4.7" fill="#333" text-anchor="end" stroke="#333" stroke-width="0.06" textLength="22.34" lengthAdjust="spacingAndGlyphs">BTK C481Y</text>
<rect x="457.95" y="476.04" width="9.20" height="3.72" fill="#d8d8da"/>
<rect x="467.65" y="476.04" width="9.20" height="3.72" fill="#f7b07a"/>
<rect x="477.35" y="476.04" width="9.20" height="3.72" fill="#cf3b6a"/>
<text x="454.30" y="479.31" font-size="4.7" fill="#333" text-anchor="end" stroke="#333" stroke-width="0.06" textLength="20.14" lengthAdjust="spacingAndGlyphs">BTK T474I</text>
<rect x="457.95" y="480.26" width="9.20" height="3.72" fill="#d8d8da"/>
<rect x="467.65" y="480.26" width="9.20" height="3.72" fill="#fdeab8"/>
<rect x="477.35" y="480.26" width="9.20" height="3.72" fill="#d8d8da"/>
<text x="454.30" y="483.53" font-size="4.7" fill="#333" text-anchor="end" stroke="#333" stroke-width="0.06" textLength="21.79" lengthAdjust="spacingAndGlyphs">BTK T191P</text>
<rect x="457.95" y="484.48" width="9.20" height="3.72" fill="#d8d8da"/>
<rect x="467.65" y="484.48" width="9.20" height="3.72" fill="#d8d8da"/>
<rect x="477.35" y="484.48" width="9.20" height="3.72" fill="#cf3b6a"/>
<text x="454.30" y="487.75" font-size="4.7" fill="#333" text-anchor="end" stroke="#333" stroke-width="0.06" textLength="35.51" lengthAdjust="spacingAndGlyphs">BIRC3 L542Yfs*26</text>
<text transform="translate(464.95,492.45) rotate(-90)" font-size="7.1" fill="#555" text-anchor="end">C1</text>
<text transform="translate(474.65,492.45) rotate(-90)" font-size="7.1" fill="#555" text-anchor="end">C7</text>
<text transform="translate(484.35,492.45) rotate(-90)" font-size="7.1" fill="#555" text-anchor="end">C9</text>
<text x="104.90" y="587.70" font-size="8.7" fill="#222" text-anchor="middle" textLength="65.42" lengthAdjust="spacingAndGlyphs">Months on treatment</text>
<text x="365.50" y="514.50" font-size="8.7" fill="#222" text-anchor="middle" textLength="65.42" lengthAdjust="spacingAndGlyphs">Months on treatment</text>
<rect x="293" y="524.30" width="7" height="6.5" fill="#c8173f"/>
<text x="303.80" y="529.90" font-size="7.4" fill="#333" text-anchor="start" textLength="26.20" lengthAdjust="spacingAndGlyphs">Acquired</text>
<rect x="293" y="533.30" width="7" height="6.5" fill="#ec9318"/>
<text x="303.80" y="538.90" font-size="7.4" fill="#333" text-anchor="start" textLength="21.50" lengthAdjust="spacingAndGlyphs">Shared</text>
<rect x="293" y="542.30" width="7" height="6.5" fill="#35a7dc"/>
<text x="303.80" y="547.90" font-size="7.4" fill="#333" text-anchor="start" textLength="23.50" lengthAdjust="spacingAndGlyphs">Cleared</text>
<defs><linearGradient id="vg" x1="0" x2="1" y1="0" y2="0"><stop offset="0" stop-color="#fdf3c0"/><stop offset="0.2" stop-color="#f9c583"/><stop offset="0.4" stop-color="#f2875a"/><stop offset="0.55" stop-color="#de4f68"/><stop offset="0.72" stop-color="#b2337b"/><stop offset="0.87" stop-color="#7c2587"/><stop offset="1" stop-color="#4a1487"/></linearGradient></defs>
<rect x="349" y="531" width="101.5" height="9" fill="url(#vg)"/>
<text x="400.00" y="529.00" font-size="7.4" fill="#333" text-anchor="middle" textLength="68.70" lengthAdjust="spacingAndGlyphs">Variant allele frequency</text>
<text x="353.70" y="547.20" font-size="7.4" fill="#333" text-anchor="start" textLength="12.00" lengthAdjust="spacingAndGlyphs">Low</text>
<text x="450.50" y="547.20" font-size="7.4" fill="#333" text-anchor="end" textLength="16.00" lengthAdjust="spacingAndGlyphs">High</text>
<rect x="0.55" y="0.55" width="518.9" height="595.9" fill="none" stroke="#4a4a4a" stroke-width="1.1"/>
</svg></body></html>
